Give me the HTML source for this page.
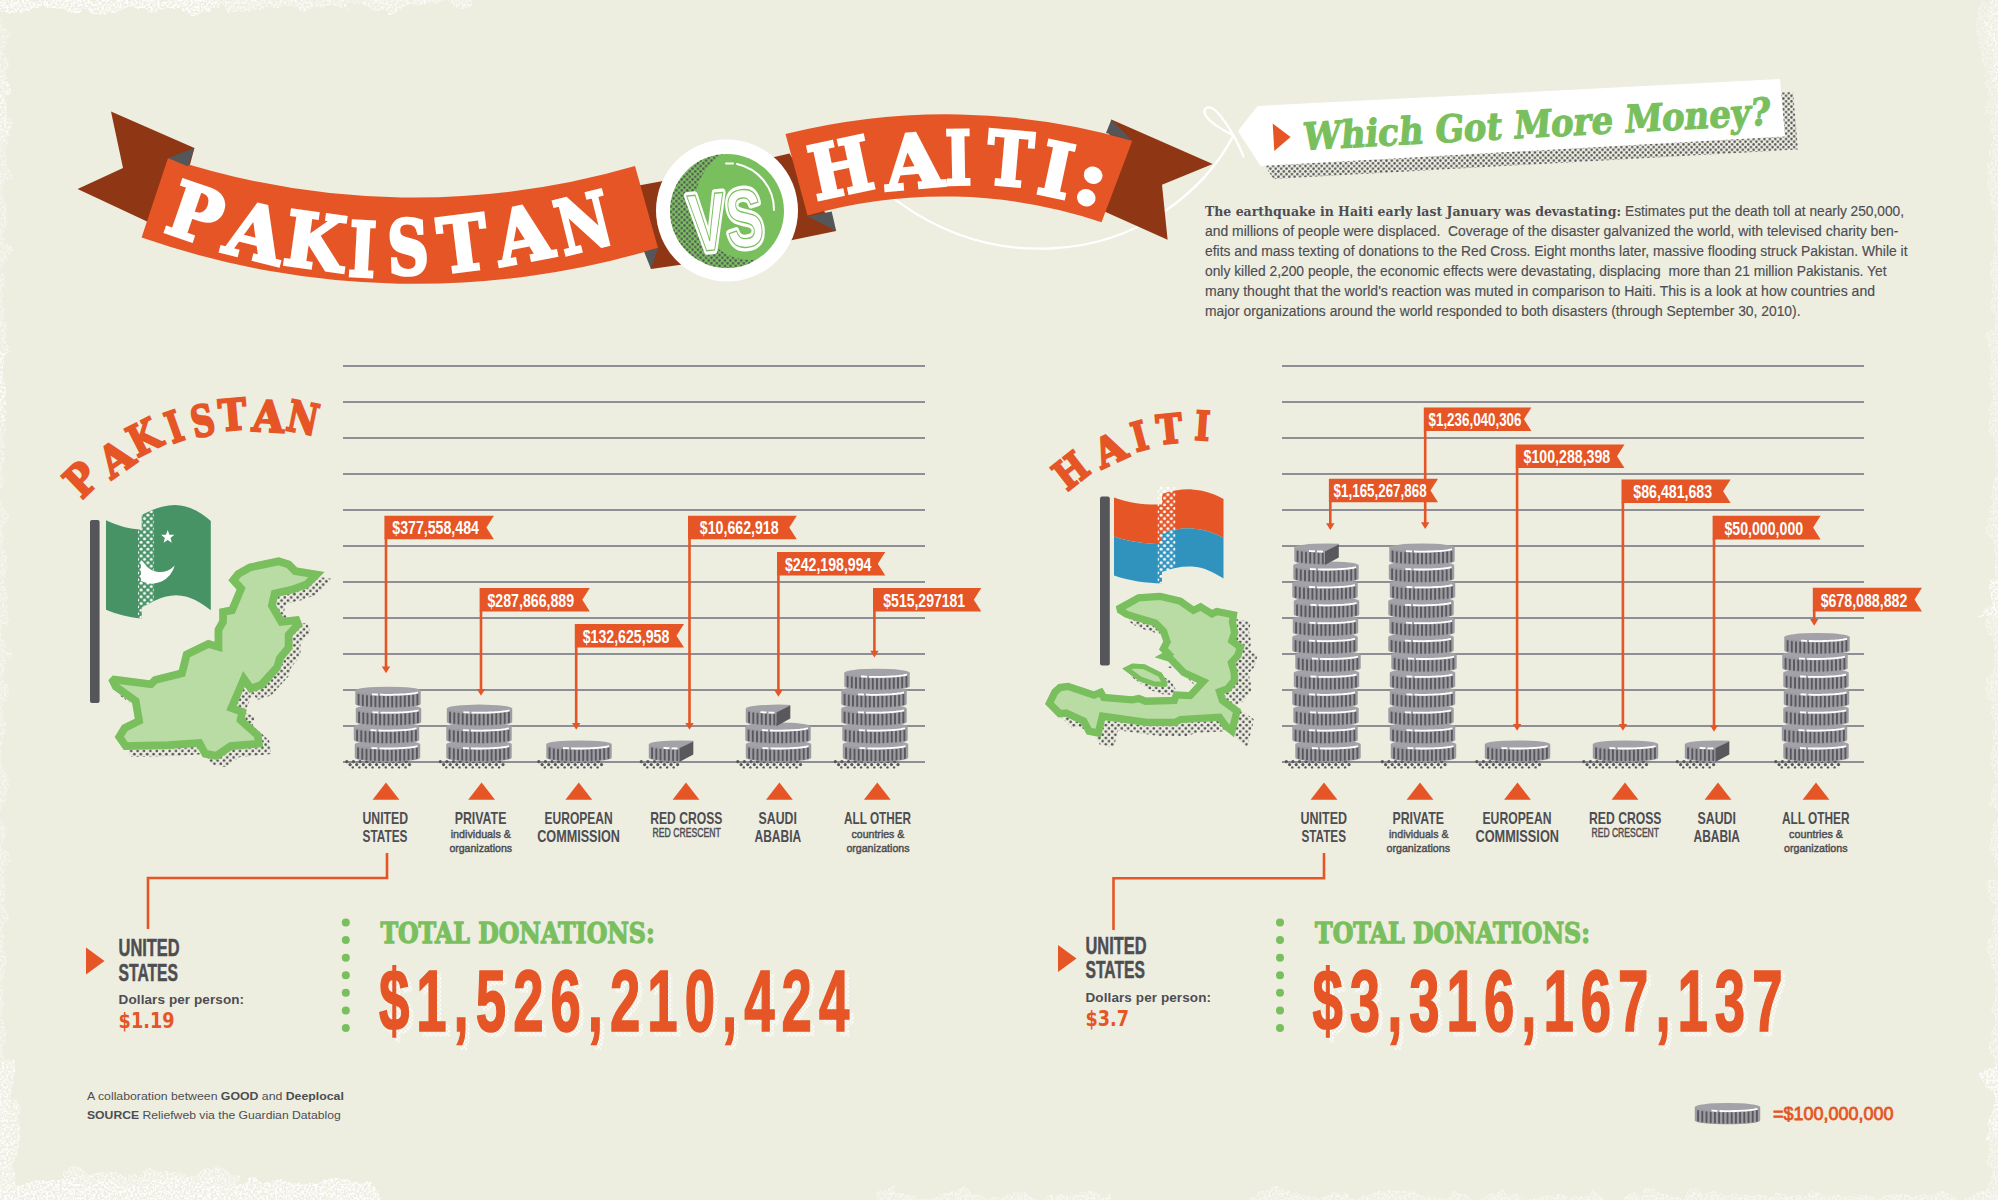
<!DOCTYPE html><html><head><meta charset="utf-8"><title>Pakistan vs Haiti: Which Got More Money?</title>
<style>html,body{margin:0;padding:0;background:#EDEDE0}svg{display:block}</style></head><body>
<svg width="1998" height="1200" viewBox="0 0 1998 1200" font-family='"Liberation Sans", sans-serif'>
<defs>
<pattern id="ht" width="6.4" height="6.4" patternUnits="userSpaceOnUse"><circle cx="1.6" cy="1.6" r="1.35" fill="#55565A"/><circle cx="4.8" cy="4.8" r="1.35" fill="#55565A"/></pattern>
<pattern id="hts" width="5.4" height="5.4" patternUnits="userSpaceOnUse"><circle cx="1.35" cy="1.35" r="1.25" fill="#55565A"/><circle cx="4.05" cy="4.05" r="1.25" fill="#55565A"/></pattern>
<pattern id="htw" width="6.8" height="6.8" patternUnits="userSpaceOnUse"><circle cx="1.7" cy="1.7" r="1.55" fill="#fff"/><circle cx="5.1" cy="5.1" r="1.55" fill="#fff"/></pattern>
<pattern id="htw2" width="7" height="4.4" patternUnits="userSpaceOnUse"><circle cx="1.75" cy="1.1" r="1.3" fill="#fff"/><circle cx="5.25" cy="3.3" r="1.3" fill="#fff"/></pattern>
</defs>
<rect width="1998" height="1200" fill="#EDEDE0"/>
<rect x="343" y="365.0" width="582" height="2" fill="#8E8E96"/>
<rect x="343" y="401.0" width="582" height="2" fill="#8E8E96"/>
<rect x="343" y="437.0" width="582" height="2" fill="#8E8E96"/>
<rect x="343" y="473.0" width="582" height="2" fill="#8E8E96"/>
<rect x="343" y="509.0" width="582" height="2" fill="#8E8E96"/>
<rect x="343" y="545.0" width="582" height="2" fill="#8E8E96"/>
<rect x="343" y="581.0" width="582" height="2" fill="#8E8E96"/>
<rect x="343" y="617.0" width="582" height="2" fill="#8E8E96"/>
<rect x="343" y="653.0" width="582" height="2" fill="#8E8E96"/>
<rect x="343" y="689.0" width="582" height="2" fill="#8E8E96"/>
<rect x="343" y="725.0" width="582" height="2" fill="#8E8E96"/>
<rect x="343" y="761.0" width="582" height="2" fill="#8E8E96"/>
<rect x="1282" y="365.0" width="582" height="2" fill="#8E8E96"/>
<rect x="1282" y="401.0" width="582" height="2" fill="#8E8E96"/>
<rect x="1282" y="437.0" width="582" height="2" fill="#8E8E96"/>
<rect x="1282" y="473.0" width="582" height="2" fill="#8E8E96"/>
<rect x="1282" y="509.0" width="582" height="2" fill="#8E8E96"/>
<rect x="1282" y="545.0" width="582" height="2" fill="#8E8E96"/>
<rect x="1282" y="581.0" width="582" height="2" fill="#8E8E96"/>
<rect x="1282" y="617.0" width="582" height="2" fill="#8E8E96"/>
<rect x="1282" y="653.0" width="582" height="2" fill="#8E8E96"/>
<rect x="1282" y="689.0" width="582" height="2" fill="#8E8E96"/>
<rect x="1282" y="725.0" width="582" height="2" fill="#8E8E96"/>
<rect x="1282" y="761.0" width="582" height="2" fill="#8E8E96"/>
<path d="M1233.5,135.4 C1205,190 1140,245 1050,248.5 C990,251 940,232 899,202.4 L880,188 M1233.5,135.4 C1229,128 1222,115 1213.7,109.1 C1208,105.5 1202.5,108 1205.2,114.5 C1208,121 1222,130 1233.5,135.4 C1237,142 1241,150 1243.5,156.6" fill="none" stroke="#fff" stroke-width="2.3" stroke-linecap="round"/>
<polygon points="111.0,111.6 194.4,148.0 170.0,240.0 146.0,221.0 77.6,189.0 123.0,168.0" fill="#8F3614"/>
<polygon points="636.0,186.0 690.0,176.0 700.0,262.0 651.0,269.0" fill="#8F3614"/>
<polygon points="770.0,158.0 789.5,153.5 836.2,231.0 790.0,240.5 770.0,243.0" fill="#8F3614"/>
<polygon points="1111.4,119.4 1212.7,163.9 1162.0,184.8 1167.6,239.8 1100.0,209.5" fill="#8F3614"/>
<path d="M168.0,158.0 A788.0,788.0 0 0 0 635.0,166.0 L658.0,248.0 A836.6,836.6 0 0 1 141.6,237.6 Z" fill="#E55525"/>
<polygon points="168.0,158.0 194.4,148.0 188.0,166.5" fill="#55565A"/>
<polygon points="644.0,251.5 658.0,248.0 651.0,269.0" fill="#55565A"/>
<path d="M785.5,134.1 A665.8,665.8 0 0 1 1132.3,140.7 L1101.5,222.2 A496.3,496.3 0 0 0 807.5,215.6 Z" fill="#E55525"/>
<polygon points="1111.4,119.4 1106.0,133.0 1132.3,140.7" fill="#55565A"/>
<polygon points="807.5,216.3 831.7,211.5 836.2,231.0" fill="#55565A"/>
<circle cx="727" cy="210.5" r="71" fill="#fff"/>
<circle cx="727" cy="211" r="57" fill="#7ABF5E"/>
<clipPath id="vsc"><circle cx="727" cy="211" r="57"/></clipPath>
<mask id="vsm"><rect x="640" y="130" width="180" height="170" fill="#fff"/><circle cx="752" cy="203" r="57" fill="#000"/></mask>
<g clip-path="url(#vsc)"><rect x="660" y="140" width="140" height="150" fill="url(#hts)" mask="url(#vsm)"/></g>
<path d="M726,163.5 L733,163.5" stroke="#fff" stroke-width="2" fill="none" stroke-linecap="round"/>
<path d="M737,164 A47,47 0 0 1 774,210" stroke="#fff" stroke-width="2" fill="none" stroke-linecap="round"/>
<g transform="translate(729,248.5) rotate(-6)"><text x="0" y="0" text-anchor="middle" font-weight="bold" font-size="82" textLength="74" lengthAdjust="spacingAndGlyphs" fill="#fff" stroke="#fff" stroke-width="8" stroke-linejoin="round">VS</text><text x="0" y="0" text-anchor="middle" font-weight="bold" font-size="82" textLength="74" lengthAdjust="spacingAndGlyphs" fill="none" stroke="#7ABF5E" stroke-width="1.3">VS</text></g>
<text transform="translate(196.0,213.3) rotate(19.0)" x="0" y="27.3" text-anchor="middle" font-family='"DejaVu Serif", "Liberation Serif", serif' font-weight="bold" font-size="75" fill="#fff" stroke="#fff" stroke-width="3.4" lengthAdjust="spacingAndGlyphs" textLength="52">P</text>
<text transform="translate(256.0,232.0) rotate(14.0)" x="0" y="27.3" text-anchor="middle" font-family='"DejaVu Serif", "Liberation Serif", serif' font-weight="bold" font-size="75" fill="#fff" stroke="#fff" stroke-width="3.4" lengthAdjust="spacingAndGlyphs" textLength="58">A</text>
<text transform="translate(315.0,241.0) rotate(8.0)" x="0" y="27.3" text-anchor="middle" font-family='"DejaVu Serif", "Liberation Serif", serif' font-weight="bold" font-size="75" fill="#fff" stroke="#fff" stroke-width="3.4" lengthAdjust="spacingAndGlyphs" textLength="60">K</text>
<text transform="translate(362.5,249.0) rotate(3.0)" x="0" y="27.3" text-anchor="middle" font-family='"DejaVu Serif", "Liberation Serif", serif' font-weight="bold" font-size="75" fill="#fff" stroke="#fff" stroke-width="3.4" lengthAdjust="spacingAndGlyphs" textLength="27">I</text>
<text transform="translate(408.0,246.8) rotate(-2.0)" x="0" y="27.3" text-anchor="middle" font-family='"DejaVu Serif", "Liberation Serif", serif' font-weight="bold" font-size="75" fill="#fff" stroke="#fff" stroke-width="3.4" lengthAdjust="spacingAndGlyphs" textLength="41">S</text>
<text transform="translate(462.7,243.2) rotate(-7.0)" x="0" y="27.3" text-anchor="middle" font-family='"DejaVu Serif", "Liberation Serif", serif' font-weight="bold" font-size="75" fill="#fff" stroke="#fff" stroke-width="3.4" lengthAdjust="spacingAndGlyphs" textLength="49">T</text>
<text transform="translate(523.0,234.1) rotate(-11.0)" x="0" y="27.3" text-anchor="middle" font-family='"DejaVu Serif", "Liberation Serif", serif' font-weight="bold" font-size="75" fill="#fff" stroke="#fff" stroke-width="3.4" lengthAdjust="spacingAndGlyphs" textLength="56">A</text>
<text transform="translate(583.5,222.4) rotate(-14.0)" x="0" y="27.3" text-anchor="middle" font-family='"DejaVu Serif", "Liberation Serif", serif' font-weight="bold" font-size="75" fill="#fff" stroke="#fff" stroke-width="3.4" lengthAdjust="spacingAndGlyphs" textLength="54">N</text>
<text transform="translate(840.6,167.5) rotate(-12.0)" x="0" y="27.0" text-anchor="middle" font-family='"DejaVu Serif", "Liberation Serif", serif' font-weight="bold" font-size="74" fill="#fff" stroke="#fff" stroke-width="3.4" lengthAdjust="spacingAndGlyphs" textLength="62">H</text>
<text transform="translate(913.2,160.8) rotate(-5.0)" x="0" y="27.0" text-anchor="middle" font-family='"DejaVu Serif", "Liberation Serif", serif' font-weight="bold" font-size="74" fill="#fff" stroke="#fff" stroke-width="3.4" lengthAdjust="spacingAndGlyphs" textLength="58">A</text>
<text transform="translate(958.4,157.2) rotate(-1.0)" x="0" y="27.0" text-anchor="middle" font-family='"DejaVu Serif", "Liberation Serif", serif' font-weight="bold" font-size="74" fill="#fff" stroke="#fff" stroke-width="3.4" lengthAdjust="spacingAndGlyphs" textLength="26">I</text>
<text transform="translate(1010.0,158.4) rotate(5.0)" x="0" y="27.0" text-anchor="middle" font-family='"DejaVu Serif", "Liberation Serif", serif' font-weight="bold" font-size="74" fill="#fff" stroke="#fff" stroke-width="3.4" lengthAdjust="spacingAndGlyphs" textLength="46">T</text>
<text transform="translate(1056.4,169.4) rotate(12.0)" x="0" y="27.0" text-anchor="middle" font-family='"DejaVu Serif", "Liberation Serif", serif' font-weight="bold" font-size="74" fill="#fff" stroke="#fff" stroke-width="3.4" lengthAdjust="spacingAndGlyphs" textLength="32">I</text>
<text transform="translate(1092.5,177.5) rotate(17.0)" x="0" y="27.0" text-anchor="middle" font-family='"DejaVu Serif", "Liberation Serif", serif' font-weight="bold" font-size="74" fill="#fff" stroke="#fff" stroke-width="3.4" lengthAdjust="spacingAndGlyphs" textLength="30">:</text>
<polygon points="1270.6,119.0 1793.0,92.0 1798.0,149.5 1273.5,179.0 1250.8,144.0" fill="url(#hts)"/>
<polygon points="1257.6,106.0 1780.0,79.0 1785.0,136.5 1260.5,166.0 1237.8,131.0" fill="#fff"/>
<polygon points="1272.7,123.4 1290.6,137.0 1274.3,151.0" fill="#E55525"/>
<text transform="translate(1302,150) rotate(-3.1) skewX(-8)" x="0" y="0" font-family='"DejaVu Serif", "Liberation Serif", serif' font-weight="bold" font-size="37.5" textLength="468" lengthAdjust="spacingAndGlyphs" fill="#7ABF5E" stroke="#7ABF5E" stroke-width="1.2">Which Got More Money?</text>
<text x="1205" y="216" font-family='"DejaVu Serif", "Liberation Serif", serif' font-weight="bold" font-size="12.5" textLength="416.0" lengthAdjust="spacingAndGlyphs" fill="#4D4D52">The earthquake in Haiti early last January was devastating:</text>
<text x="1625.0" y="216" font-size="13.8" stroke="#4D4D52" stroke-width="0.15" textLength="279.0" lengthAdjust="spacingAndGlyphs" fill="#4D4D52">Estimates put the death toll at nearly 250,000,</text>
<text x="1205" y="236" font-size="13.8" stroke="#4D4D52" stroke-width="0.15" textLength="693.5" lengthAdjust="spacingAndGlyphs" fill="#4D4D52" xml:space="preserve">and millions of people were displaced.  Coverage of the disaster galvanized the world, with televised charity ben-</text>
<text x="1205" y="256" font-size="13.8" stroke="#4D4D52" stroke-width="0.15" textLength="702.5" lengthAdjust="spacingAndGlyphs" fill="#4D4D52" xml:space="preserve">efits and mass texting of donations to the Red Cross. Eight months later, massive flooding struck Pakistan. While it</text>
<text x="1205" y="276" font-size="13.8" stroke="#4D4D52" stroke-width="0.15" textLength="681.5" lengthAdjust="spacingAndGlyphs" fill="#4D4D52" xml:space="preserve">only killed 2,200 people, the economic effects were devastating, displacing  more than 21 million Pakistanis. Yet</text>
<text x="1205" y="296" font-size="13.8" stroke="#4D4D52" stroke-width="0.15" textLength="670.0" lengthAdjust="spacingAndGlyphs" fill="#4D4D52" xml:space="preserve">many thought that the world's reaction was muted in comparison to Haiti. This is a look at how countries and</text>
<text x="1205" y="316" font-size="13.8" stroke="#4D4D52" stroke-width="0.15" textLength="595.5" lengthAdjust="spacingAndGlyphs" fill="#4D4D52" xml:space="preserve">major organizations around the world responded to both disasters (through September 30, 2010).</text>
<circle cx="346.8" cy="761.6" r="1.6" fill="#55565A"/><circle cx="353.4" cy="761.6" r="1.6" fill="#55565A"/><circle cx="360.0" cy="761.6" r="1.6" fill="#55565A"/><circle cx="366.6" cy="761.6" r="1.6" fill="#55565A"/><circle cx="373.2" cy="761.6" r="1.6" fill="#55565A"/><circle cx="379.8" cy="761.6" r="1.6" fill="#55565A"/><circle cx="386.4" cy="761.6" r="1.6" fill="#55565A"/><circle cx="393.0" cy="761.6" r="1.6" fill="#55565A"/><circle cx="399.6" cy="761.6" r="1.6" fill="#55565A"/><circle cx="406.2" cy="761.6" r="1.6" fill="#55565A"/><circle cx="350.1" cy="764.6" r="1.6" fill="#55565A"/><circle cx="356.7" cy="764.6" r="1.6" fill="#55565A"/><circle cx="363.3" cy="764.6" r="1.6" fill="#55565A"/><circle cx="369.9" cy="764.6" r="1.6" fill="#55565A"/><circle cx="376.5" cy="764.6" r="1.6" fill="#55565A"/><circle cx="383.1" cy="764.6" r="1.6" fill="#55565A"/><circle cx="389.7" cy="764.6" r="1.6" fill="#55565A"/><circle cx="396.3" cy="764.6" r="1.6" fill="#55565A"/><circle cx="402.9" cy="764.6" r="1.6" fill="#55565A"/><circle cx="409.5" cy="764.6" r="1.6" fill="#55565A"/><circle cx="352.8" cy="767.4" r="1.2" fill="#55565A"/><circle cx="359.4" cy="767.4" r="1.2" fill="#55565A"/><circle cx="366.0" cy="767.4" r="1.2" fill="#55565A"/><circle cx="372.6" cy="767.4" r="1.2" fill="#55565A"/><circle cx="379.2" cy="767.4" r="1.2" fill="#55565A"/><circle cx="385.8" cy="767.4" r="1.2" fill="#55565A"/><circle cx="392.4" cy="767.4" r="1.2" fill="#55565A"/><circle cx="399.0" cy="767.4" r="1.2" fill="#55565A"/><circle cx="405.6" cy="767.4" r="1.2" fill="#55565A"/>
<path d="M354.8,744.3 v13.5 a32.7,3.9 0 0 0 65.4,0 v-13.5 z" fill="#9C9CA2"/><ellipse cx="387.5" cy="744.3" rx="32.7" ry="3.9" fill="#A2A2A8"/><line x1="358.1" y1="748.3" x2="358.1" y2="758.1" stroke="#58585D" stroke-width="1.9" stroke-linecap="round"/><line x1="362.3" y1="749.1" x2="362.3" y2="758.9" stroke="#58585D" stroke-width="1.9" stroke-linecap="round"/><line x1="366.5" y1="749.6" x2="366.5" y2="759.4" stroke="#58585D" stroke-width="1.9" stroke-linecap="round"/><line x1="370.7" y1="749.9" x2="370.7" y2="759.7" stroke="#58585D" stroke-width="1.9" stroke-linecap="round"/><line x1="374.9" y1="750.2" x2="374.9" y2="760.0" stroke="#58585D" stroke-width="1.9" stroke-linecap="round"/><line x1="379.1" y1="750.4" x2="379.1" y2="760.2" stroke="#58585D" stroke-width="1.9" stroke-linecap="round"/><line x1="383.3" y1="750.5" x2="383.3" y2="760.3" stroke="#58585D" stroke-width="1.9" stroke-linecap="round"/><line x1="387.5" y1="750.5" x2="387.5" y2="760.3" stroke="#58585D" stroke-width="1.9" stroke-linecap="round"/><line x1="391.7" y1="750.5" x2="391.7" y2="760.3" stroke="#58585D" stroke-width="1.9" stroke-linecap="round"/><line x1="395.9" y1="750.4" x2="395.9" y2="760.2" stroke="#58585D" stroke-width="1.9" stroke-linecap="round"/><line x1="400.1" y1="750.2" x2="400.1" y2="760.0" stroke="#58585D" stroke-width="1.9" stroke-linecap="round"/><line x1="404.3" y1="749.9" x2="404.3" y2="759.7" stroke="#58585D" stroke-width="1.9" stroke-linecap="round"/><line x1="408.5" y1="749.6" x2="408.5" y2="759.4" stroke="#58585D" stroke-width="1.9" stroke-linecap="round"/><line x1="412.7" y1="749.1" x2="412.7" y2="758.9" stroke="#58585D" stroke-width="1.9" stroke-linecap="round"/><line x1="416.9" y1="748.3" x2="416.9" y2="758.1" stroke="#58585D" stroke-width="1.9" stroke-linecap="round"/><polyline points="371.5,748.0 373.5,748.1 375.5,748.2 377.5,748.3" fill="none" stroke="#fff" stroke-width="1.8"/><polyline points="379.5,748.4 381.5,748.4 383.5,748.5 385.5,748.5 387.5,748.5 389.5,748.5 391.5,748.5 393.5,748.4 395.5,748.4 397.5,748.3 399.5,748.2 401.5,748.1 403.5,748.0 405.5,747.9 407.5,747.7 409.5,747.5 411.5,747.2 413.5,747.0 415.5,746.6 417.5,746.2" fill="none" stroke="#fff" stroke-width="1.8"/>
<path d="M353.8,726.4 v13.5 a32.7,3.9 0 0 0 65.4,0 v-13.5 z" fill="#9C9CA2"/><ellipse cx="386.5" cy="726.4" rx="32.7" ry="3.9" fill="#A2A2A8"/><line x1="357.1" y1="730.4" x2="357.1" y2="740.2" stroke="#58585D" stroke-width="1.9" stroke-linecap="round"/><line x1="361.3" y1="731.2" x2="361.3" y2="741.0" stroke="#58585D" stroke-width="1.9" stroke-linecap="round"/><line x1="365.5" y1="731.7" x2="365.5" y2="741.5" stroke="#58585D" stroke-width="1.9" stroke-linecap="round"/><line x1="369.7" y1="732.0" x2="369.7" y2="741.8" stroke="#58585D" stroke-width="1.9" stroke-linecap="round"/><line x1="373.9" y1="732.3" x2="373.9" y2="742.1" stroke="#58585D" stroke-width="1.9" stroke-linecap="round"/><line x1="378.1" y1="732.5" x2="378.1" y2="742.3" stroke="#58585D" stroke-width="1.9" stroke-linecap="round"/><line x1="382.3" y1="732.6" x2="382.3" y2="742.4" stroke="#58585D" stroke-width="1.9" stroke-linecap="round"/><line x1="386.5" y1="732.6" x2="386.5" y2="742.4" stroke="#58585D" stroke-width="1.9" stroke-linecap="round"/><line x1="390.7" y1="732.6" x2="390.7" y2="742.4" stroke="#58585D" stroke-width="1.9" stroke-linecap="round"/><line x1="394.9" y1="732.5" x2="394.9" y2="742.3" stroke="#58585D" stroke-width="1.9" stroke-linecap="round"/><line x1="399.1" y1="732.3" x2="399.1" y2="742.1" stroke="#58585D" stroke-width="1.9" stroke-linecap="round"/><line x1="403.3" y1="732.0" x2="403.3" y2="741.8" stroke="#58585D" stroke-width="1.9" stroke-linecap="round"/><line x1="407.5" y1="731.7" x2="407.5" y2="741.5" stroke="#58585D" stroke-width="1.9" stroke-linecap="round"/><line x1="411.7" y1="731.2" x2="411.7" y2="741.0" stroke="#58585D" stroke-width="1.9" stroke-linecap="round"/><line x1="415.9" y1="730.4" x2="415.9" y2="740.2" stroke="#58585D" stroke-width="1.9" stroke-linecap="round"/><polyline points="370.5,730.1 372.5,730.2 374.5,730.3 376.5,730.4" fill="none" stroke="#fff" stroke-width="1.8"/><polyline points="378.5,730.5 380.5,730.5 382.5,730.6 384.5,730.6 386.5,730.6 388.5,730.6 390.5,730.6 392.5,730.5 394.5,730.5 396.5,730.4 398.5,730.3 400.5,730.2 402.5,730.1 404.5,730.0 406.5,729.8 408.5,729.6 410.5,729.3 412.5,729.1 414.5,728.7 416.5,728.3" fill="none" stroke="#fff" stroke-width="1.8"/>
<path d="M355.8,708.5 v13.5 a32.7,3.9 0 0 0 65.4,0 v-13.5 z" fill="#9C9CA2"/><ellipse cx="388.5" cy="708.5" rx="32.7" ry="3.9" fill="#A2A2A8"/><line x1="359.1" y1="712.5" x2="359.1" y2="722.3" stroke="#58585D" stroke-width="1.9" stroke-linecap="round"/><line x1="363.3" y1="713.3" x2="363.3" y2="723.1" stroke="#58585D" stroke-width="1.9" stroke-linecap="round"/><line x1="367.5" y1="713.8" x2="367.5" y2="723.6" stroke="#58585D" stroke-width="1.9" stroke-linecap="round"/><line x1="371.7" y1="714.1" x2="371.7" y2="723.9" stroke="#58585D" stroke-width="1.9" stroke-linecap="round"/><line x1="375.9" y1="714.4" x2="375.9" y2="724.2" stroke="#58585D" stroke-width="1.9" stroke-linecap="round"/><line x1="380.1" y1="714.6" x2="380.1" y2="724.4" stroke="#58585D" stroke-width="1.9" stroke-linecap="round"/><line x1="384.3" y1="714.7" x2="384.3" y2="724.5" stroke="#58585D" stroke-width="1.9" stroke-linecap="round"/><line x1="388.5" y1="714.7" x2="388.5" y2="724.5" stroke="#58585D" stroke-width="1.9" stroke-linecap="round"/><line x1="392.7" y1="714.7" x2="392.7" y2="724.5" stroke="#58585D" stroke-width="1.9" stroke-linecap="round"/><line x1="396.9" y1="714.6" x2="396.9" y2="724.4" stroke="#58585D" stroke-width="1.9" stroke-linecap="round"/><line x1="401.1" y1="714.4" x2="401.1" y2="724.2" stroke="#58585D" stroke-width="1.9" stroke-linecap="round"/><line x1="405.3" y1="714.1" x2="405.3" y2="723.9" stroke="#58585D" stroke-width="1.9" stroke-linecap="round"/><line x1="409.5" y1="713.8" x2="409.5" y2="723.6" stroke="#58585D" stroke-width="1.9" stroke-linecap="round"/><line x1="413.7" y1="713.3" x2="413.7" y2="723.1" stroke="#58585D" stroke-width="1.9" stroke-linecap="round"/><line x1="417.9" y1="712.5" x2="417.9" y2="722.3" stroke="#58585D" stroke-width="1.9" stroke-linecap="round"/><polyline points="372.5,712.2 374.5,712.3 376.5,712.4 378.5,712.5" fill="none" stroke="#fff" stroke-width="1.8"/><polyline points="380.5,712.6 382.5,712.6 384.5,712.7 386.5,712.7 388.5,712.7 390.5,712.7 392.5,712.7 394.5,712.6 396.5,712.6 398.5,712.5 400.5,712.4 402.5,712.3 404.5,712.2 406.5,712.1 408.5,711.9 410.5,711.7 412.5,711.4 414.5,711.2 416.5,710.8 418.5,710.4" fill="none" stroke="#fff" stroke-width="1.8"/>
<path d="M355.3,690.6 v13.5 a32.7,3.9 0 0 0 65.4,0 v-13.5 z" fill="#9C9CA2"/><ellipse cx="388.0" cy="690.6" rx="32.7" ry="3.9" fill="#A2A2A8"/><line x1="358.6" y1="694.6" x2="358.6" y2="704.4" stroke="#58585D" stroke-width="1.9" stroke-linecap="round"/><line x1="362.8" y1="695.4" x2="362.8" y2="705.2" stroke="#58585D" stroke-width="1.9" stroke-linecap="round"/><line x1="367.0" y1="695.9" x2="367.0" y2="705.7" stroke="#58585D" stroke-width="1.9" stroke-linecap="round"/><line x1="371.2" y1="696.2" x2="371.2" y2="706.0" stroke="#58585D" stroke-width="1.9" stroke-linecap="round"/><line x1="375.4" y1="696.5" x2="375.4" y2="706.3" stroke="#58585D" stroke-width="1.9" stroke-linecap="round"/><line x1="379.6" y1="696.7" x2="379.6" y2="706.5" stroke="#58585D" stroke-width="1.9" stroke-linecap="round"/><line x1="383.8" y1="696.8" x2="383.8" y2="706.6" stroke="#58585D" stroke-width="1.9" stroke-linecap="round"/><line x1="388.0" y1="696.8" x2="388.0" y2="706.6" stroke="#58585D" stroke-width="1.9" stroke-linecap="round"/><line x1="392.2" y1="696.8" x2="392.2" y2="706.6" stroke="#58585D" stroke-width="1.9" stroke-linecap="round"/><line x1="396.4" y1="696.7" x2="396.4" y2="706.5" stroke="#58585D" stroke-width="1.9" stroke-linecap="round"/><line x1="400.6" y1="696.5" x2="400.6" y2="706.3" stroke="#58585D" stroke-width="1.9" stroke-linecap="round"/><line x1="404.8" y1="696.2" x2="404.8" y2="706.0" stroke="#58585D" stroke-width="1.9" stroke-linecap="round"/><line x1="409.0" y1="695.9" x2="409.0" y2="705.7" stroke="#58585D" stroke-width="1.9" stroke-linecap="round"/><line x1="413.2" y1="695.4" x2="413.2" y2="705.2" stroke="#58585D" stroke-width="1.9" stroke-linecap="round"/><line x1="417.4" y1="694.6" x2="417.4" y2="704.4" stroke="#58585D" stroke-width="1.9" stroke-linecap="round"/><polyline points="372.0,694.3 374.0,694.4 376.0,694.5 378.0,694.6" fill="none" stroke="#fff" stroke-width="1.8"/><polyline points="380.0,694.7 382.0,694.7 384.0,694.8 386.0,694.8 388.0,694.8 390.0,694.8 392.0,694.8 394.0,694.7 396.0,694.7 398.0,694.6 400.0,694.5 402.0,694.4 404.0,694.3 406.0,694.2 408.0,694.0 410.0,693.8 412.0,693.5 414.0,693.3 416.0,692.9 418.0,692.5" fill="none" stroke="#fff" stroke-width="1.8"/>
<circle cx="440.3" cy="761.6" r="1.6" fill="#55565A"/><circle cx="446.9" cy="761.6" r="1.6" fill="#55565A"/><circle cx="453.5" cy="761.6" r="1.6" fill="#55565A"/><circle cx="460.1" cy="761.6" r="1.6" fill="#55565A"/><circle cx="466.7" cy="761.6" r="1.6" fill="#55565A"/><circle cx="473.3" cy="761.6" r="1.6" fill="#55565A"/><circle cx="479.9" cy="761.6" r="1.6" fill="#55565A"/><circle cx="486.5" cy="761.6" r="1.6" fill="#55565A"/><circle cx="493.1" cy="761.6" r="1.6" fill="#55565A"/><circle cx="499.7" cy="761.6" r="1.6" fill="#55565A"/><circle cx="443.6" cy="764.6" r="1.6" fill="#55565A"/><circle cx="450.2" cy="764.6" r="1.6" fill="#55565A"/><circle cx="456.8" cy="764.6" r="1.6" fill="#55565A"/><circle cx="463.4" cy="764.6" r="1.6" fill="#55565A"/><circle cx="470.0" cy="764.6" r="1.6" fill="#55565A"/><circle cx="476.6" cy="764.6" r="1.6" fill="#55565A"/><circle cx="483.2" cy="764.6" r="1.6" fill="#55565A"/><circle cx="489.8" cy="764.6" r="1.6" fill="#55565A"/><circle cx="496.4" cy="764.6" r="1.6" fill="#55565A"/><circle cx="503.0" cy="764.6" r="1.6" fill="#55565A"/><circle cx="446.3" cy="767.4" r="1.2" fill="#55565A"/><circle cx="452.9" cy="767.4" r="1.2" fill="#55565A"/><circle cx="459.5" cy="767.4" r="1.2" fill="#55565A"/><circle cx="466.1" cy="767.4" r="1.2" fill="#55565A"/><circle cx="472.7" cy="767.4" r="1.2" fill="#55565A"/><circle cx="479.3" cy="767.4" r="1.2" fill="#55565A"/><circle cx="485.9" cy="767.4" r="1.2" fill="#55565A"/><circle cx="492.5" cy="767.4" r="1.2" fill="#55565A"/><circle cx="499.1" cy="767.4" r="1.2" fill="#55565A"/>
<path d="M446.3,744.3 v13.5 a32.7,3.9 0 0 0 65.4,0 v-13.5 z" fill="#9C9CA2"/><ellipse cx="479.0" cy="744.3" rx="32.7" ry="3.9" fill="#A2A2A8"/><line x1="449.6" y1="748.3" x2="449.6" y2="758.1" stroke="#58585D" stroke-width="1.9" stroke-linecap="round"/><line x1="453.8" y1="749.1" x2="453.8" y2="758.9" stroke="#58585D" stroke-width="1.9" stroke-linecap="round"/><line x1="458.0" y1="749.6" x2="458.0" y2="759.4" stroke="#58585D" stroke-width="1.9" stroke-linecap="round"/><line x1="462.2" y1="749.9" x2="462.2" y2="759.7" stroke="#58585D" stroke-width="1.9" stroke-linecap="round"/><line x1="466.4" y1="750.2" x2="466.4" y2="760.0" stroke="#58585D" stroke-width="1.9" stroke-linecap="round"/><line x1="470.6" y1="750.4" x2="470.6" y2="760.2" stroke="#58585D" stroke-width="1.9" stroke-linecap="round"/><line x1="474.8" y1="750.5" x2="474.8" y2="760.3" stroke="#58585D" stroke-width="1.9" stroke-linecap="round"/><line x1="479.0" y1="750.5" x2="479.0" y2="760.3" stroke="#58585D" stroke-width="1.9" stroke-linecap="round"/><line x1="483.2" y1="750.5" x2="483.2" y2="760.3" stroke="#58585D" stroke-width="1.9" stroke-linecap="round"/><line x1="487.4" y1="750.4" x2="487.4" y2="760.2" stroke="#58585D" stroke-width="1.9" stroke-linecap="round"/><line x1="491.6" y1="750.2" x2="491.6" y2="760.0" stroke="#58585D" stroke-width="1.9" stroke-linecap="round"/><line x1="495.8" y1="749.9" x2="495.8" y2="759.7" stroke="#58585D" stroke-width="1.9" stroke-linecap="round"/><line x1="500.0" y1="749.6" x2="500.0" y2="759.4" stroke="#58585D" stroke-width="1.9" stroke-linecap="round"/><line x1="504.2" y1="749.1" x2="504.2" y2="758.9" stroke="#58585D" stroke-width="1.9" stroke-linecap="round"/><line x1="508.4" y1="748.3" x2="508.4" y2="758.1" stroke="#58585D" stroke-width="1.9" stroke-linecap="round"/><polyline points="463.0,748.0 465.0,748.1 467.0,748.2 469.0,748.3" fill="none" stroke="#fff" stroke-width="1.8"/><polyline points="471.0,748.4 473.0,748.4 475.0,748.5 477.0,748.5 479.0,748.5 481.0,748.5 483.0,748.5 485.0,748.4 487.0,748.4 489.0,748.3 491.0,748.2 493.0,748.1 495.0,748.0 497.0,747.9 499.0,747.7 501.0,747.5 503.0,747.2 505.0,747.0 507.0,746.6 509.0,746.2" fill="none" stroke="#fff" stroke-width="1.8"/>
<path d="M446.3,726.4 v13.5 a32.7,3.9 0 0 0 65.4,0 v-13.5 z" fill="#9C9CA2"/><ellipse cx="479.0" cy="726.4" rx="32.7" ry="3.9" fill="#A2A2A8"/><line x1="449.6" y1="730.4" x2="449.6" y2="740.2" stroke="#58585D" stroke-width="1.9" stroke-linecap="round"/><line x1="453.8" y1="731.2" x2="453.8" y2="741.0" stroke="#58585D" stroke-width="1.9" stroke-linecap="round"/><line x1="458.0" y1="731.7" x2="458.0" y2="741.5" stroke="#58585D" stroke-width="1.9" stroke-linecap="round"/><line x1="462.2" y1="732.0" x2="462.2" y2="741.8" stroke="#58585D" stroke-width="1.9" stroke-linecap="round"/><line x1="466.4" y1="732.3" x2="466.4" y2="742.1" stroke="#58585D" stroke-width="1.9" stroke-linecap="round"/><line x1="470.6" y1="732.5" x2="470.6" y2="742.3" stroke="#58585D" stroke-width="1.9" stroke-linecap="round"/><line x1="474.8" y1="732.6" x2="474.8" y2="742.4" stroke="#58585D" stroke-width="1.9" stroke-linecap="round"/><line x1="479.0" y1="732.6" x2="479.0" y2="742.4" stroke="#58585D" stroke-width="1.9" stroke-linecap="round"/><line x1="483.2" y1="732.6" x2="483.2" y2="742.4" stroke="#58585D" stroke-width="1.9" stroke-linecap="round"/><line x1="487.4" y1="732.5" x2="487.4" y2="742.3" stroke="#58585D" stroke-width="1.9" stroke-linecap="round"/><line x1="491.6" y1="732.3" x2="491.6" y2="742.1" stroke="#58585D" stroke-width="1.9" stroke-linecap="round"/><line x1="495.8" y1="732.0" x2="495.8" y2="741.8" stroke="#58585D" stroke-width="1.9" stroke-linecap="round"/><line x1="500.0" y1="731.7" x2="500.0" y2="741.5" stroke="#58585D" stroke-width="1.9" stroke-linecap="round"/><line x1="504.2" y1="731.2" x2="504.2" y2="741.0" stroke="#58585D" stroke-width="1.9" stroke-linecap="round"/><line x1="508.4" y1="730.4" x2="508.4" y2="740.2" stroke="#58585D" stroke-width="1.9" stroke-linecap="round"/><polyline points="463.0,730.1 465.0,730.2 467.0,730.3 469.0,730.4" fill="none" stroke="#fff" stroke-width="1.8"/><polyline points="471.0,730.5 473.0,730.5 475.0,730.6 477.0,730.6 479.0,730.6 481.0,730.6 483.0,730.6 485.0,730.5 487.0,730.5 489.0,730.4 491.0,730.3 493.0,730.2 495.0,730.1 497.0,730.0 499.0,729.8 501.0,729.6 503.0,729.3 505.0,729.1 507.0,728.7 509.0,728.3" fill="none" stroke="#fff" stroke-width="1.8"/>
<path d="M446.8,708.5 v13.5 a32.7,3.9 0 0 0 65.4,0 v-13.5 z" fill="#9C9CA2"/><ellipse cx="479.5" cy="708.5" rx="32.7" ry="3.9" fill="#A2A2A8"/><line x1="450.1" y1="712.5" x2="450.1" y2="722.3" stroke="#58585D" stroke-width="1.9" stroke-linecap="round"/><line x1="454.3" y1="713.3" x2="454.3" y2="723.1" stroke="#58585D" stroke-width="1.9" stroke-linecap="round"/><line x1="458.5" y1="713.8" x2="458.5" y2="723.6" stroke="#58585D" stroke-width="1.9" stroke-linecap="round"/><line x1="462.7" y1="714.1" x2="462.7" y2="723.9" stroke="#58585D" stroke-width="1.9" stroke-linecap="round"/><line x1="466.9" y1="714.4" x2="466.9" y2="724.2" stroke="#58585D" stroke-width="1.9" stroke-linecap="round"/><line x1="471.1" y1="714.6" x2="471.1" y2="724.4" stroke="#58585D" stroke-width="1.9" stroke-linecap="round"/><line x1="475.3" y1="714.7" x2="475.3" y2="724.5" stroke="#58585D" stroke-width="1.9" stroke-linecap="round"/><line x1="479.5" y1="714.7" x2="479.5" y2="724.5" stroke="#58585D" stroke-width="1.9" stroke-linecap="round"/><line x1="483.7" y1="714.7" x2="483.7" y2="724.5" stroke="#58585D" stroke-width="1.9" stroke-linecap="round"/><line x1="487.9" y1="714.6" x2="487.9" y2="724.4" stroke="#58585D" stroke-width="1.9" stroke-linecap="round"/><line x1="492.1" y1="714.4" x2="492.1" y2="724.2" stroke="#58585D" stroke-width="1.9" stroke-linecap="round"/><line x1="496.3" y1="714.1" x2="496.3" y2="723.9" stroke="#58585D" stroke-width="1.9" stroke-linecap="round"/><line x1="500.5" y1="713.8" x2="500.5" y2="723.6" stroke="#58585D" stroke-width="1.9" stroke-linecap="round"/><line x1="504.7" y1="713.3" x2="504.7" y2="723.1" stroke="#58585D" stroke-width="1.9" stroke-linecap="round"/><line x1="508.9" y1="712.5" x2="508.9" y2="722.3" stroke="#58585D" stroke-width="1.9" stroke-linecap="round"/><polyline points="463.5,712.2 465.5,712.3 467.5,712.4 469.5,712.5" fill="none" stroke="#fff" stroke-width="1.8"/><polyline points="471.5,712.6 473.5,712.6 475.5,712.7 477.5,712.7 479.5,712.7 481.5,712.7 483.5,712.7 485.5,712.6 487.5,712.6 489.5,712.5 491.5,712.4 493.5,712.3 495.5,712.2 497.5,712.1 499.5,711.9 501.5,711.7 503.5,711.4 505.5,711.2 507.5,710.8 509.5,710.4" fill="none" stroke="#fff" stroke-width="1.8"/>
<circle cx="538.8" cy="761.6" r="1.6" fill="#55565A"/><circle cx="545.4" cy="761.6" r="1.6" fill="#55565A"/><circle cx="552.0" cy="761.6" r="1.6" fill="#55565A"/><circle cx="558.6" cy="761.6" r="1.6" fill="#55565A"/><circle cx="565.2" cy="761.6" r="1.6" fill="#55565A"/><circle cx="571.8" cy="761.6" r="1.6" fill="#55565A"/><circle cx="578.4" cy="761.6" r="1.6" fill="#55565A"/><circle cx="585.0" cy="761.6" r="1.6" fill="#55565A"/><circle cx="591.6" cy="761.6" r="1.6" fill="#55565A"/><circle cx="598.2" cy="761.6" r="1.6" fill="#55565A"/><circle cx="542.1" cy="764.6" r="1.6" fill="#55565A"/><circle cx="548.7" cy="764.6" r="1.6" fill="#55565A"/><circle cx="555.3" cy="764.6" r="1.6" fill="#55565A"/><circle cx="561.9" cy="764.6" r="1.6" fill="#55565A"/><circle cx="568.5" cy="764.6" r="1.6" fill="#55565A"/><circle cx="575.1" cy="764.6" r="1.6" fill="#55565A"/><circle cx="581.7" cy="764.6" r="1.6" fill="#55565A"/><circle cx="588.3" cy="764.6" r="1.6" fill="#55565A"/><circle cx="594.9" cy="764.6" r="1.6" fill="#55565A"/><circle cx="601.5" cy="764.6" r="1.6" fill="#55565A"/><circle cx="544.8" cy="767.4" r="1.2" fill="#55565A"/><circle cx="551.4" cy="767.4" r="1.2" fill="#55565A"/><circle cx="558.0" cy="767.4" r="1.2" fill="#55565A"/><circle cx="564.6" cy="767.4" r="1.2" fill="#55565A"/><circle cx="571.2" cy="767.4" r="1.2" fill="#55565A"/><circle cx="577.8" cy="767.4" r="1.2" fill="#55565A"/><circle cx="584.4" cy="767.4" r="1.2" fill="#55565A"/><circle cx="591.0" cy="767.4" r="1.2" fill="#55565A"/><circle cx="597.6" cy="767.4" r="1.2" fill="#55565A"/>
<path d="M546.3,744.3 v13.5 a32.7,3.9 0 0 0 65.4,0 v-13.5 z" fill="#9C9CA2"/><ellipse cx="579.0" cy="744.3" rx="32.7" ry="3.9" fill="#A2A2A8"/><line x1="549.6" y1="748.3" x2="549.6" y2="758.1" stroke="#58585D" stroke-width="1.9" stroke-linecap="round"/><line x1="553.8" y1="749.1" x2="553.8" y2="758.9" stroke="#58585D" stroke-width="1.9" stroke-linecap="round"/><line x1="558.0" y1="749.6" x2="558.0" y2="759.4" stroke="#58585D" stroke-width="1.9" stroke-linecap="round"/><line x1="562.2" y1="749.9" x2="562.2" y2="759.7" stroke="#58585D" stroke-width="1.9" stroke-linecap="round"/><line x1="566.4" y1="750.2" x2="566.4" y2="760.0" stroke="#58585D" stroke-width="1.9" stroke-linecap="round"/><line x1="570.6" y1="750.4" x2="570.6" y2="760.2" stroke="#58585D" stroke-width="1.9" stroke-linecap="round"/><line x1="574.8" y1="750.5" x2="574.8" y2="760.3" stroke="#58585D" stroke-width="1.9" stroke-linecap="round"/><line x1="579.0" y1="750.5" x2="579.0" y2="760.3" stroke="#58585D" stroke-width="1.9" stroke-linecap="round"/><line x1="583.2" y1="750.5" x2="583.2" y2="760.3" stroke="#58585D" stroke-width="1.9" stroke-linecap="round"/><line x1="587.4" y1="750.4" x2="587.4" y2="760.2" stroke="#58585D" stroke-width="1.9" stroke-linecap="round"/><line x1="591.6" y1="750.2" x2="591.6" y2="760.0" stroke="#58585D" stroke-width="1.9" stroke-linecap="round"/><line x1="595.8" y1="749.9" x2="595.8" y2="759.7" stroke="#58585D" stroke-width="1.9" stroke-linecap="round"/><line x1="600.0" y1="749.6" x2="600.0" y2="759.4" stroke="#58585D" stroke-width="1.9" stroke-linecap="round"/><line x1="604.2" y1="749.1" x2="604.2" y2="758.9" stroke="#58585D" stroke-width="1.9" stroke-linecap="round"/><line x1="608.4" y1="748.3" x2="608.4" y2="758.1" stroke="#58585D" stroke-width="1.9" stroke-linecap="round"/><polyline points="563.0,748.0 565.0,748.1 567.0,748.2 569.0,748.3" fill="none" stroke="#fff" stroke-width="1.8"/><polyline points="571.0,748.4 573.0,748.4 575.0,748.5 577.0,748.5 579.0,748.5 581.0,748.5 583.0,748.5 585.0,748.4 587.0,748.4 589.0,748.3 591.0,748.2 593.0,748.1 595.0,748.0 597.0,747.9 599.0,747.7 601.0,747.5 603.0,747.2 605.0,747.0 607.0,746.6 609.0,746.2" fill="none" stroke="#fff" stroke-width="1.8"/>
<circle cx="641.3" cy="761.6" r="1.6" fill="#55565A"/><circle cx="647.9" cy="761.6" r="1.6" fill="#55565A"/><circle cx="654.5" cy="761.6" r="1.6" fill="#55565A"/><circle cx="661.1" cy="761.6" r="1.6" fill="#55565A"/><circle cx="667.7" cy="761.6" r="1.6" fill="#55565A"/><circle cx="674.3" cy="761.6" r="1.6" fill="#55565A"/><circle cx="644.6" cy="764.6" r="1.6" fill="#55565A"/><circle cx="651.2" cy="764.6" r="1.6" fill="#55565A"/><circle cx="657.8" cy="764.6" r="1.6" fill="#55565A"/><circle cx="664.4" cy="764.6" r="1.6" fill="#55565A"/><circle cx="671.0" cy="764.6" r="1.6" fill="#55565A"/><circle cx="677.6" cy="764.6" r="1.6" fill="#55565A"/><circle cx="647.3" cy="767.4" r="1.2" fill="#55565A"/><circle cx="653.9" cy="767.4" r="1.2" fill="#55565A"/><circle cx="660.5" cy="767.4" r="1.2" fill="#55565A"/><circle cx="667.1" cy="767.4" r="1.2" fill="#55565A"/><circle cx="673.7" cy="767.4" r="1.2" fill="#55565A"/>
<clipPath id="c101071364b"><rect x="647.8" y="738.4" width="31.5" height="40"/></clipPath><clipPath id="c101071364"><polygon points="647.8,738.4 693.3,738.4 693.3,741.9 679.3,748.9 647.8,748.9"/></clipPath><path d="M648.8,744.3 v13.5 a32.7,3.9 0 0 0 65.4,0 v-13.5 z" fill="#9C9CA2" clip-path="url(#c101071364b)"/><ellipse cx="681.5" cy="744.3" rx="32.7" ry="3.9" fill="#A2A2A8" clip-path="url(#c101071364)"/><polygon points="679.3,748.3 693.3,741.4 693.3,754.4 679.3,762.0" fill="#58585D"/><line x1="652.1" y1="748.3" x2="652.1" y2="758.1" stroke="#58585D" stroke-width="1.9" stroke-linecap="round"/><line x1="656.3" y1="749.1" x2="656.3" y2="758.9" stroke="#58585D" stroke-width="1.9" stroke-linecap="round"/><line x1="660.5" y1="749.6" x2="660.5" y2="759.4" stroke="#58585D" stroke-width="1.9" stroke-linecap="round"/><line x1="664.7" y1="749.9" x2="664.7" y2="759.7" stroke="#58585D" stroke-width="1.9" stroke-linecap="round"/><line x1="668.9" y1="750.2" x2="668.9" y2="760.0" stroke="#58585D" stroke-width="1.9" stroke-linecap="round"/><line x1="673.1" y1="750.4" x2="673.1" y2="760.2" stroke="#58585D" stroke-width="1.9" stroke-linecap="round"/><line x1="677.3" y1="750.5" x2="677.3" y2="760.3" stroke="#58585D" stroke-width="1.9" stroke-linecap="round"/><polyline points="663.5,747.9 665.5,748.0 667.5,748.1 669.5,748.2" fill="none" stroke="#fff" stroke-width="1.8"/><polyline points="671.5,748.3 673.5,748.4 675.5,748.4 677.5,748.5" fill="none" stroke="#fff" stroke-width="1.8"/>
<circle cx="737.8" cy="761.6" r="1.6" fill="#55565A"/><circle cx="744.4" cy="761.6" r="1.6" fill="#55565A"/><circle cx="751.0" cy="761.6" r="1.6" fill="#55565A"/><circle cx="757.6" cy="761.6" r="1.6" fill="#55565A"/><circle cx="764.2" cy="761.6" r="1.6" fill="#55565A"/><circle cx="770.8" cy="761.6" r="1.6" fill="#55565A"/><circle cx="777.4" cy="761.6" r="1.6" fill="#55565A"/><circle cx="784.0" cy="761.6" r="1.6" fill="#55565A"/><circle cx="790.6" cy="761.6" r="1.6" fill="#55565A"/><circle cx="797.2" cy="761.6" r="1.6" fill="#55565A"/><circle cx="741.1" cy="764.6" r="1.6" fill="#55565A"/><circle cx="747.7" cy="764.6" r="1.6" fill="#55565A"/><circle cx="754.3" cy="764.6" r="1.6" fill="#55565A"/><circle cx="760.9" cy="764.6" r="1.6" fill="#55565A"/><circle cx="767.5" cy="764.6" r="1.6" fill="#55565A"/><circle cx="774.1" cy="764.6" r="1.6" fill="#55565A"/><circle cx="780.7" cy="764.6" r="1.6" fill="#55565A"/><circle cx="787.3" cy="764.6" r="1.6" fill="#55565A"/><circle cx="793.9" cy="764.6" r="1.6" fill="#55565A"/><circle cx="800.5" cy="764.6" r="1.6" fill="#55565A"/><circle cx="743.8" cy="767.4" r="1.2" fill="#55565A"/><circle cx="750.4" cy="767.4" r="1.2" fill="#55565A"/><circle cx="757.0" cy="767.4" r="1.2" fill="#55565A"/><circle cx="763.6" cy="767.4" r="1.2" fill="#55565A"/><circle cx="770.2" cy="767.4" r="1.2" fill="#55565A"/><circle cx="776.8" cy="767.4" r="1.2" fill="#55565A"/><circle cx="783.4" cy="767.4" r="1.2" fill="#55565A"/><circle cx="790.0" cy="767.4" r="1.2" fill="#55565A"/><circle cx="796.6" cy="767.4" r="1.2" fill="#55565A"/>
<path d="M745.8,744.3 v13.5 a32.7,3.9 0 0 0 65.4,0 v-13.5 z" fill="#9C9CA2"/><ellipse cx="778.5" cy="744.3" rx="32.7" ry="3.9" fill="#A2A2A8"/><line x1="749.1" y1="748.3" x2="749.1" y2="758.1" stroke="#58585D" stroke-width="1.9" stroke-linecap="round"/><line x1="753.3" y1="749.1" x2="753.3" y2="758.9" stroke="#58585D" stroke-width="1.9" stroke-linecap="round"/><line x1="757.5" y1="749.6" x2="757.5" y2="759.4" stroke="#58585D" stroke-width="1.9" stroke-linecap="round"/><line x1="761.7" y1="749.9" x2="761.7" y2="759.7" stroke="#58585D" stroke-width="1.9" stroke-linecap="round"/><line x1="765.9" y1="750.2" x2="765.9" y2="760.0" stroke="#58585D" stroke-width="1.9" stroke-linecap="round"/><line x1="770.1" y1="750.4" x2="770.1" y2="760.2" stroke="#58585D" stroke-width="1.9" stroke-linecap="round"/><line x1="774.3" y1="750.5" x2="774.3" y2="760.3" stroke="#58585D" stroke-width="1.9" stroke-linecap="round"/><line x1="778.5" y1="750.5" x2="778.5" y2="760.3" stroke="#58585D" stroke-width="1.9" stroke-linecap="round"/><line x1="782.7" y1="750.5" x2="782.7" y2="760.3" stroke="#58585D" stroke-width="1.9" stroke-linecap="round"/><line x1="786.9" y1="750.4" x2="786.9" y2="760.2" stroke="#58585D" stroke-width="1.9" stroke-linecap="round"/><line x1="791.1" y1="750.2" x2="791.1" y2="760.0" stroke="#58585D" stroke-width="1.9" stroke-linecap="round"/><line x1="795.3" y1="749.9" x2="795.3" y2="759.7" stroke="#58585D" stroke-width="1.9" stroke-linecap="round"/><line x1="799.5" y1="749.6" x2="799.5" y2="759.4" stroke="#58585D" stroke-width="1.9" stroke-linecap="round"/><line x1="803.7" y1="749.1" x2="803.7" y2="758.9" stroke="#58585D" stroke-width="1.9" stroke-linecap="round"/><line x1="807.9" y1="748.3" x2="807.9" y2="758.1" stroke="#58585D" stroke-width="1.9" stroke-linecap="round"/><polyline points="762.5,748.0 764.5,748.1 766.5,748.2 768.5,748.3" fill="none" stroke="#fff" stroke-width="1.8"/><polyline points="770.5,748.4 772.5,748.4 774.5,748.5 776.5,748.5 778.5,748.5 780.5,748.5 782.5,748.5 784.5,748.4 786.5,748.4 788.5,748.3 790.5,748.2 792.5,748.1 794.5,748.0 796.5,747.9 798.5,747.7 800.5,747.5 802.5,747.2 804.5,747.0 806.5,746.6 808.5,746.2" fill="none" stroke="#fff" stroke-width="1.8"/>
<path d="M745.3,726.4 v13.5 a32.7,3.9 0 0 0 65.4,0 v-13.5 z" fill="#9C9CA2"/><ellipse cx="778.0" cy="726.4" rx="32.7" ry="3.9" fill="#A2A2A8"/><line x1="748.6" y1="730.4" x2="748.6" y2="740.2" stroke="#58585D" stroke-width="1.9" stroke-linecap="round"/><line x1="752.8" y1="731.2" x2="752.8" y2="741.0" stroke="#58585D" stroke-width="1.9" stroke-linecap="round"/><line x1="757.0" y1="731.7" x2="757.0" y2="741.5" stroke="#58585D" stroke-width="1.9" stroke-linecap="round"/><line x1="761.2" y1="732.0" x2="761.2" y2="741.8" stroke="#58585D" stroke-width="1.9" stroke-linecap="round"/><line x1="765.4" y1="732.3" x2="765.4" y2="742.1" stroke="#58585D" stroke-width="1.9" stroke-linecap="round"/><line x1="769.6" y1="732.5" x2="769.6" y2="742.3" stroke="#58585D" stroke-width="1.9" stroke-linecap="round"/><line x1="773.8" y1="732.6" x2="773.8" y2="742.4" stroke="#58585D" stroke-width="1.9" stroke-linecap="round"/><line x1="778.0" y1="732.6" x2="778.0" y2="742.4" stroke="#58585D" stroke-width="1.9" stroke-linecap="round"/><line x1="782.2" y1="732.6" x2="782.2" y2="742.4" stroke="#58585D" stroke-width="1.9" stroke-linecap="round"/><line x1="786.4" y1="732.5" x2="786.4" y2="742.3" stroke="#58585D" stroke-width="1.9" stroke-linecap="round"/><line x1="790.6" y1="732.3" x2="790.6" y2="742.1" stroke="#58585D" stroke-width="1.9" stroke-linecap="round"/><line x1="794.8" y1="732.0" x2="794.8" y2="741.8" stroke="#58585D" stroke-width="1.9" stroke-linecap="round"/><line x1="799.0" y1="731.7" x2="799.0" y2="741.5" stroke="#58585D" stroke-width="1.9" stroke-linecap="round"/><line x1="803.2" y1="731.2" x2="803.2" y2="741.0" stroke="#58585D" stroke-width="1.9" stroke-linecap="round"/><line x1="807.4" y1="730.4" x2="807.4" y2="740.2" stroke="#58585D" stroke-width="1.9" stroke-linecap="round"/><polyline points="762.0,730.1 764.0,730.2 766.0,730.3 768.0,730.4" fill="none" stroke="#fff" stroke-width="1.8"/><polyline points="770.0,730.5 772.0,730.5 774.0,730.6 776.0,730.6 778.0,730.6 780.0,730.6 782.0,730.6 784.0,730.5 786.0,730.5 788.0,730.4 790.0,730.3 792.0,730.2 794.0,730.1 796.0,730.0 798.0,729.8 800.0,729.6 802.0,729.3 804.0,729.1 806.0,728.7 808.0,728.3" fill="none" stroke="#fff" stroke-width="1.8"/>
<clipPath id="c62275869b"><rect x="744.8" y="702.6" width="31.5" height="40"/></clipPath><clipPath id="c62275869"><polygon points="744.8,702.6 790.3,702.6 790.3,706.1 776.3,713.1 744.8,713.1"/></clipPath><path d="M745.8,708.5 v13.5 a32.7,3.9 0 0 0 65.4,0 v-13.5 z" fill="#9C9CA2" clip-path="url(#c62275869b)"/><ellipse cx="778.5" cy="708.5" rx="32.7" ry="3.9" fill="#A2A2A8" clip-path="url(#c62275869)"/><polygon points="776.3,712.5 790.3,705.6 790.3,718.6 776.3,726.2" fill="#58585D"/><line x1="749.1" y1="712.5" x2="749.1" y2="722.3" stroke="#58585D" stroke-width="1.9" stroke-linecap="round"/><line x1="753.3" y1="713.3" x2="753.3" y2="723.1" stroke="#58585D" stroke-width="1.9" stroke-linecap="round"/><line x1="757.5" y1="713.8" x2="757.5" y2="723.6" stroke="#58585D" stroke-width="1.9" stroke-linecap="round"/><line x1="761.7" y1="714.1" x2="761.7" y2="723.9" stroke="#58585D" stroke-width="1.9" stroke-linecap="round"/><line x1="765.9" y1="714.4" x2="765.9" y2="724.2" stroke="#58585D" stroke-width="1.9" stroke-linecap="round"/><line x1="770.1" y1="714.6" x2="770.1" y2="724.4" stroke="#58585D" stroke-width="1.9" stroke-linecap="round"/><line x1="774.3" y1="714.7" x2="774.3" y2="724.5" stroke="#58585D" stroke-width="1.9" stroke-linecap="round"/><polyline points="760.5,712.1 762.5,712.2 764.5,712.3 766.5,712.4" fill="none" stroke="#fff" stroke-width="1.8"/><polyline points="768.5,712.5 770.5,712.6 772.5,712.6 774.5,712.7" fill="none" stroke="#fff" stroke-width="1.8"/>
<circle cx="835.3" cy="761.6" r="1.6" fill="#55565A"/><circle cx="841.9" cy="761.6" r="1.6" fill="#55565A"/><circle cx="848.5" cy="761.6" r="1.6" fill="#55565A"/><circle cx="855.1" cy="761.6" r="1.6" fill="#55565A"/><circle cx="861.7" cy="761.6" r="1.6" fill="#55565A"/><circle cx="868.3" cy="761.6" r="1.6" fill="#55565A"/><circle cx="874.9" cy="761.6" r="1.6" fill="#55565A"/><circle cx="881.5" cy="761.6" r="1.6" fill="#55565A"/><circle cx="888.1" cy="761.6" r="1.6" fill="#55565A"/><circle cx="894.7" cy="761.6" r="1.6" fill="#55565A"/><circle cx="838.6" cy="764.6" r="1.6" fill="#55565A"/><circle cx="845.2" cy="764.6" r="1.6" fill="#55565A"/><circle cx="851.8" cy="764.6" r="1.6" fill="#55565A"/><circle cx="858.4" cy="764.6" r="1.6" fill="#55565A"/><circle cx="865.0" cy="764.6" r="1.6" fill="#55565A"/><circle cx="871.6" cy="764.6" r="1.6" fill="#55565A"/><circle cx="878.2" cy="764.6" r="1.6" fill="#55565A"/><circle cx="884.8" cy="764.6" r="1.6" fill="#55565A"/><circle cx="891.4" cy="764.6" r="1.6" fill="#55565A"/><circle cx="898.0" cy="764.6" r="1.6" fill="#55565A"/><circle cx="841.3" cy="767.4" r="1.2" fill="#55565A"/><circle cx="847.9" cy="767.4" r="1.2" fill="#55565A"/><circle cx="854.5" cy="767.4" r="1.2" fill="#55565A"/><circle cx="861.1" cy="767.4" r="1.2" fill="#55565A"/><circle cx="867.7" cy="767.4" r="1.2" fill="#55565A"/><circle cx="874.3" cy="767.4" r="1.2" fill="#55565A"/><circle cx="880.9" cy="767.4" r="1.2" fill="#55565A"/><circle cx="887.5" cy="767.4" r="1.2" fill="#55565A"/><circle cx="894.1" cy="767.4" r="1.2" fill="#55565A"/>
<path d="M842.8,744.3 v13.5 a32.7,3.9 0 0 0 65.4,0 v-13.5 z" fill="#9C9CA2"/><ellipse cx="875.5" cy="744.3" rx="32.7" ry="3.9" fill="#A2A2A8"/><line x1="846.1" y1="748.3" x2="846.1" y2="758.1" stroke="#58585D" stroke-width="1.9" stroke-linecap="round"/><line x1="850.3" y1="749.1" x2="850.3" y2="758.9" stroke="#58585D" stroke-width="1.9" stroke-linecap="round"/><line x1="854.5" y1="749.6" x2="854.5" y2="759.4" stroke="#58585D" stroke-width="1.9" stroke-linecap="round"/><line x1="858.7" y1="749.9" x2="858.7" y2="759.7" stroke="#58585D" stroke-width="1.9" stroke-linecap="round"/><line x1="862.9" y1="750.2" x2="862.9" y2="760.0" stroke="#58585D" stroke-width="1.9" stroke-linecap="round"/><line x1="867.1" y1="750.4" x2="867.1" y2="760.2" stroke="#58585D" stroke-width="1.9" stroke-linecap="round"/><line x1="871.3" y1="750.5" x2="871.3" y2="760.3" stroke="#58585D" stroke-width="1.9" stroke-linecap="round"/><line x1="875.5" y1="750.5" x2="875.5" y2="760.3" stroke="#58585D" stroke-width="1.9" stroke-linecap="round"/><line x1="879.7" y1="750.5" x2="879.7" y2="760.3" stroke="#58585D" stroke-width="1.9" stroke-linecap="round"/><line x1="883.9" y1="750.4" x2="883.9" y2="760.2" stroke="#58585D" stroke-width="1.9" stroke-linecap="round"/><line x1="888.1" y1="750.2" x2="888.1" y2="760.0" stroke="#58585D" stroke-width="1.9" stroke-linecap="round"/><line x1="892.3" y1="749.9" x2="892.3" y2="759.7" stroke="#58585D" stroke-width="1.9" stroke-linecap="round"/><line x1="896.5" y1="749.6" x2="896.5" y2="759.4" stroke="#58585D" stroke-width="1.9" stroke-linecap="round"/><line x1="900.7" y1="749.1" x2="900.7" y2="758.9" stroke="#58585D" stroke-width="1.9" stroke-linecap="round"/><line x1="904.9" y1="748.3" x2="904.9" y2="758.1" stroke="#58585D" stroke-width="1.9" stroke-linecap="round"/><polyline points="859.5,748.0 861.5,748.1 863.5,748.2 865.5,748.3" fill="none" stroke="#fff" stroke-width="1.8"/><polyline points="867.5,748.4 869.5,748.4 871.5,748.5 873.5,748.5 875.5,748.5 877.5,748.5 879.5,748.5 881.5,748.4 883.5,748.4 885.5,748.3 887.5,748.2 889.5,748.1 891.5,748.0 893.5,747.9 895.5,747.7 897.5,747.5 899.5,747.2 901.5,747.0 903.5,746.6 905.5,746.2" fill="none" stroke="#fff" stroke-width="1.8"/>
<path d="M842.3,726.4 v13.5 a32.7,3.9 0 0 0 65.4,0 v-13.5 z" fill="#9C9CA2"/><ellipse cx="875.0" cy="726.4" rx="32.7" ry="3.9" fill="#A2A2A8"/><line x1="845.6" y1="730.4" x2="845.6" y2="740.2" stroke="#58585D" stroke-width="1.9" stroke-linecap="round"/><line x1="849.8" y1="731.2" x2="849.8" y2="741.0" stroke="#58585D" stroke-width="1.9" stroke-linecap="round"/><line x1="854.0" y1="731.7" x2="854.0" y2="741.5" stroke="#58585D" stroke-width="1.9" stroke-linecap="round"/><line x1="858.2" y1="732.0" x2="858.2" y2="741.8" stroke="#58585D" stroke-width="1.9" stroke-linecap="round"/><line x1="862.4" y1="732.3" x2="862.4" y2="742.1" stroke="#58585D" stroke-width="1.9" stroke-linecap="round"/><line x1="866.6" y1="732.5" x2="866.6" y2="742.3" stroke="#58585D" stroke-width="1.9" stroke-linecap="round"/><line x1="870.8" y1="732.6" x2="870.8" y2="742.4" stroke="#58585D" stroke-width="1.9" stroke-linecap="round"/><line x1="875.0" y1="732.6" x2="875.0" y2="742.4" stroke="#58585D" stroke-width="1.9" stroke-linecap="round"/><line x1="879.2" y1="732.6" x2="879.2" y2="742.4" stroke="#58585D" stroke-width="1.9" stroke-linecap="round"/><line x1="883.4" y1="732.5" x2="883.4" y2="742.3" stroke="#58585D" stroke-width="1.9" stroke-linecap="round"/><line x1="887.6" y1="732.3" x2="887.6" y2="742.1" stroke="#58585D" stroke-width="1.9" stroke-linecap="round"/><line x1="891.8" y1="732.0" x2="891.8" y2="741.8" stroke="#58585D" stroke-width="1.9" stroke-linecap="round"/><line x1="896.0" y1="731.7" x2="896.0" y2="741.5" stroke="#58585D" stroke-width="1.9" stroke-linecap="round"/><line x1="900.2" y1="731.2" x2="900.2" y2="741.0" stroke="#58585D" stroke-width="1.9" stroke-linecap="round"/><line x1="904.4" y1="730.4" x2="904.4" y2="740.2" stroke="#58585D" stroke-width="1.9" stroke-linecap="round"/><polyline points="859.0,730.1 861.0,730.2 863.0,730.3 865.0,730.4" fill="none" stroke="#fff" stroke-width="1.8"/><polyline points="867.0,730.5 869.0,730.5 871.0,730.6 873.0,730.6 875.0,730.6 877.0,730.6 879.0,730.6 881.0,730.5 883.0,730.5 885.0,730.4 887.0,730.3 889.0,730.2 891.0,730.1 893.0,730.0 895.0,729.8 897.0,729.6 899.0,729.3 901.0,729.1 903.0,728.7 905.0,728.3" fill="none" stroke="#fff" stroke-width="1.8"/>
<path d="M841.3,708.5 v13.5 a32.7,3.9 0 0 0 65.4,0 v-13.5 z" fill="#9C9CA2"/><ellipse cx="874.0" cy="708.5" rx="32.7" ry="3.9" fill="#A2A2A8"/><line x1="844.6" y1="712.5" x2="844.6" y2="722.3" stroke="#58585D" stroke-width="1.9" stroke-linecap="round"/><line x1="848.8" y1="713.3" x2="848.8" y2="723.1" stroke="#58585D" stroke-width="1.9" stroke-linecap="round"/><line x1="853.0" y1="713.8" x2="853.0" y2="723.6" stroke="#58585D" stroke-width="1.9" stroke-linecap="round"/><line x1="857.2" y1="714.1" x2="857.2" y2="723.9" stroke="#58585D" stroke-width="1.9" stroke-linecap="round"/><line x1="861.4" y1="714.4" x2="861.4" y2="724.2" stroke="#58585D" stroke-width="1.9" stroke-linecap="round"/><line x1="865.6" y1="714.6" x2="865.6" y2="724.4" stroke="#58585D" stroke-width="1.9" stroke-linecap="round"/><line x1="869.8" y1="714.7" x2="869.8" y2="724.5" stroke="#58585D" stroke-width="1.9" stroke-linecap="round"/><line x1="874.0" y1="714.7" x2="874.0" y2="724.5" stroke="#58585D" stroke-width="1.9" stroke-linecap="round"/><line x1="878.2" y1="714.7" x2="878.2" y2="724.5" stroke="#58585D" stroke-width="1.9" stroke-linecap="round"/><line x1="882.4" y1="714.6" x2="882.4" y2="724.4" stroke="#58585D" stroke-width="1.9" stroke-linecap="round"/><line x1="886.6" y1="714.4" x2="886.6" y2="724.2" stroke="#58585D" stroke-width="1.9" stroke-linecap="round"/><line x1="890.8" y1="714.1" x2="890.8" y2="723.9" stroke="#58585D" stroke-width="1.9" stroke-linecap="round"/><line x1="895.0" y1="713.8" x2="895.0" y2="723.6" stroke="#58585D" stroke-width="1.9" stroke-linecap="round"/><line x1="899.2" y1="713.3" x2="899.2" y2="723.1" stroke="#58585D" stroke-width="1.9" stroke-linecap="round"/><line x1="903.4" y1="712.5" x2="903.4" y2="722.3" stroke="#58585D" stroke-width="1.9" stroke-linecap="round"/><polyline points="858.0,712.2 860.0,712.3 862.0,712.4 864.0,712.5" fill="none" stroke="#fff" stroke-width="1.8"/><polyline points="866.0,712.6 868.0,712.6 870.0,712.7 872.0,712.7 874.0,712.7 876.0,712.7 878.0,712.7 880.0,712.6 882.0,712.6 884.0,712.5 886.0,712.4 888.0,712.3 890.0,712.2 892.0,712.1 894.0,711.9 896.0,711.7 898.0,711.4 900.0,711.2 902.0,710.8 904.0,710.4" fill="none" stroke="#fff" stroke-width="1.8"/>
<path d="M841.3,690.6 v13.5 a32.7,3.9 0 0 0 65.4,0 v-13.5 z" fill="#9C9CA2"/><ellipse cx="874.0" cy="690.6" rx="32.7" ry="3.9" fill="#A2A2A8"/><line x1="844.6" y1="694.6" x2="844.6" y2="704.4" stroke="#58585D" stroke-width="1.9" stroke-linecap="round"/><line x1="848.8" y1="695.4" x2="848.8" y2="705.2" stroke="#58585D" stroke-width="1.9" stroke-linecap="round"/><line x1="853.0" y1="695.9" x2="853.0" y2="705.7" stroke="#58585D" stroke-width="1.9" stroke-linecap="round"/><line x1="857.2" y1="696.2" x2="857.2" y2="706.0" stroke="#58585D" stroke-width="1.9" stroke-linecap="round"/><line x1="861.4" y1="696.5" x2="861.4" y2="706.3" stroke="#58585D" stroke-width="1.9" stroke-linecap="round"/><line x1="865.6" y1="696.7" x2="865.6" y2="706.5" stroke="#58585D" stroke-width="1.9" stroke-linecap="round"/><line x1="869.8" y1="696.8" x2="869.8" y2="706.6" stroke="#58585D" stroke-width="1.9" stroke-linecap="round"/><line x1="874.0" y1="696.8" x2="874.0" y2="706.6" stroke="#58585D" stroke-width="1.9" stroke-linecap="round"/><line x1="878.2" y1="696.8" x2="878.2" y2="706.6" stroke="#58585D" stroke-width="1.9" stroke-linecap="round"/><line x1="882.4" y1="696.7" x2="882.4" y2="706.5" stroke="#58585D" stroke-width="1.9" stroke-linecap="round"/><line x1="886.6" y1="696.5" x2="886.6" y2="706.3" stroke="#58585D" stroke-width="1.9" stroke-linecap="round"/><line x1="890.8" y1="696.2" x2="890.8" y2="706.0" stroke="#58585D" stroke-width="1.9" stroke-linecap="round"/><line x1="895.0" y1="695.9" x2="895.0" y2="705.7" stroke="#58585D" stroke-width="1.9" stroke-linecap="round"/><line x1="899.2" y1="695.4" x2="899.2" y2="705.2" stroke="#58585D" stroke-width="1.9" stroke-linecap="round"/><line x1="903.4" y1="694.6" x2="903.4" y2="704.4" stroke="#58585D" stroke-width="1.9" stroke-linecap="round"/><polyline points="858.0,694.3 860.0,694.4 862.0,694.5 864.0,694.6" fill="none" stroke="#fff" stroke-width="1.8"/><polyline points="866.0,694.7 868.0,694.7 870.0,694.8 872.0,694.8 874.0,694.8 876.0,694.8 878.0,694.8 880.0,694.7 882.0,694.7 884.0,694.6 886.0,694.5 888.0,694.4 890.0,694.3 892.0,694.2 894.0,694.0 896.0,693.8 898.0,693.5 900.0,693.3 902.0,692.9 904.0,692.5" fill="none" stroke="#fff" stroke-width="1.8"/>
<path d="M844.3,672.7 v13.5 a32.7,3.9 0 0 0 65.4,0 v-13.5 z" fill="#9C9CA2"/><ellipse cx="877.0" cy="672.7" rx="32.7" ry="3.9" fill="#A2A2A8"/><line x1="847.6" y1="676.7" x2="847.6" y2="686.5" stroke="#58585D" stroke-width="1.9" stroke-linecap="round"/><line x1="851.8" y1="677.5" x2="851.8" y2="687.3" stroke="#58585D" stroke-width="1.9" stroke-linecap="round"/><line x1="856.0" y1="678.0" x2="856.0" y2="687.8" stroke="#58585D" stroke-width="1.9" stroke-linecap="round"/><line x1="860.2" y1="678.3" x2="860.2" y2="688.1" stroke="#58585D" stroke-width="1.9" stroke-linecap="round"/><line x1="864.4" y1="678.6" x2="864.4" y2="688.4" stroke="#58585D" stroke-width="1.9" stroke-linecap="round"/><line x1="868.6" y1="678.8" x2="868.6" y2="688.6" stroke="#58585D" stroke-width="1.9" stroke-linecap="round"/><line x1="872.8" y1="678.9" x2="872.8" y2="688.7" stroke="#58585D" stroke-width="1.9" stroke-linecap="round"/><line x1="877.0" y1="678.9" x2="877.0" y2="688.7" stroke="#58585D" stroke-width="1.9" stroke-linecap="round"/><line x1="881.2" y1="678.9" x2="881.2" y2="688.7" stroke="#58585D" stroke-width="1.9" stroke-linecap="round"/><line x1="885.4" y1="678.8" x2="885.4" y2="688.6" stroke="#58585D" stroke-width="1.9" stroke-linecap="round"/><line x1="889.6" y1="678.6" x2="889.6" y2="688.4" stroke="#58585D" stroke-width="1.9" stroke-linecap="round"/><line x1="893.8" y1="678.3" x2="893.8" y2="688.1" stroke="#58585D" stroke-width="1.9" stroke-linecap="round"/><line x1="898.0" y1="678.0" x2="898.0" y2="687.8" stroke="#58585D" stroke-width="1.9" stroke-linecap="round"/><line x1="902.2" y1="677.5" x2="902.2" y2="687.3" stroke="#58585D" stroke-width="1.9" stroke-linecap="round"/><line x1="906.4" y1="676.7" x2="906.4" y2="686.5" stroke="#58585D" stroke-width="1.9" stroke-linecap="round"/><polyline points="861.0,676.4 863.0,676.5 865.0,676.6 867.0,676.7" fill="none" stroke="#fff" stroke-width="1.8"/><polyline points="869.0,676.8 871.0,676.8 873.0,676.9 875.0,676.9 877.0,676.9 879.0,676.9 881.0,676.9 883.0,676.8 885.0,676.8 887.0,676.7 889.0,676.6 891.0,676.5 893.0,676.4 895.0,676.3 897.0,676.1 899.0,675.9 901.0,675.6 903.0,675.4 905.0,675.0 907.0,674.6" fill="none" stroke="#fff" stroke-width="1.8"/>
<circle cx="1286.3" cy="761.6" r="1.6" fill="#55565A"/><circle cx="1292.9" cy="761.6" r="1.6" fill="#55565A"/><circle cx="1299.5" cy="761.6" r="1.6" fill="#55565A"/><circle cx="1306.1" cy="761.6" r="1.6" fill="#55565A"/><circle cx="1312.7" cy="761.6" r="1.6" fill="#55565A"/><circle cx="1319.3" cy="761.6" r="1.6" fill="#55565A"/><circle cx="1325.9" cy="761.6" r="1.6" fill="#55565A"/><circle cx="1332.5" cy="761.6" r="1.6" fill="#55565A"/><circle cx="1339.1" cy="761.6" r="1.6" fill="#55565A"/><circle cx="1345.7" cy="761.6" r="1.6" fill="#55565A"/><circle cx="1289.6" cy="764.6" r="1.6" fill="#55565A"/><circle cx="1296.2" cy="764.6" r="1.6" fill="#55565A"/><circle cx="1302.8" cy="764.6" r="1.6" fill="#55565A"/><circle cx="1309.4" cy="764.6" r="1.6" fill="#55565A"/><circle cx="1316.0" cy="764.6" r="1.6" fill="#55565A"/><circle cx="1322.6" cy="764.6" r="1.6" fill="#55565A"/><circle cx="1329.2" cy="764.6" r="1.6" fill="#55565A"/><circle cx="1335.8" cy="764.6" r="1.6" fill="#55565A"/><circle cx="1342.4" cy="764.6" r="1.6" fill="#55565A"/><circle cx="1349.0" cy="764.6" r="1.6" fill="#55565A"/><circle cx="1292.3" cy="767.4" r="1.2" fill="#55565A"/><circle cx="1298.9" cy="767.4" r="1.2" fill="#55565A"/><circle cx="1305.5" cy="767.4" r="1.2" fill="#55565A"/><circle cx="1312.1" cy="767.4" r="1.2" fill="#55565A"/><circle cx="1318.7" cy="767.4" r="1.2" fill="#55565A"/><circle cx="1325.3" cy="767.4" r="1.2" fill="#55565A"/><circle cx="1331.9" cy="767.4" r="1.2" fill="#55565A"/><circle cx="1338.5" cy="767.4" r="1.2" fill="#55565A"/><circle cx="1345.1" cy="767.4" r="1.2" fill="#55565A"/>
<path d="M1295.3,744.3 v13.5 a32.7,3.9 0 0 0 65.4,0 v-13.5 z" fill="#9C9CA2"/><ellipse cx="1328.0" cy="744.3" rx="32.7" ry="3.9" fill="#A2A2A8"/><line x1="1298.6" y1="748.3" x2="1298.6" y2="758.1" stroke="#58585D" stroke-width="1.9" stroke-linecap="round"/><line x1="1302.8" y1="749.1" x2="1302.8" y2="758.9" stroke="#58585D" stroke-width="1.9" stroke-linecap="round"/><line x1="1307.0" y1="749.6" x2="1307.0" y2="759.4" stroke="#58585D" stroke-width="1.9" stroke-linecap="round"/><line x1="1311.2" y1="749.9" x2="1311.2" y2="759.7" stroke="#58585D" stroke-width="1.9" stroke-linecap="round"/><line x1="1315.4" y1="750.2" x2="1315.4" y2="760.0" stroke="#58585D" stroke-width="1.9" stroke-linecap="round"/><line x1="1319.6" y1="750.4" x2="1319.6" y2="760.2" stroke="#58585D" stroke-width="1.9" stroke-linecap="round"/><line x1="1323.8" y1="750.5" x2="1323.8" y2="760.3" stroke="#58585D" stroke-width="1.9" stroke-linecap="round"/><line x1="1328.0" y1="750.5" x2="1328.0" y2="760.3" stroke="#58585D" stroke-width="1.9" stroke-linecap="round"/><line x1="1332.2" y1="750.5" x2="1332.2" y2="760.3" stroke="#58585D" stroke-width="1.9" stroke-linecap="round"/><line x1="1336.4" y1="750.4" x2="1336.4" y2="760.2" stroke="#58585D" stroke-width="1.9" stroke-linecap="round"/><line x1="1340.6" y1="750.2" x2="1340.6" y2="760.0" stroke="#58585D" stroke-width="1.9" stroke-linecap="round"/><line x1="1344.8" y1="749.9" x2="1344.8" y2="759.7" stroke="#58585D" stroke-width="1.9" stroke-linecap="round"/><line x1="1349.0" y1="749.6" x2="1349.0" y2="759.4" stroke="#58585D" stroke-width="1.9" stroke-linecap="round"/><line x1="1353.2" y1="749.1" x2="1353.2" y2="758.9" stroke="#58585D" stroke-width="1.9" stroke-linecap="round"/><line x1="1357.4" y1="748.3" x2="1357.4" y2="758.1" stroke="#58585D" stroke-width="1.9" stroke-linecap="round"/><polyline points="1312.0,748.0 1314.0,748.1 1316.0,748.2 1318.0,748.3" fill="none" stroke="#fff" stroke-width="1.8"/><polyline points="1320.0,748.4 1322.0,748.4 1324.0,748.5 1326.0,748.5 1328.0,748.5 1330.0,748.5 1332.0,748.5 1334.0,748.4 1336.0,748.4 1338.0,748.3 1340.0,748.2 1342.0,748.1 1344.0,748.0 1346.0,747.9 1348.0,747.7 1350.0,747.5 1352.0,747.2 1354.0,747.0 1356.0,746.6 1358.0,746.2" fill="none" stroke="#fff" stroke-width="1.8"/>
<path d="M1292.3,726.4 v13.5 a32.7,3.9 0 0 0 65.4,0 v-13.5 z" fill="#9C9CA2"/><ellipse cx="1325.0" cy="726.4" rx="32.7" ry="3.9" fill="#A2A2A8"/><line x1="1295.6" y1="730.4" x2="1295.6" y2="740.2" stroke="#58585D" stroke-width="1.9" stroke-linecap="round"/><line x1="1299.8" y1="731.2" x2="1299.8" y2="741.0" stroke="#58585D" stroke-width="1.9" stroke-linecap="round"/><line x1="1304.0" y1="731.7" x2="1304.0" y2="741.5" stroke="#58585D" stroke-width="1.9" stroke-linecap="round"/><line x1="1308.2" y1="732.0" x2="1308.2" y2="741.8" stroke="#58585D" stroke-width="1.9" stroke-linecap="round"/><line x1="1312.4" y1="732.3" x2="1312.4" y2="742.1" stroke="#58585D" stroke-width="1.9" stroke-linecap="round"/><line x1="1316.6" y1="732.5" x2="1316.6" y2="742.3" stroke="#58585D" stroke-width="1.9" stroke-linecap="round"/><line x1="1320.8" y1="732.6" x2="1320.8" y2="742.4" stroke="#58585D" stroke-width="1.9" stroke-linecap="round"/><line x1="1325.0" y1="732.6" x2="1325.0" y2="742.4" stroke="#58585D" stroke-width="1.9" stroke-linecap="round"/><line x1="1329.2" y1="732.6" x2="1329.2" y2="742.4" stroke="#58585D" stroke-width="1.9" stroke-linecap="round"/><line x1="1333.4" y1="732.5" x2="1333.4" y2="742.3" stroke="#58585D" stroke-width="1.9" stroke-linecap="round"/><line x1="1337.6" y1="732.3" x2="1337.6" y2="742.1" stroke="#58585D" stroke-width="1.9" stroke-linecap="round"/><line x1="1341.8" y1="732.0" x2="1341.8" y2="741.8" stroke="#58585D" stroke-width="1.9" stroke-linecap="round"/><line x1="1346.0" y1="731.7" x2="1346.0" y2="741.5" stroke="#58585D" stroke-width="1.9" stroke-linecap="round"/><line x1="1350.2" y1="731.2" x2="1350.2" y2="741.0" stroke="#58585D" stroke-width="1.9" stroke-linecap="round"/><line x1="1354.4" y1="730.4" x2="1354.4" y2="740.2" stroke="#58585D" stroke-width="1.9" stroke-linecap="round"/><polyline points="1309.0,730.1 1311.0,730.2 1313.0,730.3 1315.0,730.4" fill="none" stroke="#fff" stroke-width="1.8"/><polyline points="1317.0,730.5 1319.0,730.5 1321.0,730.6 1323.0,730.6 1325.0,730.6 1327.0,730.6 1329.0,730.6 1331.0,730.5 1333.0,730.5 1335.0,730.4 1337.0,730.3 1339.0,730.2 1341.0,730.1 1343.0,730.0 1345.0,729.8 1347.0,729.6 1349.0,729.3 1351.0,729.1 1353.0,728.7 1355.0,728.3" fill="none" stroke="#fff" stroke-width="1.8"/>
<path d="M1293.3,708.5 v13.5 a32.7,3.9 0 0 0 65.4,0 v-13.5 z" fill="#9C9CA2"/><ellipse cx="1326.0" cy="708.5" rx="32.7" ry="3.9" fill="#A2A2A8"/><line x1="1296.6" y1="712.5" x2="1296.6" y2="722.3" stroke="#58585D" stroke-width="1.9" stroke-linecap="round"/><line x1="1300.8" y1="713.3" x2="1300.8" y2="723.1" stroke="#58585D" stroke-width="1.9" stroke-linecap="round"/><line x1="1305.0" y1="713.8" x2="1305.0" y2="723.6" stroke="#58585D" stroke-width="1.9" stroke-linecap="round"/><line x1="1309.2" y1="714.1" x2="1309.2" y2="723.9" stroke="#58585D" stroke-width="1.9" stroke-linecap="round"/><line x1="1313.4" y1="714.4" x2="1313.4" y2="724.2" stroke="#58585D" stroke-width="1.9" stroke-linecap="round"/><line x1="1317.6" y1="714.6" x2="1317.6" y2="724.4" stroke="#58585D" stroke-width="1.9" stroke-linecap="round"/><line x1="1321.8" y1="714.7" x2="1321.8" y2="724.5" stroke="#58585D" stroke-width="1.9" stroke-linecap="round"/><line x1="1326.0" y1="714.7" x2="1326.0" y2="724.5" stroke="#58585D" stroke-width="1.9" stroke-linecap="round"/><line x1="1330.2" y1="714.7" x2="1330.2" y2="724.5" stroke="#58585D" stroke-width="1.9" stroke-linecap="round"/><line x1="1334.4" y1="714.6" x2="1334.4" y2="724.4" stroke="#58585D" stroke-width="1.9" stroke-linecap="round"/><line x1="1338.6" y1="714.4" x2="1338.6" y2="724.2" stroke="#58585D" stroke-width="1.9" stroke-linecap="round"/><line x1="1342.8" y1="714.1" x2="1342.8" y2="723.9" stroke="#58585D" stroke-width="1.9" stroke-linecap="round"/><line x1="1347.0" y1="713.8" x2="1347.0" y2="723.6" stroke="#58585D" stroke-width="1.9" stroke-linecap="round"/><line x1="1351.2" y1="713.3" x2="1351.2" y2="723.1" stroke="#58585D" stroke-width="1.9" stroke-linecap="round"/><line x1="1355.4" y1="712.5" x2="1355.4" y2="722.3" stroke="#58585D" stroke-width="1.9" stroke-linecap="round"/><polyline points="1310.0,712.2 1312.0,712.3 1314.0,712.4 1316.0,712.5" fill="none" stroke="#fff" stroke-width="1.8"/><polyline points="1318.0,712.6 1320.0,712.6 1322.0,712.7 1324.0,712.7 1326.0,712.7 1328.0,712.7 1330.0,712.7 1332.0,712.6 1334.0,712.6 1336.0,712.5 1338.0,712.4 1340.0,712.3 1342.0,712.2 1344.0,712.1 1346.0,711.9 1348.0,711.7 1350.0,711.4 1352.0,711.2 1354.0,710.8 1356.0,710.4" fill="none" stroke="#fff" stroke-width="1.8"/>
<path d="M1292.3,690.6 v13.5 a32.7,3.9 0 0 0 65.4,0 v-13.5 z" fill="#9C9CA2"/><ellipse cx="1325.0" cy="690.6" rx="32.7" ry="3.9" fill="#A2A2A8"/><line x1="1295.6" y1="694.6" x2="1295.6" y2="704.4" stroke="#58585D" stroke-width="1.9" stroke-linecap="round"/><line x1="1299.8" y1="695.4" x2="1299.8" y2="705.2" stroke="#58585D" stroke-width="1.9" stroke-linecap="round"/><line x1="1304.0" y1="695.9" x2="1304.0" y2="705.7" stroke="#58585D" stroke-width="1.9" stroke-linecap="round"/><line x1="1308.2" y1="696.2" x2="1308.2" y2="706.0" stroke="#58585D" stroke-width="1.9" stroke-linecap="round"/><line x1="1312.4" y1="696.5" x2="1312.4" y2="706.3" stroke="#58585D" stroke-width="1.9" stroke-linecap="round"/><line x1="1316.6" y1="696.7" x2="1316.6" y2="706.5" stroke="#58585D" stroke-width="1.9" stroke-linecap="round"/><line x1="1320.8" y1="696.8" x2="1320.8" y2="706.6" stroke="#58585D" stroke-width="1.9" stroke-linecap="round"/><line x1="1325.0" y1="696.8" x2="1325.0" y2="706.6" stroke="#58585D" stroke-width="1.9" stroke-linecap="round"/><line x1="1329.2" y1="696.8" x2="1329.2" y2="706.6" stroke="#58585D" stroke-width="1.9" stroke-linecap="round"/><line x1="1333.4" y1="696.7" x2="1333.4" y2="706.5" stroke="#58585D" stroke-width="1.9" stroke-linecap="round"/><line x1="1337.6" y1="696.5" x2="1337.6" y2="706.3" stroke="#58585D" stroke-width="1.9" stroke-linecap="round"/><line x1="1341.8" y1="696.2" x2="1341.8" y2="706.0" stroke="#58585D" stroke-width="1.9" stroke-linecap="round"/><line x1="1346.0" y1="695.9" x2="1346.0" y2="705.7" stroke="#58585D" stroke-width="1.9" stroke-linecap="round"/><line x1="1350.2" y1="695.4" x2="1350.2" y2="705.2" stroke="#58585D" stroke-width="1.9" stroke-linecap="round"/><line x1="1354.4" y1="694.6" x2="1354.4" y2="704.4" stroke="#58585D" stroke-width="1.9" stroke-linecap="round"/><polyline points="1309.0,694.3 1311.0,694.4 1313.0,694.5 1315.0,694.6" fill="none" stroke="#fff" stroke-width="1.8"/><polyline points="1317.0,694.7 1319.0,694.7 1321.0,694.8 1323.0,694.8 1325.0,694.8 1327.0,694.8 1329.0,694.8 1331.0,694.7 1333.0,694.7 1335.0,694.6 1337.0,694.5 1339.0,694.4 1341.0,694.3 1343.0,694.2 1345.0,694.0 1347.0,693.8 1349.0,693.5 1351.0,693.3 1353.0,692.9 1355.0,692.5" fill="none" stroke="#fff" stroke-width="1.8"/>
<path d="M1293.8,672.7 v13.5 a32.7,3.9 0 0 0 65.4,0 v-13.5 z" fill="#9C9CA2"/><ellipse cx="1326.5" cy="672.7" rx="32.7" ry="3.9" fill="#A2A2A8"/><line x1="1297.1" y1="676.7" x2="1297.1" y2="686.5" stroke="#58585D" stroke-width="1.9" stroke-linecap="round"/><line x1="1301.3" y1="677.5" x2="1301.3" y2="687.3" stroke="#58585D" stroke-width="1.9" stroke-linecap="round"/><line x1="1305.5" y1="678.0" x2="1305.5" y2="687.8" stroke="#58585D" stroke-width="1.9" stroke-linecap="round"/><line x1="1309.7" y1="678.3" x2="1309.7" y2="688.1" stroke="#58585D" stroke-width="1.9" stroke-linecap="round"/><line x1="1313.9" y1="678.6" x2="1313.9" y2="688.4" stroke="#58585D" stroke-width="1.9" stroke-linecap="round"/><line x1="1318.1" y1="678.8" x2="1318.1" y2="688.6" stroke="#58585D" stroke-width="1.9" stroke-linecap="round"/><line x1="1322.3" y1="678.9" x2="1322.3" y2="688.7" stroke="#58585D" stroke-width="1.9" stroke-linecap="round"/><line x1="1326.5" y1="678.9" x2="1326.5" y2="688.7" stroke="#58585D" stroke-width="1.9" stroke-linecap="round"/><line x1="1330.7" y1="678.9" x2="1330.7" y2="688.7" stroke="#58585D" stroke-width="1.9" stroke-linecap="round"/><line x1="1334.9" y1="678.8" x2="1334.9" y2="688.6" stroke="#58585D" stroke-width="1.9" stroke-linecap="round"/><line x1="1339.1" y1="678.6" x2="1339.1" y2="688.4" stroke="#58585D" stroke-width="1.9" stroke-linecap="round"/><line x1="1343.3" y1="678.3" x2="1343.3" y2="688.1" stroke="#58585D" stroke-width="1.9" stroke-linecap="round"/><line x1="1347.5" y1="678.0" x2="1347.5" y2="687.8" stroke="#58585D" stroke-width="1.9" stroke-linecap="round"/><line x1="1351.7" y1="677.5" x2="1351.7" y2="687.3" stroke="#58585D" stroke-width="1.9" stroke-linecap="round"/><line x1="1355.9" y1="676.7" x2="1355.9" y2="686.5" stroke="#58585D" stroke-width="1.9" stroke-linecap="round"/><polyline points="1310.5,676.4 1312.5,676.5 1314.5,676.6 1316.5,676.7" fill="none" stroke="#fff" stroke-width="1.8"/><polyline points="1318.5,676.8 1320.5,676.8 1322.5,676.9 1324.5,676.9 1326.5,676.9 1328.5,676.9 1330.5,676.9 1332.5,676.8 1334.5,676.8 1336.5,676.7 1338.5,676.6 1340.5,676.5 1342.5,676.4 1344.5,676.3 1346.5,676.1 1348.5,675.9 1350.5,675.6 1352.5,675.4 1354.5,675.0 1356.5,674.6" fill="none" stroke="#fff" stroke-width="1.8"/>
<path d="M1295.3,654.8 v13.5 a32.7,3.9 0 0 0 65.4,0 v-13.5 z" fill="#9C9CA2"/><ellipse cx="1328.0" cy="654.8" rx="32.7" ry="3.9" fill="#A2A2A8"/><line x1="1298.6" y1="658.8" x2="1298.6" y2="668.6" stroke="#58585D" stroke-width="1.9" stroke-linecap="round"/><line x1="1302.8" y1="659.6" x2="1302.8" y2="669.4" stroke="#58585D" stroke-width="1.9" stroke-linecap="round"/><line x1="1307.0" y1="660.1" x2="1307.0" y2="669.9" stroke="#58585D" stroke-width="1.9" stroke-linecap="round"/><line x1="1311.2" y1="660.4" x2="1311.2" y2="670.2" stroke="#58585D" stroke-width="1.9" stroke-linecap="round"/><line x1="1315.4" y1="660.7" x2="1315.4" y2="670.5" stroke="#58585D" stroke-width="1.9" stroke-linecap="round"/><line x1="1319.6" y1="660.9" x2="1319.6" y2="670.7" stroke="#58585D" stroke-width="1.9" stroke-linecap="round"/><line x1="1323.8" y1="661.0" x2="1323.8" y2="670.8" stroke="#58585D" stroke-width="1.9" stroke-linecap="round"/><line x1="1328.0" y1="661.0" x2="1328.0" y2="670.8" stroke="#58585D" stroke-width="1.9" stroke-linecap="round"/><line x1="1332.2" y1="661.0" x2="1332.2" y2="670.8" stroke="#58585D" stroke-width="1.9" stroke-linecap="round"/><line x1="1336.4" y1="660.9" x2="1336.4" y2="670.7" stroke="#58585D" stroke-width="1.9" stroke-linecap="round"/><line x1="1340.6" y1="660.7" x2="1340.6" y2="670.5" stroke="#58585D" stroke-width="1.9" stroke-linecap="round"/><line x1="1344.8" y1="660.4" x2="1344.8" y2="670.2" stroke="#58585D" stroke-width="1.9" stroke-linecap="round"/><line x1="1349.0" y1="660.1" x2="1349.0" y2="669.9" stroke="#58585D" stroke-width="1.9" stroke-linecap="round"/><line x1="1353.2" y1="659.6" x2="1353.2" y2="669.4" stroke="#58585D" stroke-width="1.9" stroke-linecap="round"/><line x1="1357.4" y1="658.8" x2="1357.4" y2="668.6" stroke="#58585D" stroke-width="1.9" stroke-linecap="round"/><polyline points="1312.0,658.5 1314.0,658.6 1316.0,658.7 1318.0,658.8" fill="none" stroke="#fff" stroke-width="1.8"/><polyline points="1320.0,658.9 1322.0,658.9 1324.0,659.0 1326.0,659.0 1328.0,659.0 1330.0,659.0 1332.0,659.0 1334.0,658.9 1336.0,658.9 1338.0,658.8 1340.0,658.7 1342.0,658.6 1344.0,658.5 1346.0,658.4 1348.0,658.2 1350.0,658.0 1352.0,657.7 1354.0,657.5 1356.0,657.1 1358.0,656.7" fill="none" stroke="#fff" stroke-width="1.8"/>
<path d="M1292.3,636.9 v13.5 a32.7,3.9 0 0 0 65.4,0 v-13.5 z" fill="#9C9CA2"/><ellipse cx="1325.0" cy="636.9" rx="32.7" ry="3.9" fill="#A2A2A8"/><line x1="1295.6" y1="640.9" x2="1295.6" y2="650.7" stroke="#58585D" stroke-width="1.9" stroke-linecap="round"/><line x1="1299.8" y1="641.7" x2="1299.8" y2="651.5" stroke="#58585D" stroke-width="1.9" stroke-linecap="round"/><line x1="1304.0" y1="642.2" x2="1304.0" y2="652.0" stroke="#58585D" stroke-width="1.9" stroke-linecap="round"/><line x1="1308.2" y1="642.5" x2="1308.2" y2="652.3" stroke="#58585D" stroke-width="1.9" stroke-linecap="round"/><line x1="1312.4" y1="642.8" x2="1312.4" y2="652.6" stroke="#58585D" stroke-width="1.9" stroke-linecap="round"/><line x1="1316.6" y1="643.0" x2="1316.6" y2="652.8" stroke="#58585D" stroke-width="1.9" stroke-linecap="round"/><line x1="1320.8" y1="643.1" x2="1320.8" y2="652.9" stroke="#58585D" stroke-width="1.9" stroke-linecap="round"/><line x1="1325.0" y1="643.1" x2="1325.0" y2="652.9" stroke="#58585D" stroke-width="1.9" stroke-linecap="round"/><line x1="1329.2" y1="643.1" x2="1329.2" y2="652.9" stroke="#58585D" stroke-width="1.9" stroke-linecap="round"/><line x1="1333.4" y1="643.0" x2="1333.4" y2="652.8" stroke="#58585D" stroke-width="1.9" stroke-linecap="round"/><line x1="1337.6" y1="642.8" x2="1337.6" y2="652.6" stroke="#58585D" stroke-width="1.9" stroke-linecap="round"/><line x1="1341.8" y1="642.5" x2="1341.8" y2="652.3" stroke="#58585D" stroke-width="1.9" stroke-linecap="round"/><line x1="1346.0" y1="642.2" x2="1346.0" y2="652.0" stroke="#58585D" stroke-width="1.9" stroke-linecap="round"/><line x1="1350.2" y1="641.7" x2="1350.2" y2="651.5" stroke="#58585D" stroke-width="1.9" stroke-linecap="round"/><line x1="1354.4" y1="640.9" x2="1354.4" y2="650.7" stroke="#58585D" stroke-width="1.9" stroke-linecap="round"/><polyline points="1309.0,640.6 1311.0,640.7 1313.0,640.8 1315.0,640.9" fill="none" stroke="#fff" stroke-width="1.8"/><polyline points="1317.0,641.0 1319.0,641.0 1321.0,641.1 1323.0,641.1 1325.0,641.1 1327.0,641.1 1329.0,641.1 1331.0,641.0 1333.0,641.0 1335.0,640.9 1337.0,640.8 1339.0,640.7 1341.0,640.6 1343.0,640.5 1345.0,640.3 1347.0,640.1 1349.0,639.8 1351.0,639.6 1353.0,639.2 1355.0,638.8" fill="none" stroke="#fff" stroke-width="1.8"/>
<path d="M1292.8,619.0 v13.5 a32.7,3.9 0 0 0 65.4,0 v-13.5 z" fill="#9C9CA2"/><ellipse cx="1325.5" cy="619.0" rx="32.7" ry="3.9" fill="#A2A2A8"/><line x1="1296.1" y1="623.0" x2="1296.1" y2="632.8" stroke="#58585D" stroke-width="1.9" stroke-linecap="round"/><line x1="1300.3" y1="623.8" x2="1300.3" y2="633.6" stroke="#58585D" stroke-width="1.9" stroke-linecap="round"/><line x1="1304.5" y1="624.3" x2="1304.5" y2="634.1" stroke="#58585D" stroke-width="1.9" stroke-linecap="round"/><line x1="1308.7" y1="624.6" x2="1308.7" y2="634.4" stroke="#58585D" stroke-width="1.9" stroke-linecap="round"/><line x1="1312.9" y1="624.9" x2="1312.9" y2="634.7" stroke="#58585D" stroke-width="1.9" stroke-linecap="round"/><line x1="1317.1" y1="625.1" x2="1317.1" y2="634.9" stroke="#58585D" stroke-width="1.9" stroke-linecap="round"/><line x1="1321.3" y1="625.2" x2="1321.3" y2="635.0" stroke="#58585D" stroke-width="1.9" stroke-linecap="round"/><line x1="1325.5" y1="625.2" x2="1325.5" y2="635.0" stroke="#58585D" stroke-width="1.9" stroke-linecap="round"/><line x1="1329.7" y1="625.2" x2="1329.7" y2="635.0" stroke="#58585D" stroke-width="1.9" stroke-linecap="round"/><line x1="1333.9" y1="625.1" x2="1333.9" y2="634.9" stroke="#58585D" stroke-width="1.9" stroke-linecap="round"/><line x1="1338.1" y1="624.9" x2="1338.1" y2="634.7" stroke="#58585D" stroke-width="1.9" stroke-linecap="round"/><line x1="1342.3" y1="624.6" x2="1342.3" y2="634.4" stroke="#58585D" stroke-width="1.9" stroke-linecap="round"/><line x1="1346.5" y1="624.3" x2="1346.5" y2="634.1" stroke="#58585D" stroke-width="1.9" stroke-linecap="round"/><line x1="1350.7" y1="623.8" x2="1350.7" y2="633.6" stroke="#58585D" stroke-width="1.9" stroke-linecap="round"/><line x1="1354.9" y1="623.0" x2="1354.9" y2="632.8" stroke="#58585D" stroke-width="1.9" stroke-linecap="round"/><polyline points="1309.5,622.7 1311.5,622.8 1313.5,622.9 1315.5,623.0" fill="none" stroke="#fff" stroke-width="1.8"/><polyline points="1317.5,623.1 1319.5,623.1 1321.5,623.2 1323.5,623.2 1325.5,623.2 1327.5,623.2 1329.5,623.2 1331.5,623.1 1333.5,623.1 1335.5,623.0 1337.5,622.9 1339.5,622.8 1341.5,622.7 1343.5,622.6 1345.5,622.4 1347.5,622.2 1349.5,621.9 1351.5,621.7 1353.5,621.3 1355.5,620.9" fill="none" stroke="#fff" stroke-width="1.8"/>
<path d="M1293.8,601.1 v13.5 a32.7,3.9 0 0 0 65.4,0 v-13.5 z" fill="#9C9CA2"/><ellipse cx="1326.5" cy="601.1" rx="32.7" ry="3.9" fill="#A2A2A8"/><line x1="1297.1" y1="605.1" x2="1297.1" y2="614.9" stroke="#58585D" stroke-width="1.9" stroke-linecap="round"/><line x1="1301.3" y1="605.9" x2="1301.3" y2="615.7" stroke="#58585D" stroke-width="1.9" stroke-linecap="round"/><line x1="1305.5" y1="606.4" x2="1305.5" y2="616.2" stroke="#58585D" stroke-width="1.9" stroke-linecap="round"/><line x1="1309.7" y1="606.7" x2="1309.7" y2="616.5" stroke="#58585D" stroke-width="1.9" stroke-linecap="round"/><line x1="1313.9" y1="607.0" x2="1313.9" y2="616.8" stroke="#58585D" stroke-width="1.9" stroke-linecap="round"/><line x1="1318.1" y1="607.2" x2="1318.1" y2="617.0" stroke="#58585D" stroke-width="1.9" stroke-linecap="round"/><line x1="1322.3" y1="607.3" x2="1322.3" y2="617.1" stroke="#58585D" stroke-width="1.9" stroke-linecap="round"/><line x1="1326.5" y1="607.3" x2="1326.5" y2="617.1" stroke="#58585D" stroke-width="1.9" stroke-linecap="round"/><line x1="1330.7" y1="607.3" x2="1330.7" y2="617.1" stroke="#58585D" stroke-width="1.9" stroke-linecap="round"/><line x1="1334.9" y1="607.2" x2="1334.9" y2="617.0" stroke="#58585D" stroke-width="1.9" stroke-linecap="round"/><line x1="1339.1" y1="607.0" x2="1339.1" y2="616.8" stroke="#58585D" stroke-width="1.9" stroke-linecap="round"/><line x1="1343.3" y1="606.7" x2="1343.3" y2="616.5" stroke="#58585D" stroke-width="1.9" stroke-linecap="round"/><line x1="1347.5" y1="606.4" x2="1347.5" y2="616.2" stroke="#58585D" stroke-width="1.9" stroke-linecap="round"/><line x1="1351.7" y1="605.9" x2="1351.7" y2="615.7" stroke="#58585D" stroke-width="1.9" stroke-linecap="round"/><line x1="1355.9" y1="605.1" x2="1355.9" y2="614.9" stroke="#58585D" stroke-width="1.9" stroke-linecap="round"/><polyline points="1310.5,604.8 1312.5,604.9 1314.5,605.0 1316.5,605.1" fill="none" stroke="#fff" stroke-width="1.8"/><polyline points="1318.5,605.2 1320.5,605.2 1322.5,605.3 1324.5,605.3 1326.5,605.3 1328.5,605.3 1330.5,605.3 1332.5,605.2 1334.5,605.2 1336.5,605.1 1338.5,605.0 1340.5,604.9 1342.5,604.8 1344.5,604.7 1346.5,604.5 1348.5,604.3 1350.5,604.0 1352.5,603.8 1354.5,603.4 1356.5,603.0" fill="none" stroke="#fff" stroke-width="1.8"/>
<path d="M1292.3,583.2 v13.5 a32.7,3.9 0 0 0 65.4,0 v-13.5 z" fill="#9C9CA2"/><ellipse cx="1325.0" cy="583.2" rx="32.7" ry="3.9" fill="#A2A2A8"/><line x1="1295.6" y1="587.2" x2="1295.6" y2="597.0" stroke="#58585D" stroke-width="1.9" stroke-linecap="round"/><line x1="1299.8" y1="588.0" x2="1299.8" y2="597.8" stroke="#58585D" stroke-width="1.9" stroke-linecap="round"/><line x1="1304.0" y1="588.5" x2="1304.0" y2="598.3" stroke="#58585D" stroke-width="1.9" stroke-linecap="round"/><line x1="1308.2" y1="588.8" x2="1308.2" y2="598.6" stroke="#58585D" stroke-width="1.9" stroke-linecap="round"/><line x1="1312.4" y1="589.1" x2="1312.4" y2="598.9" stroke="#58585D" stroke-width="1.9" stroke-linecap="round"/><line x1="1316.6" y1="589.3" x2="1316.6" y2="599.1" stroke="#58585D" stroke-width="1.9" stroke-linecap="round"/><line x1="1320.8" y1="589.4" x2="1320.8" y2="599.2" stroke="#58585D" stroke-width="1.9" stroke-linecap="round"/><line x1="1325.0" y1="589.4" x2="1325.0" y2="599.2" stroke="#58585D" stroke-width="1.9" stroke-linecap="round"/><line x1="1329.2" y1="589.4" x2="1329.2" y2="599.2" stroke="#58585D" stroke-width="1.9" stroke-linecap="round"/><line x1="1333.4" y1="589.3" x2="1333.4" y2="599.1" stroke="#58585D" stroke-width="1.9" stroke-linecap="round"/><line x1="1337.6" y1="589.1" x2="1337.6" y2="598.9" stroke="#58585D" stroke-width="1.9" stroke-linecap="round"/><line x1="1341.8" y1="588.8" x2="1341.8" y2="598.6" stroke="#58585D" stroke-width="1.9" stroke-linecap="round"/><line x1="1346.0" y1="588.5" x2="1346.0" y2="598.3" stroke="#58585D" stroke-width="1.9" stroke-linecap="round"/><line x1="1350.2" y1="588.0" x2="1350.2" y2="597.8" stroke="#58585D" stroke-width="1.9" stroke-linecap="round"/><line x1="1354.4" y1="587.2" x2="1354.4" y2="597.0" stroke="#58585D" stroke-width="1.9" stroke-linecap="round"/><polyline points="1309.0,586.9 1311.0,587.0 1313.0,587.1 1315.0,587.2" fill="none" stroke="#fff" stroke-width="1.8"/><polyline points="1317.0,587.3 1319.0,587.3 1321.0,587.4 1323.0,587.4 1325.0,587.4 1327.0,587.4 1329.0,587.4 1331.0,587.3 1333.0,587.3 1335.0,587.2 1337.0,587.1 1339.0,587.0 1341.0,586.9 1343.0,586.8 1345.0,586.6 1347.0,586.4 1349.0,586.1 1351.0,585.9 1353.0,585.5 1355.0,585.1" fill="none" stroke="#fff" stroke-width="1.8"/>
<path d="M1293.3,565.3 v13.5 a32.7,3.9 0 0 0 65.4,0 v-13.5 z" fill="#9C9CA2"/><ellipse cx="1326.0" cy="565.3" rx="32.7" ry="3.9" fill="#A2A2A8"/><line x1="1296.6" y1="569.3" x2="1296.6" y2="579.1" stroke="#58585D" stroke-width="1.9" stroke-linecap="round"/><line x1="1300.8" y1="570.1" x2="1300.8" y2="579.9" stroke="#58585D" stroke-width="1.9" stroke-linecap="round"/><line x1="1305.0" y1="570.6" x2="1305.0" y2="580.4" stroke="#58585D" stroke-width="1.9" stroke-linecap="round"/><line x1="1309.2" y1="570.9" x2="1309.2" y2="580.7" stroke="#58585D" stroke-width="1.9" stroke-linecap="round"/><line x1="1313.4" y1="571.2" x2="1313.4" y2="581.0" stroke="#58585D" stroke-width="1.9" stroke-linecap="round"/><line x1="1317.6" y1="571.4" x2="1317.6" y2="581.2" stroke="#58585D" stroke-width="1.9" stroke-linecap="round"/><line x1="1321.8" y1="571.5" x2="1321.8" y2="581.3" stroke="#58585D" stroke-width="1.9" stroke-linecap="round"/><line x1="1326.0" y1="571.5" x2="1326.0" y2="581.3" stroke="#58585D" stroke-width="1.9" stroke-linecap="round"/><line x1="1330.2" y1="571.5" x2="1330.2" y2="581.3" stroke="#58585D" stroke-width="1.9" stroke-linecap="round"/><line x1="1334.4" y1="571.4" x2="1334.4" y2="581.2" stroke="#58585D" stroke-width="1.9" stroke-linecap="round"/><line x1="1338.6" y1="571.2" x2="1338.6" y2="581.0" stroke="#58585D" stroke-width="1.9" stroke-linecap="round"/><line x1="1342.8" y1="570.9" x2="1342.8" y2="580.7" stroke="#58585D" stroke-width="1.9" stroke-linecap="round"/><line x1="1347.0" y1="570.6" x2="1347.0" y2="580.4" stroke="#58585D" stroke-width="1.9" stroke-linecap="round"/><line x1="1351.2" y1="570.1" x2="1351.2" y2="579.9" stroke="#58585D" stroke-width="1.9" stroke-linecap="round"/><line x1="1355.4" y1="569.3" x2="1355.4" y2="579.1" stroke="#58585D" stroke-width="1.9" stroke-linecap="round"/><polyline points="1310.0,569.0 1312.0,569.1 1314.0,569.2 1316.0,569.3" fill="none" stroke="#fff" stroke-width="1.8"/><polyline points="1318.0,569.4 1320.0,569.4 1322.0,569.5 1324.0,569.5 1326.0,569.5 1328.0,569.5 1330.0,569.5 1332.0,569.4 1334.0,569.4 1336.0,569.3 1338.0,569.2 1340.0,569.1 1342.0,569.0 1344.0,568.9 1346.0,568.7 1348.0,568.5 1350.0,568.2 1352.0,568.0 1354.0,567.6 1356.0,567.2" fill="none" stroke="#fff" stroke-width="1.8"/>
<clipPath id="c677129422b"><rect x="1293.3" y="541.5" width="31.5" height="40"/></clipPath><clipPath id="c677129422"><polygon points="1293.3,541.5 1338.8,541.5 1338.8,545.0 1324.8,552.0 1293.3,552.0"/></clipPath><path d="M1294.3,547.4 v13.5 a32.7,3.9 0 0 0 65.4,0 v-13.5 z" fill="#9C9CA2" clip-path="url(#c677129422b)"/><ellipse cx="1327.0" cy="547.4" rx="32.7" ry="3.9" fill="#A2A2A8" clip-path="url(#c677129422)"/><polygon points="1324.8,551.4 1338.8,544.5 1338.8,557.5 1324.8,565.1" fill="#58585D"/><line x1="1297.6" y1="551.4" x2="1297.6" y2="561.2" stroke="#58585D" stroke-width="1.9" stroke-linecap="round"/><line x1="1301.8" y1="552.2" x2="1301.8" y2="562.0" stroke="#58585D" stroke-width="1.9" stroke-linecap="round"/><line x1="1306.0" y1="552.7" x2="1306.0" y2="562.5" stroke="#58585D" stroke-width="1.9" stroke-linecap="round"/><line x1="1310.2" y1="553.0" x2="1310.2" y2="562.8" stroke="#58585D" stroke-width="1.9" stroke-linecap="round"/><line x1="1314.4" y1="553.3" x2="1314.4" y2="563.1" stroke="#58585D" stroke-width="1.9" stroke-linecap="round"/><line x1="1318.6" y1="553.5" x2="1318.6" y2="563.3" stroke="#58585D" stroke-width="1.9" stroke-linecap="round"/><line x1="1322.8" y1="553.6" x2="1322.8" y2="563.4" stroke="#58585D" stroke-width="1.9" stroke-linecap="round"/><polyline points="1309.0,551.0 1311.0,551.1 1313.0,551.2 1315.0,551.3" fill="none" stroke="#fff" stroke-width="1.8"/><polyline points="1317.0,551.4 1319.0,551.5 1321.0,551.5 1323.0,551.6" fill="none" stroke="#fff" stroke-width="1.8"/>
<circle cx="1382.3" cy="761.6" r="1.6" fill="#55565A"/><circle cx="1388.9" cy="761.6" r="1.6" fill="#55565A"/><circle cx="1395.5" cy="761.6" r="1.6" fill="#55565A"/><circle cx="1402.1" cy="761.6" r="1.6" fill="#55565A"/><circle cx="1408.7" cy="761.6" r="1.6" fill="#55565A"/><circle cx="1415.3" cy="761.6" r="1.6" fill="#55565A"/><circle cx="1421.9" cy="761.6" r="1.6" fill="#55565A"/><circle cx="1428.5" cy="761.6" r="1.6" fill="#55565A"/><circle cx="1435.1" cy="761.6" r="1.6" fill="#55565A"/><circle cx="1441.7" cy="761.6" r="1.6" fill="#55565A"/><circle cx="1385.6" cy="764.6" r="1.6" fill="#55565A"/><circle cx="1392.2" cy="764.6" r="1.6" fill="#55565A"/><circle cx="1398.8" cy="764.6" r="1.6" fill="#55565A"/><circle cx="1405.4" cy="764.6" r="1.6" fill="#55565A"/><circle cx="1412.0" cy="764.6" r="1.6" fill="#55565A"/><circle cx="1418.6" cy="764.6" r="1.6" fill="#55565A"/><circle cx="1425.2" cy="764.6" r="1.6" fill="#55565A"/><circle cx="1431.8" cy="764.6" r="1.6" fill="#55565A"/><circle cx="1438.4" cy="764.6" r="1.6" fill="#55565A"/><circle cx="1445.0" cy="764.6" r="1.6" fill="#55565A"/><circle cx="1388.3" cy="767.4" r="1.2" fill="#55565A"/><circle cx="1394.9" cy="767.4" r="1.2" fill="#55565A"/><circle cx="1401.5" cy="767.4" r="1.2" fill="#55565A"/><circle cx="1408.1" cy="767.4" r="1.2" fill="#55565A"/><circle cx="1414.7" cy="767.4" r="1.2" fill="#55565A"/><circle cx="1421.3" cy="767.4" r="1.2" fill="#55565A"/><circle cx="1427.9" cy="767.4" r="1.2" fill="#55565A"/><circle cx="1434.5" cy="767.4" r="1.2" fill="#55565A"/><circle cx="1441.1" cy="767.4" r="1.2" fill="#55565A"/>
<path d="M1390.8,744.3 v13.5 a32.7,3.9 0 0 0 65.4,0 v-13.5 z" fill="#9C9CA2"/><ellipse cx="1423.5" cy="744.3" rx="32.7" ry="3.9" fill="#A2A2A8"/><line x1="1394.1" y1="748.3" x2="1394.1" y2="758.1" stroke="#58585D" stroke-width="1.9" stroke-linecap="round"/><line x1="1398.3" y1="749.1" x2="1398.3" y2="758.9" stroke="#58585D" stroke-width="1.9" stroke-linecap="round"/><line x1="1402.5" y1="749.6" x2="1402.5" y2="759.4" stroke="#58585D" stroke-width="1.9" stroke-linecap="round"/><line x1="1406.7" y1="749.9" x2="1406.7" y2="759.7" stroke="#58585D" stroke-width="1.9" stroke-linecap="round"/><line x1="1410.9" y1="750.2" x2="1410.9" y2="760.0" stroke="#58585D" stroke-width="1.9" stroke-linecap="round"/><line x1="1415.1" y1="750.4" x2="1415.1" y2="760.2" stroke="#58585D" stroke-width="1.9" stroke-linecap="round"/><line x1="1419.3" y1="750.5" x2="1419.3" y2="760.3" stroke="#58585D" stroke-width="1.9" stroke-linecap="round"/><line x1="1423.5" y1="750.5" x2="1423.5" y2="760.3" stroke="#58585D" stroke-width="1.9" stroke-linecap="round"/><line x1="1427.7" y1="750.5" x2="1427.7" y2="760.3" stroke="#58585D" stroke-width="1.9" stroke-linecap="round"/><line x1="1431.9" y1="750.4" x2="1431.9" y2="760.2" stroke="#58585D" stroke-width="1.9" stroke-linecap="round"/><line x1="1436.1" y1="750.2" x2="1436.1" y2="760.0" stroke="#58585D" stroke-width="1.9" stroke-linecap="round"/><line x1="1440.3" y1="749.9" x2="1440.3" y2="759.7" stroke="#58585D" stroke-width="1.9" stroke-linecap="round"/><line x1="1444.5" y1="749.6" x2="1444.5" y2="759.4" stroke="#58585D" stroke-width="1.9" stroke-linecap="round"/><line x1="1448.7" y1="749.1" x2="1448.7" y2="758.9" stroke="#58585D" stroke-width="1.9" stroke-linecap="round"/><line x1="1452.9" y1="748.3" x2="1452.9" y2="758.1" stroke="#58585D" stroke-width="1.9" stroke-linecap="round"/><polyline points="1407.5,748.0 1409.5,748.1 1411.5,748.2 1413.5,748.3" fill="none" stroke="#fff" stroke-width="1.8"/><polyline points="1415.5,748.4 1417.5,748.4 1419.5,748.5 1421.5,748.5 1423.5,748.5 1425.5,748.5 1427.5,748.5 1429.5,748.4 1431.5,748.4 1433.5,748.3 1435.5,748.2 1437.5,748.1 1439.5,748.0 1441.5,747.9 1443.5,747.7 1445.5,747.5 1447.5,747.2 1449.5,747.0 1451.5,746.6 1453.5,746.2" fill="none" stroke="#fff" stroke-width="1.8"/>
<path d="M1389.8,726.4 v13.5 a32.7,3.9 0 0 0 65.4,0 v-13.5 z" fill="#9C9CA2"/><ellipse cx="1422.5" cy="726.4" rx="32.7" ry="3.9" fill="#A2A2A8"/><line x1="1393.1" y1="730.4" x2="1393.1" y2="740.2" stroke="#58585D" stroke-width="1.9" stroke-linecap="round"/><line x1="1397.3" y1="731.2" x2="1397.3" y2="741.0" stroke="#58585D" stroke-width="1.9" stroke-linecap="round"/><line x1="1401.5" y1="731.7" x2="1401.5" y2="741.5" stroke="#58585D" stroke-width="1.9" stroke-linecap="round"/><line x1="1405.7" y1="732.0" x2="1405.7" y2="741.8" stroke="#58585D" stroke-width="1.9" stroke-linecap="round"/><line x1="1409.9" y1="732.3" x2="1409.9" y2="742.1" stroke="#58585D" stroke-width="1.9" stroke-linecap="round"/><line x1="1414.1" y1="732.5" x2="1414.1" y2="742.3" stroke="#58585D" stroke-width="1.9" stroke-linecap="round"/><line x1="1418.3" y1="732.6" x2="1418.3" y2="742.4" stroke="#58585D" stroke-width="1.9" stroke-linecap="round"/><line x1="1422.5" y1="732.6" x2="1422.5" y2="742.4" stroke="#58585D" stroke-width="1.9" stroke-linecap="round"/><line x1="1426.7" y1="732.6" x2="1426.7" y2="742.4" stroke="#58585D" stroke-width="1.9" stroke-linecap="round"/><line x1="1430.9" y1="732.5" x2="1430.9" y2="742.3" stroke="#58585D" stroke-width="1.9" stroke-linecap="round"/><line x1="1435.1" y1="732.3" x2="1435.1" y2="742.1" stroke="#58585D" stroke-width="1.9" stroke-linecap="round"/><line x1="1439.3" y1="732.0" x2="1439.3" y2="741.8" stroke="#58585D" stroke-width="1.9" stroke-linecap="round"/><line x1="1443.5" y1="731.7" x2="1443.5" y2="741.5" stroke="#58585D" stroke-width="1.9" stroke-linecap="round"/><line x1="1447.7" y1="731.2" x2="1447.7" y2="741.0" stroke="#58585D" stroke-width="1.9" stroke-linecap="round"/><line x1="1451.9" y1="730.4" x2="1451.9" y2="740.2" stroke="#58585D" stroke-width="1.9" stroke-linecap="round"/><polyline points="1406.5,730.1 1408.5,730.2 1410.5,730.3 1412.5,730.4" fill="none" stroke="#fff" stroke-width="1.8"/><polyline points="1414.5,730.5 1416.5,730.5 1418.5,730.6 1420.5,730.6 1422.5,730.6 1424.5,730.6 1426.5,730.6 1428.5,730.5 1430.5,730.5 1432.5,730.4 1434.5,730.3 1436.5,730.2 1438.5,730.1 1440.5,730.0 1442.5,729.8 1444.5,729.6 1446.5,729.3 1448.5,729.1 1450.5,728.7 1452.5,728.3" fill="none" stroke="#fff" stroke-width="1.8"/>
<path d="M1388.3,708.5 v13.5 a32.7,3.9 0 0 0 65.4,0 v-13.5 z" fill="#9C9CA2"/><ellipse cx="1421.0" cy="708.5" rx="32.7" ry="3.9" fill="#A2A2A8"/><line x1="1391.6" y1="712.5" x2="1391.6" y2="722.3" stroke="#58585D" stroke-width="1.9" stroke-linecap="round"/><line x1="1395.8" y1="713.3" x2="1395.8" y2="723.1" stroke="#58585D" stroke-width="1.9" stroke-linecap="round"/><line x1="1400.0" y1="713.8" x2="1400.0" y2="723.6" stroke="#58585D" stroke-width="1.9" stroke-linecap="round"/><line x1="1404.2" y1="714.1" x2="1404.2" y2="723.9" stroke="#58585D" stroke-width="1.9" stroke-linecap="round"/><line x1="1408.4" y1="714.4" x2="1408.4" y2="724.2" stroke="#58585D" stroke-width="1.9" stroke-linecap="round"/><line x1="1412.6" y1="714.6" x2="1412.6" y2="724.4" stroke="#58585D" stroke-width="1.9" stroke-linecap="round"/><line x1="1416.8" y1="714.7" x2="1416.8" y2="724.5" stroke="#58585D" stroke-width="1.9" stroke-linecap="round"/><line x1="1421.0" y1="714.7" x2="1421.0" y2="724.5" stroke="#58585D" stroke-width="1.9" stroke-linecap="round"/><line x1="1425.2" y1="714.7" x2="1425.2" y2="724.5" stroke="#58585D" stroke-width="1.9" stroke-linecap="round"/><line x1="1429.4" y1="714.6" x2="1429.4" y2="724.4" stroke="#58585D" stroke-width="1.9" stroke-linecap="round"/><line x1="1433.6" y1="714.4" x2="1433.6" y2="724.2" stroke="#58585D" stroke-width="1.9" stroke-linecap="round"/><line x1="1437.8" y1="714.1" x2="1437.8" y2="723.9" stroke="#58585D" stroke-width="1.9" stroke-linecap="round"/><line x1="1442.0" y1="713.8" x2="1442.0" y2="723.6" stroke="#58585D" stroke-width="1.9" stroke-linecap="round"/><line x1="1446.2" y1="713.3" x2="1446.2" y2="723.1" stroke="#58585D" stroke-width="1.9" stroke-linecap="round"/><line x1="1450.4" y1="712.5" x2="1450.4" y2="722.3" stroke="#58585D" stroke-width="1.9" stroke-linecap="round"/><polyline points="1405.0,712.2 1407.0,712.3 1409.0,712.4 1411.0,712.5" fill="none" stroke="#fff" stroke-width="1.8"/><polyline points="1413.0,712.6 1415.0,712.6 1417.0,712.7 1419.0,712.7 1421.0,712.7 1423.0,712.7 1425.0,712.7 1427.0,712.6 1429.0,712.6 1431.0,712.5 1433.0,712.4 1435.0,712.3 1437.0,712.2 1439.0,712.1 1441.0,711.9 1443.0,711.7 1445.0,711.4 1447.0,711.2 1449.0,710.8 1451.0,710.4" fill="none" stroke="#fff" stroke-width="1.8"/>
<path d="M1389.8,690.6 v13.5 a32.7,3.9 0 0 0 65.4,0 v-13.5 z" fill="#9C9CA2"/><ellipse cx="1422.5" cy="690.6" rx="32.7" ry="3.9" fill="#A2A2A8"/><line x1="1393.1" y1="694.6" x2="1393.1" y2="704.4" stroke="#58585D" stroke-width="1.9" stroke-linecap="round"/><line x1="1397.3" y1="695.4" x2="1397.3" y2="705.2" stroke="#58585D" stroke-width="1.9" stroke-linecap="round"/><line x1="1401.5" y1="695.9" x2="1401.5" y2="705.7" stroke="#58585D" stroke-width="1.9" stroke-linecap="round"/><line x1="1405.7" y1="696.2" x2="1405.7" y2="706.0" stroke="#58585D" stroke-width="1.9" stroke-linecap="round"/><line x1="1409.9" y1="696.5" x2="1409.9" y2="706.3" stroke="#58585D" stroke-width="1.9" stroke-linecap="round"/><line x1="1414.1" y1="696.7" x2="1414.1" y2="706.5" stroke="#58585D" stroke-width="1.9" stroke-linecap="round"/><line x1="1418.3" y1="696.8" x2="1418.3" y2="706.6" stroke="#58585D" stroke-width="1.9" stroke-linecap="round"/><line x1="1422.5" y1="696.8" x2="1422.5" y2="706.6" stroke="#58585D" stroke-width="1.9" stroke-linecap="round"/><line x1="1426.7" y1="696.8" x2="1426.7" y2="706.6" stroke="#58585D" stroke-width="1.9" stroke-linecap="round"/><line x1="1430.9" y1="696.7" x2="1430.9" y2="706.5" stroke="#58585D" stroke-width="1.9" stroke-linecap="round"/><line x1="1435.1" y1="696.5" x2="1435.1" y2="706.3" stroke="#58585D" stroke-width="1.9" stroke-linecap="round"/><line x1="1439.3" y1="696.2" x2="1439.3" y2="706.0" stroke="#58585D" stroke-width="1.9" stroke-linecap="round"/><line x1="1443.5" y1="695.9" x2="1443.5" y2="705.7" stroke="#58585D" stroke-width="1.9" stroke-linecap="round"/><line x1="1447.7" y1="695.4" x2="1447.7" y2="705.2" stroke="#58585D" stroke-width="1.9" stroke-linecap="round"/><line x1="1451.9" y1="694.6" x2="1451.9" y2="704.4" stroke="#58585D" stroke-width="1.9" stroke-linecap="round"/><polyline points="1406.5,694.3 1408.5,694.4 1410.5,694.5 1412.5,694.6" fill="none" stroke="#fff" stroke-width="1.8"/><polyline points="1414.5,694.7 1416.5,694.7 1418.5,694.8 1420.5,694.8 1422.5,694.8 1424.5,694.8 1426.5,694.8 1428.5,694.7 1430.5,694.7 1432.5,694.6 1434.5,694.5 1436.5,694.4 1438.5,694.3 1440.5,694.2 1442.5,694.0 1444.5,693.8 1446.5,693.5 1448.5,693.3 1450.5,692.9 1452.5,692.5" fill="none" stroke="#fff" stroke-width="1.8"/>
<path d="M1389.8,672.7 v13.5 a32.7,3.9 0 0 0 65.4,0 v-13.5 z" fill="#9C9CA2"/><ellipse cx="1422.5" cy="672.7" rx="32.7" ry="3.9" fill="#A2A2A8"/><line x1="1393.1" y1="676.7" x2="1393.1" y2="686.5" stroke="#58585D" stroke-width="1.9" stroke-linecap="round"/><line x1="1397.3" y1="677.5" x2="1397.3" y2="687.3" stroke="#58585D" stroke-width="1.9" stroke-linecap="round"/><line x1="1401.5" y1="678.0" x2="1401.5" y2="687.8" stroke="#58585D" stroke-width="1.9" stroke-linecap="round"/><line x1="1405.7" y1="678.3" x2="1405.7" y2="688.1" stroke="#58585D" stroke-width="1.9" stroke-linecap="round"/><line x1="1409.9" y1="678.6" x2="1409.9" y2="688.4" stroke="#58585D" stroke-width="1.9" stroke-linecap="round"/><line x1="1414.1" y1="678.8" x2="1414.1" y2="688.6" stroke="#58585D" stroke-width="1.9" stroke-linecap="round"/><line x1="1418.3" y1="678.9" x2="1418.3" y2="688.7" stroke="#58585D" stroke-width="1.9" stroke-linecap="round"/><line x1="1422.5" y1="678.9" x2="1422.5" y2="688.7" stroke="#58585D" stroke-width="1.9" stroke-linecap="round"/><line x1="1426.7" y1="678.9" x2="1426.7" y2="688.7" stroke="#58585D" stroke-width="1.9" stroke-linecap="round"/><line x1="1430.9" y1="678.8" x2="1430.9" y2="688.6" stroke="#58585D" stroke-width="1.9" stroke-linecap="round"/><line x1="1435.1" y1="678.6" x2="1435.1" y2="688.4" stroke="#58585D" stroke-width="1.9" stroke-linecap="round"/><line x1="1439.3" y1="678.3" x2="1439.3" y2="688.1" stroke="#58585D" stroke-width="1.9" stroke-linecap="round"/><line x1="1443.5" y1="678.0" x2="1443.5" y2="687.8" stroke="#58585D" stroke-width="1.9" stroke-linecap="round"/><line x1="1447.7" y1="677.5" x2="1447.7" y2="687.3" stroke="#58585D" stroke-width="1.9" stroke-linecap="round"/><line x1="1451.9" y1="676.7" x2="1451.9" y2="686.5" stroke="#58585D" stroke-width="1.9" stroke-linecap="round"/><polyline points="1406.5,676.4 1408.5,676.5 1410.5,676.6 1412.5,676.7" fill="none" stroke="#fff" stroke-width="1.8"/><polyline points="1414.5,676.8 1416.5,676.8 1418.5,676.9 1420.5,676.9 1422.5,676.9 1424.5,676.9 1426.5,676.9 1428.5,676.8 1430.5,676.8 1432.5,676.7 1434.5,676.6 1436.5,676.5 1438.5,676.4 1440.5,676.3 1442.5,676.1 1444.5,675.9 1446.5,675.6 1448.5,675.4 1450.5,675.0 1452.5,674.6" fill="none" stroke="#fff" stroke-width="1.8"/>
<path d="M1391.3,654.8 v13.5 a32.7,3.9 0 0 0 65.4,0 v-13.5 z" fill="#9C9CA2"/><ellipse cx="1424.0" cy="654.8" rx="32.7" ry="3.9" fill="#A2A2A8"/><line x1="1394.6" y1="658.8" x2="1394.6" y2="668.6" stroke="#58585D" stroke-width="1.9" stroke-linecap="round"/><line x1="1398.8" y1="659.6" x2="1398.8" y2="669.4" stroke="#58585D" stroke-width="1.9" stroke-linecap="round"/><line x1="1403.0" y1="660.1" x2="1403.0" y2="669.9" stroke="#58585D" stroke-width="1.9" stroke-linecap="round"/><line x1="1407.2" y1="660.4" x2="1407.2" y2="670.2" stroke="#58585D" stroke-width="1.9" stroke-linecap="round"/><line x1="1411.4" y1="660.7" x2="1411.4" y2="670.5" stroke="#58585D" stroke-width="1.9" stroke-linecap="round"/><line x1="1415.6" y1="660.9" x2="1415.6" y2="670.7" stroke="#58585D" stroke-width="1.9" stroke-linecap="round"/><line x1="1419.8" y1="661.0" x2="1419.8" y2="670.8" stroke="#58585D" stroke-width="1.9" stroke-linecap="round"/><line x1="1424.0" y1="661.0" x2="1424.0" y2="670.8" stroke="#58585D" stroke-width="1.9" stroke-linecap="round"/><line x1="1428.2" y1="661.0" x2="1428.2" y2="670.8" stroke="#58585D" stroke-width="1.9" stroke-linecap="round"/><line x1="1432.4" y1="660.9" x2="1432.4" y2="670.7" stroke="#58585D" stroke-width="1.9" stroke-linecap="round"/><line x1="1436.6" y1="660.7" x2="1436.6" y2="670.5" stroke="#58585D" stroke-width="1.9" stroke-linecap="round"/><line x1="1440.8" y1="660.4" x2="1440.8" y2="670.2" stroke="#58585D" stroke-width="1.9" stroke-linecap="round"/><line x1="1445.0" y1="660.1" x2="1445.0" y2="669.9" stroke="#58585D" stroke-width="1.9" stroke-linecap="round"/><line x1="1449.2" y1="659.6" x2="1449.2" y2="669.4" stroke="#58585D" stroke-width="1.9" stroke-linecap="round"/><line x1="1453.4" y1="658.8" x2="1453.4" y2="668.6" stroke="#58585D" stroke-width="1.9" stroke-linecap="round"/><polyline points="1408.0,658.5 1410.0,658.6 1412.0,658.7 1414.0,658.8" fill="none" stroke="#fff" stroke-width="1.8"/><polyline points="1416.0,658.9 1418.0,658.9 1420.0,659.0 1422.0,659.0 1424.0,659.0 1426.0,659.0 1428.0,659.0 1430.0,658.9 1432.0,658.9 1434.0,658.8 1436.0,658.7 1438.0,658.6 1440.0,658.5 1442.0,658.4 1444.0,658.2 1446.0,658.0 1448.0,657.7 1450.0,657.5 1452.0,657.1 1454.0,656.7" fill="none" stroke="#fff" stroke-width="1.8"/>
<path d="M1388.3,636.9 v13.5 a32.7,3.9 0 0 0 65.4,0 v-13.5 z" fill="#9C9CA2"/><ellipse cx="1421.0" cy="636.9" rx="32.7" ry="3.9" fill="#A2A2A8"/><line x1="1391.6" y1="640.9" x2="1391.6" y2="650.7" stroke="#58585D" stroke-width="1.9" stroke-linecap="round"/><line x1="1395.8" y1="641.7" x2="1395.8" y2="651.5" stroke="#58585D" stroke-width="1.9" stroke-linecap="round"/><line x1="1400.0" y1="642.2" x2="1400.0" y2="652.0" stroke="#58585D" stroke-width="1.9" stroke-linecap="round"/><line x1="1404.2" y1="642.5" x2="1404.2" y2="652.3" stroke="#58585D" stroke-width="1.9" stroke-linecap="round"/><line x1="1408.4" y1="642.8" x2="1408.4" y2="652.6" stroke="#58585D" stroke-width="1.9" stroke-linecap="round"/><line x1="1412.6" y1="643.0" x2="1412.6" y2="652.8" stroke="#58585D" stroke-width="1.9" stroke-linecap="round"/><line x1="1416.8" y1="643.1" x2="1416.8" y2="652.9" stroke="#58585D" stroke-width="1.9" stroke-linecap="round"/><line x1="1421.0" y1="643.1" x2="1421.0" y2="652.9" stroke="#58585D" stroke-width="1.9" stroke-linecap="round"/><line x1="1425.2" y1="643.1" x2="1425.2" y2="652.9" stroke="#58585D" stroke-width="1.9" stroke-linecap="round"/><line x1="1429.4" y1="643.0" x2="1429.4" y2="652.8" stroke="#58585D" stroke-width="1.9" stroke-linecap="round"/><line x1="1433.6" y1="642.8" x2="1433.6" y2="652.6" stroke="#58585D" stroke-width="1.9" stroke-linecap="round"/><line x1="1437.8" y1="642.5" x2="1437.8" y2="652.3" stroke="#58585D" stroke-width="1.9" stroke-linecap="round"/><line x1="1442.0" y1="642.2" x2="1442.0" y2="652.0" stroke="#58585D" stroke-width="1.9" stroke-linecap="round"/><line x1="1446.2" y1="641.7" x2="1446.2" y2="651.5" stroke="#58585D" stroke-width="1.9" stroke-linecap="round"/><line x1="1450.4" y1="640.9" x2="1450.4" y2="650.7" stroke="#58585D" stroke-width="1.9" stroke-linecap="round"/><polyline points="1405.0,640.6 1407.0,640.7 1409.0,640.8 1411.0,640.9" fill="none" stroke="#fff" stroke-width="1.8"/><polyline points="1413.0,641.0 1415.0,641.0 1417.0,641.1 1419.0,641.1 1421.0,641.1 1423.0,641.1 1425.0,641.1 1427.0,641.0 1429.0,641.0 1431.0,640.9 1433.0,640.8 1435.0,640.7 1437.0,640.6 1439.0,640.5 1441.0,640.3 1443.0,640.1 1445.0,639.8 1447.0,639.6 1449.0,639.2 1451.0,638.8" fill="none" stroke="#fff" stroke-width="1.8"/>
<path d="M1389.3,619.0 v13.5 a32.7,3.9 0 0 0 65.4,0 v-13.5 z" fill="#9C9CA2"/><ellipse cx="1422.0" cy="619.0" rx="32.7" ry="3.9" fill="#A2A2A8"/><line x1="1392.6" y1="623.0" x2="1392.6" y2="632.8" stroke="#58585D" stroke-width="1.9" stroke-linecap="round"/><line x1="1396.8" y1="623.8" x2="1396.8" y2="633.6" stroke="#58585D" stroke-width="1.9" stroke-linecap="round"/><line x1="1401.0" y1="624.3" x2="1401.0" y2="634.1" stroke="#58585D" stroke-width="1.9" stroke-linecap="round"/><line x1="1405.2" y1="624.6" x2="1405.2" y2="634.4" stroke="#58585D" stroke-width="1.9" stroke-linecap="round"/><line x1="1409.4" y1="624.9" x2="1409.4" y2="634.7" stroke="#58585D" stroke-width="1.9" stroke-linecap="round"/><line x1="1413.6" y1="625.1" x2="1413.6" y2="634.9" stroke="#58585D" stroke-width="1.9" stroke-linecap="round"/><line x1="1417.8" y1="625.2" x2="1417.8" y2="635.0" stroke="#58585D" stroke-width="1.9" stroke-linecap="round"/><line x1="1422.0" y1="625.2" x2="1422.0" y2="635.0" stroke="#58585D" stroke-width="1.9" stroke-linecap="round"/><line x1="1426.2" y1="625.2" x2="1426.2" y2="635.0" stroke="#58585D" stroke-width="1.9" stroke-linecap="round"/><line x1="1430.4" y1="625.1" x2="1430.4" y2="634.9" stroke="#58585D" stroke-width="1.9" stroke-linecap="round"/><line x1="1434.6" y1="624.9" x2="1434.6" y2="634.7" stroke="#58585D" stroke-width="1.9" stroke-linecap="round"/><line x1="1438.8" y1="624.6" x2="1438.8" y2="634.4" stroke="#58585D" stroke-width="1.9" stroke-linecap="round"/><line x1="1443.0" y1="624.3" x2="1443.0" y2="634.1" stroke="#58585D" stroke-width="1.9" stroke-linecap="round"/><line x1="1447.2" y1="623.8" x2="1447.2" y2="633.6" stroke="#58585D" stroke-width="1.9" stroke-linecap="round"/><line x1="1451.4" y1="623.0" x2="1451.4" y2="632.8" stroke="#58585D" stroke-width="1.9" stroke-linecap="round"/><polyline points="1406.0,622.7 1408.0,622.8 1410.0,622.9 1412.0,623.0" fill="none" stroke="#fff" stroke-width="1.8"/><polyline points="1414.0,623.1 1416.0,623.1 1418.0,623.2 1420.0,623.2 1422.0,623.2 1424.0,623.2 1426.0,623.2 1428.0,623.1 1430.0,623.1 1432.0,623.0 1434.0,622.9 1436.0,622.8 1438.0,622.7 1440.0,622.6 1442.0,622.4 1444.0,622.2 1446.0,621.9 1448.0,621.7 1450.0,621.3 1452.0,620.9" fill="none" stroke="#fff" stroke-width="1.8"/>
<path d="M1388.3,601.1 v13.5 a32.7,3.9 0 0 0 65.4,0 v-13.5 z" fill="#9C9CA2"/><ellipse cx="1421.0" cy="601.1" rx="32.7" ry="3.9" fill="#A2A2A8"/><line x1="1391.6" y1="605.1" x2="1391.6" y2="614.9" stroke="#58585D" stroke-width="1.9" stroke-linecap="round"/><line x1="1395.8" y1="605.9" x2="1395.8" y2="615.7" stroke="#58585D" stroke-width="1.9" stroke-linecap="round"/><line x1="1400.0" y1="606.4" x2="1400.0" y2="616.2" stroke="#58585D" stroke-width="1.9" stroke-linecap="round"/><line x1="1404.2" y1="606.7" x2="1404.2" y2="616.5" stroke="#58585D" stroke-width="1.9" stroke-linecap="round"/><line x1="1408.4" y1="607.0" x2="1408.4" y2="616.8" stroke="#58585D" stroke-width="1.9" stroke-linecap="round"/><line x1="1412.6" y1="607.2" x2="1412.6" y2="617.0" stroke="#58585D" stroke-width="1.9" stroke-linecap="round"/><line x1="1416.8" y1="607.3" x2="1416.8" y2="617.1" stroke="#58585D" stroke-width="1.9" stroke-linecap="round"/><line x1="1421.0" y1="607.3" x2="1421.0" y2="617.1" stroke="#58585D" stroke-width="1.9" stroke-linecap="round"/><line x1="1425.2" y1="607.3" x2="1425.2" y2="617.1" stroke="#58585D" stroke-width="1.9" stroke-linecap="round"/><line x1="1429.4" y1="607.2" x2="1429.4" y2="617.0" stroke="#58585D" stroke-width="1.9" stroke-linecap="round"/><line x1="1433.6" y1="607.0" x2="1433.6" y2="616.8" stroke="#58585D" stroke-width="1.9" stroke-linecap="round"/><line x1="1437.8" y1="606.7" x2="1437.8" y2="616.5" stroke="#58585D" stroke-width="1.9" stroke-linecap="round"/><line x1="1442.0" y1="606.4" x2="1442.0" y2="616.2" stroke="#58585D" stroke-width="1.9" stroke-linecap="round"/><line x1="1446.2" y1="605.9" x2="1446.2" y2="615.7" stroke="#58585D" stroke-width="1.9" stroke-linecap="round"/><line x1="1450.4" y1="605.1" x2="1450.4" y2="614.9" stroke="#58585D" stroke-width="1.9" stroke-linecap="round"/><polyline points="1405.0,604.8 1407.0,604.9 1409.0,605.0 1411.0,605.1" fill="none" stroke="#fff" stroke-width="1.8"/><polyline points="1413.0,605.2 1415.0,605.2 1417.0,605.3 1419.0,605.3 1421.0,605.3 1423.0,605.3 1425.0,605.3 1427.0,605.2 1429.0,605.2 1431.0,605.1 1433.0,605.0 1435.0,604.9 1437.0,604.8 1439.0,604.7 1441.0,604.5 1443.0,604.3 1445.0,604.0 1447.0,603.8 1449.0,603.4 1451.0,603.0" fill="none" stroke="#fff" stroke-width="1.8"/>
<path d="M1389.8,583.2 v13.5 a32.7,3.9 0 0 0 65.4,0 v-13.5 z" fill="#9C9CA2"/><ellipse cx="1422.5" cy="583.2" rx="32.7" ry="3.9" fill="#A2A2A8"/><line x1="1393.1" y1="587.2" x2="1393.1" y2="597.0" stroke="#58585D" stroke-width="1.9" stroke-linecap="round"/><line x1="1397.3" y1="588.0" x2="1397.3" y2="597.8" stroke="#58585D" stroke-width="1.9" stroke-linecap="round"/><line x1="1401.5" y1="588.5" x2="1401.5" y2="598.3" stroke="#58585D" stroke-width="1.9" stroke-linecap="round"/><line x1="1405.7" y1="588.8" x2="1405.7" y2="598.6" stroke="#58585D" stroke-width="1.9" stroke-linecap="round"/><line x1="1409.9" y1="589.1" x2="1409.9" y2="598.9" stroke="#58585D" stroke-width="1.9" stroke-linecap="round"/><line x1="1414.1" y1="589.3" x2="1414.1" y2="599.1" stroke="#58585D" stroke-width="1.9" stroke-linecap="round"/><line x1="1418.3" y1="589.4" x2="1418.3" y2="599.2" stroke="#58585D" stroke-width="1.9" stroke-linecap="round"/><line x1="1422.5" y1="589.4" x2="1422.5" y2="599.2" stroke="#58585D" stroke-width="1.9" stroke-linecap="round"/><line x1="1426.7" y1="589.4" x2="1426.7" y2="599.2" stroke="#58585D" stroke-width="1.9" stroke-linecap="round"/><line x1="1430.9" y1="589.3" x2="1430.9" y2="599.1" stroke="#58585D" stroke-width="1.9" stroke-linecap="round"/><line x1="1435.1" y1="589.1" x2="1435.1" y2="598.9" stroke="#58585D" stroke-width="1.9" stroke-linecap="round"/><line x1="1439.3" y1="588.8" x2="1439.3" y2="598.6" stroke="#58585D" stroke-width="1.9" stroke-linecap="round"/><line x1="1443.5" y1="588.5" x2="1443.5" y2="598.3" stroke="#58585D" stroke-width="1.9" stroke-linecap="round"/><line x1="1447.7" y1="588.0" x2="1447.7" y2="597.8" stroke="#58585D" stroke-width="1.9" stroke-linecap="round"/><line x1="1451.9" y1="587.2" x2="1451.9" y2="597.0" stroke="#58585D" stroke-width="1.9" stroke-linecap="round"/><polyline points="1406.5,586.9 1408.5,587.0 1410.5,587.1 1412.5,587.2" fill="none" stroke="#fff" stroke-width="1.8"/><polyline points="1414.5,587.3 1416.5,587.3 1418.5,587.4 1420.5,587.4 1422.5,587.4 1424.5,587.4 1426.5,587.4 1428.5,587.3 1430.5,587.3 1432.5,587.2 1434.5,587.1 1436.5,587.0 1438.5,586.9 1440.5,586.8 1442.5,586.6 1444.5,586.4 1446.5,586.1 1448.5,585.9 1450.5,585.5 1452.5,585.1" fill="none" stroke="#fff" stroke-width="1.8"/>
<path d="M1388.8,565.3 v13.5 a32.7,3.9 0 0 0 65.4,0 v-13.5 z" fill="#9C9CA2"/><ellipse cx="1421.5" cy="565.3" rx="32.7" ry="3.9" fill="#A2A2A8"/><line x1="1392.1" y1="569.3" x2="1392.1" y2="579.1" stroke="#58585D" stroke-width="1.9" stroke-linecap="round"/><line x1="1396.3" y1="570.1" x2="1396.3" y2="579.9" stroke="#58585D" stroke-width="1.9" stroke-linecap="round"/><line x1="1400.5" y1="570.6" x2="1400.5" y2="580.4" stroke="#58585D" stroke-width="1.9" stroke-linecap="round"/><line x1="1404.7" y1="570.9" x2="1404.7" y2="580.7" stroke="#58585D" stroke-width="1.9" stroke-linecap="round"/><line x1="1408.9" y1="571.2" x2="1408.9" y2="581.0" stroke="#58585D" stroke-width="1.9" stroke-linecap="round"/><line x1="1413.1" y1="571.4" x2="1413.1" y2="581.2" stroke="#58585D" stroke-width="1.9" stroke-linecap="round"/><line x1="1417.3" y1="571.5" x2="1417.3" y2="581.3" stroke="#58585D" stroke-width="1.9" stroke-linecap="round"/><line x1="1421.5" y1="571.5" x2="1421.5" y2="581.3" stroke="#58585D" stroke-width="1.9" stroke-linecap="round"/><line x1="1425.7" y1="571.5" x2="1425.7" y2="581.3" stroke="#58585D" stroke-width="1.9" stroke-linecap="round"/><line x1="1429.9" y1="571.4" x2="1429.9" y2="581.2" stroke="#58585D" stroke-width="1.9" stroke-linecap="round"/><line x1="1434.1" y1="571.2" x2="1434.1" y2="581.0" stroke="#58585D" stroke-width="1.9" stroke-linecap="round"/><line x1="1438.3" y1="570.9" x2="1438.3" y2="580.7" stroke="#58585D" stroke-width="1.9" stroke-linecap="round"/><line x1="1442.5" y1="570.6" x2="1442.5" y2="580.4" stroke="#58585D" stroke-width="1.9" stroke-linecap="round"/><line x1="1446.7" y1="570.1" x2="1446.7" y2="579.9" stroke="#58585D" stroke-width="1.9" stroke-linecap="round"/><line x1="1450.9" y1="569.3" x2="1450.9" y2="579.1" stroke="#58585D" stroke-width="1.9" stroke-linecap="round"/><polyline points="1405.5,569.0 1407.5,569.1 1409.5,569.2 1411.5,569.3" fill="none" stroke="#fff" stroke-width="1.8"/><polyline points="1413.5,569.4 1415.5,569.4 1417.5,569.5 1419.5,569.5 1421.5,569.5 1423.5,569.5 1425.5,569.5 1427.5,569.4 1429.5,569.4 1431.5,569.3 1433.5,569.2 1435.5,569.1 1437.5,569.0 1439.5,568.9 1441.5,568.7 1443.5,568.5 1445.5,568.2 1447.5,568.0 1449.5,567.6 1451.5,567.2" fill="none" stroke="#fff" stroke-width="1.8"/>
<path d="M1389.3,547.4 v13.5 a32.7,3.9 0 0 0 65.4,0 v-13.5 z" fill="#9C9CA2"/><ellipse cx="1422.0" cy="547.4" rx="32.7" ry="3.9" fill="#A2A2A8"/><line x1="1392.6" y1="551.4" x2="1392.6" y2="561.2" stroke="#58585D" stroke-width="1.9" stroke-linecap="round"/><line x1="1396.8" y1="552.2" x2="1396.8" y2="562.0" stroke="#58585D" stroke-width="1.9" stroke-linecap="round"/><line x1="1401.0" y1="552.7" x2="1401.0" y2="562.5" stroke="#58585D" stroke-width="1.9" stroke-linecap="round"/><line x1="1405.2" y1="553.0" x2="1405.2" y2="562.8" stroke="#58585D" stroke-width="1.9" stroke-linecap="round"/><line x1="1409.4" y1="553.3" x2="1409.4" y2="563.1" stroke="#58585D" stroke-width="1.9" stroke-linecap="round"/><line x1="1413.6" y1="553.5" x2="1413.6" y2="563.3" stroke="#58585D" stroke-width="1.9" stroke-linecap="round"/><line x1="1417.8" y1="553.6" x2="1417.8" y2="563.4" stroke="#58585D" stroke-width="1.9" stroke-linecap="round"/><line x1="1422.0" y1="553.6" x2="1422.0" y2="563.4" stroke="#58585D" stroke-width="1.9" stroke-linecap="round"/><line x1="1426.2" y1="553.6" x2="1426.2" y2="563.4" stroke="#58585D" stroke-width="1.9" stroke-linecap="round"/><line x1="1430.4" y1="553.5" x2="1430.4" y2="563.3" stroke="#58585D" stroke-width="1.9" stroke-linecap="round"/><line x1="1434.6" y1="553.3" x2="1434.6" y2="563.1" stroke="#58585D" stroke-width="1.9" stroke-linecap="round"/><line x1="1438.8" y1="553.0" x2="1438.8" y2="562.8" stroke="#58585D" stroke-width="1.9" stroke-linecap="round"/><line x1="1443.0" y1="552.7" x2="1443.0" y2="562.5" stroke="#58585D" stroke-width="1.9" stroke-linecap="round"/><line x1="1447.2" y1="552.2" x2="1447.2" y2="562.0" stroke="#58585D" stroke-width="1.9" stroke-linecap="round"/><line x1="1451.4" y1="551.4" x2="1451.4" y2="561.2" stroke="#58585D" stroke-width="1.9" stroke-linecap="round"/><polyline points="1406.0,551.1 1408.0,551.2 1410.0,551.3 1412.0,551.4" fill="none" stroke="#fff" stroke-width="1.8"/><polyline points="1414.0,551.5 1416.0,551.5 1418.0,551.6 1420.0,551.6 1422.0,551.6 1424.0,551.6 1426.0,551.6 1428.0,551.5 1430.0,551.5 1432.0,551.4 1434.0,551.3 1436.0,551.2 1438.0,551.1 1440.0,551.0 1442.0,550.8 1444.0,550.6 1446.0,550.3 1448.0,550.1 1450.0,549.7 1452.0,549.3" fill="none" stroke="#fff" stroke-width="1.8"/>
<circle cx="1476.8" cy="761.6" r="1.6" fill="#55565A"/><circle cx="1483.4" cy="761.6" r="1.6" fill="#55565A"/><circle cx="1490.0" cy="761.6" r="1.6" fill="#55565A"/><circle cx="1496.6" cy="761.6" r="1.6" fill="#55565A"/><circle cx="1503.2" cy="761.6" r="1.6" fill="#55565A"/><circle cx="1509.8" cy="761.6" r="1.6" fill="#55565A"/><circle cx="1516.4" cy="761.6" r="1.6" fill="#55565A"/><circle cx="1523.0" cy="761.6" r="1.6" fill="#55565A"/><circle cx="1529.6" cy="761.6" r="1.6" fill="#55565A"/><circle cx="1536.2" cy="761.6" r="1.6" fill="#55565A"/><circle cx="1480.1" cy="764.6" r="1.6" fill="#55565A"/><circle cx="1486.7" cy="764.6" r="1.6" fill="#55565A"/><circle cx="1493.3" cy="764.6" r="1.6" fill="#55565A"/><circle cx="1499.9" cy="764.6" r="1.6" fill="#55565A"/><circle cx="1506.5" cy="764.6" r="1.6" fill="#55565A"/><circle cx="1513.1" cy="764.6" r="1.6" fill="#55565A"/><circle cx="1519.7" cy="764.6" r="1.6" fill="#55565A"/><circle cx="1526.3" cy="764.6" r="1.6" fill="#55565A"/><circle cx="1532.9" cy="764.6" r="1.6" fill="#55565A"/><circle cx="1539.5" cy="764.6" r="1.6" fill="#55565A"/><circle cx="1482.8" cy="767.4" r="1.2" fill="#55565A"/><circle cx="1489.4" cy="767.4" r="1.2" fill="#55565A"/><circle cx="1496.0" cy="767.4" r="1.2" fill="#55565A"/><circle cx="1502.6" cy="767.4" r="1.2" fill="#55565A"/><circle cx="1509.2" cy="767.4" r="1.2" fill="#55565A"/><circle cx="1515.8" cy="767.4" r="1.2" fill="#55565A"/><circle cx="1522.4" cy="767.4" r="1.2" fill="#55565A"/><circle cx="1529.0" cy="767.4" r="1.2" fill="#55565A"/><circle cx="1535.6" cy="767.4" r="1.2" fill="#55565A"/>
<path d="M1484.8,744.3 v13.5 a32.7,3.9 0 0 0 65.4,0 v-13.5 z" fill="#9C9CA2"/><ellipse cx="1517.5" cy="744.3" rx="32.7" ry="3.9" fill="#A2A2A8"/><line x1="1488.1" y1="748.3" x2="1488.1" y2="758.1" stroke="#58585D" stroke-width="1.9" stroke-linecap="round"/><line x1="1492.3" y1="749.1" x2="1492.3" y2="758.9" stroke="#58585D" stroke-width="1.9" stroke-linecap="round"/><line x1="1496.5" y1="749.6" x2="1496.5" y2="759.4" stroke="#58585D" stroke-width="1.9" stroke-linecap="round"/><line x1="1500.7" y1="749.9" x2="1500.7" y2="759.7" stroke="#58585D" stroke-width="1.9" stroke-linecap="round"/><line x1="1504.9" y1="750.2" x2="1504.9" y2="760.0" stroke="#58585D" stroke-width="1.9" stroke-linecap="round"/><line x1="1509.1" y1="750.4" x2="1509.1" y2="760.2" stroke="#58585D" stroke-width="1.9" stroke-linecap="round"/><line x1="1513.3" y1="750.5" x2="1513.3" y2="760.3" stroke="#58585D" stroke-width="1.9" stroke-linecap="round"/><line x1="1517.5" y1="750.5" x2="1517.5" y2="760.3" stroke="#58585D" stroke-width="1.9" stroke-linecap="round"/><line x1="1521.7" y1="750.5" x2="1521.7" y2="760.3" stroke="#58585D" stroke-width="1.9" stroke-linecap="round"/><line x1="1525.9" y1="750.4" x2="1525.9" y2="760.2" stroke="#58585D" stroke-width="1.9" stroke-linecap="round"/><line x1="1530.1" y1="750.2" x2="1530.1" y2="760.0" stroke="#58585D" stroke-width="1.9" stroke-linecap="round"/><line x1="1534.3" y1="749.9" x2="1534.3" y2="759.7" stroke="#58585D" stroke-width="1.9" stroke-linecap="round"/><line x1="1538.5" y1="749.6" x2="1538.5" y2="759.4" stroke="#58585D" stroke-width="1.9" stroke-linecap="round"/><line x1="1542.7" y1="749.1" x2="1542.7" y2="758.9" stroke="#58585D" stroke-width="1.9" stroke-linecap="round"/><line x1="1546.9" y1="748.3" x2="1546.9" y2="758.1" stroke="#58585D" stroke-width="1.9" stroke-linecap="round"/><polyline points="1501.5,748.0 1503.5,748.1 1505.5,748.2 1507.5,748.3" fill="none" stroke="#fff" stroke-width="1.8"/><polyline points="1509.5,748.4 1511.5,748.4 1513.5,748.5 1515.5,748.5 1517.5,748.5 1519.5,748.5 1521.5,748.5 1523.5,748.4 1525.5,748.4 1527.5,748.3 1529.5,748.2 1531.5,748.1 1533.5,748.0 1535.5,747.9 1537.5,747.7 1539.5,747.5 1541.5,747.2 1543.5,747.0 1545.5,746.6 1547.5,746.2" fill="none" stroke="#fff" stroke-width="1.8"/>
<circle cx="1583.8" cy="761.6" r="1.6" fill="#55565A"/><circle cx="1590.4" cy="761.6" r="1.6" fill="#55565A"/><circle cx="1597.0" cy="761.6" r="1.6" fill="#55565A"/><circle cx="1603.6" cy="761.6" r="1.6" fill="#55565A"/><circle cx="1610.2" cy="761.6" r="1.6" fill="#55565A"/><circle cx="1616.8" cy="761.6" r="1.6" fill="#55565A"/><circle cx="1623.4" cy="761.6" r="1.6" fill="#55565A"/><circle cx="1630.0" cy="761.6" r="1.6" fill="#55565A"/><circle cx="1636.6" cy="761.6" r="1.6" fill="#55565A"/><circle cx="1643.2" cy="761.6" r="1.6" fill="#55565A"/><circle cx="1587.1" cy="764.6" r="1.6" fill="#55565A"/><circle cx="1593.7" cy="764.6" r="1.6" fill="#55565A"/><circle cx="1600.3" cy="764.6" r="1.6" fill="#55565A"/><circle cx="1606.9" cy="764.6" r="1.6" fill="#55565A"/><circle cx="1613.5" cy="764.6" r="1.6" fill="#55565A"/><circle cx="1620.1" cy="764.6" r="1.6" fill="#55565A"/><circle cx="1626.7" cy="764.6" r="1.6" fill="#55565A"/><circle cx="1633.3" cy="764.6" r="1.6" fill="#55565A"/><circle cx="1639.9" cy="764.6" r="1.6" fill="#55565A"/><circle cx="1646.5" cy="764.6" r="1.6" fill="#55565A"/><circle cx="1589.8" cy="767.4" r="1.2" fill="#55565A"/><circle cx="1596.4" cy="767.4" r="1.2" fill="#55565A"/><circle cx="1603.0" cy="767.4" r="1.2" fill="#55565A"/><circle cx="1609.6" cy="767.4" r="1.2" fill="#55565A"/><circle cx="1616.2" cy="767.4" r="1.2" fill="#55565A"/><circle cx="1622.8" cy="767.4" r="1.2" fill="#55565A"/><circle cx="1629.4" cy="767.4" r="1.2" fill="#55565A"/><circle cx="1636.0" cy="767.4" r="1.2" fill="#55565A"/><circle cx="1642.6" cy="767.4" r="1.2" fill="#55565A"/>
<path d="M1592.8,744.3 v13.5 a32.7,3.9 0 0 0 65.4,0 v-13.5 z" fill="#9C9CA2"/><ellipse cx="1625.5" cy="744.3" rx="32.7" ry="3.9" fill="#A2A2A8"/><line x1="1596.1" y1="748.3" x2="1596.1" y2="758.1" stroke="#58585D" stroke-width="1.9" stroke-linecap="round"/><line x1="1600.3" y1="749.1" x2="1600.3" y2="758.9" stroke="#58585D" stroke-width="1.9" stroke-linecap="round"/><line x1="1604.5" y1="749.6" x2="1604.5" y2="759.4" stroke="#58585D" stroke-width="1.9" stroke-linecap="round"/><line x1="1608.7" y1="749.9" x2="1608.7" y2="759.7" stroke="#58585D" stroke-width="1.9" stroke-linecap="round"/><line x1="1612.9" y1="750.2" x2="1612.9" y2="760.0" stroke="#58585D" stroke-width="1.9" stroke-linecap="round"/><line x1="1617.1" y1="750.4" x2="1617.1" y2="760.2" stroke="#58585D" stroke-width="1.9" stroke-linecap="round"/><line x1="1621.3" y1="750.5" x2="1621.3" y2="760.3" stroke="#58585D" stroke-width="1.9" stroke-linecap="round"/><line x1="1625.5" y1="750.5" x2="1625.5" y2="760.3" stroke="#58585D" stroke-width="1.9" stroke-linecap="round"/><line x1="1629.7" y1="750.5" x2="1629.7" y2="760.3" stroke="#58585D" stroke-width="1.9" stroke-linecap="round"/><line x1="1633.9" y1="750.4" x2="1633.9" y2="760.2" stroke="#58585D" stroke-width="1.9" stroke-linecap="round"/><line x1="1638.1" y1="750.2" x2="1638.1" y2="760.0" stroke="#58585D" stroke-width="1.9" stroke-linecap="round"/><line x1="1642.3" y1="749.9" x2="1642.3" y2="759.7" stroke="#58585D" stroke-width="1.9" stroke-linecap="round"/><line x1="1646.5" y1="749.6" x2="1646.5" y2="759.4" stroke="#58585D" stroke-width="1.9" stroke-linecap="round"/><line x1="1650.7" y1="749.1" x2="1650.7" y2="758.9" stroke="#58585D" stroke-width="1.9" stroke-linecap="round"/><line x1="1654.9" y1="748.3" x2="1654.9" y2="758.1" stroke="#58585D" stroke-width="1.9" stroke-linecap="round"/><polyline points="1609.5,748.0 1611.5,748.1 1613.5,748.2 1615.5,748.3" fill="none" stroke="#fff" stroke-width="1.8"/><polyline points="1617.5,748.4 1619.5,748.4 1621.5,748.5 1623.5,748.5 1625.5,748.5 1627.5,748.5 1629.5,748.5 1631.5,748.4 1633.5,748.4 1635.5,748.3 1637.5,748.2 1639.5,748.1 1641.5,748.0 1643.5,747.9 1645.5,747.7 1647.5,747.5 1649.5,747.2 1651.5,747.0 1653.5,746.6 1655.5,746.2" fill="none" stroke="#fff" stroke-width="1.8"/>
<circle cx="1677.3" cy="761.6" r="1.6" fill="#55565A"/><circle cx="1683.9" cy="761.6" r="1.6" fill="#55565A"/><circle cx="1690.5" cy="761.6" r="1.6" fill="#55565A"/><circle cx="1697.1" cy="761.6" r="1.6" fill="#55565A"/><circle cx="1703.7" cy="761.6" r="1.6" fill="#55565A"/><circle cx="1710.3" cy="761.6" r="1.6" fill="#55565A"/><circle cx="1680.6" cy="764.6" r="1.6" fill="#55565A"/><circle cx="1687.2" cy="764.6" r="1.6" fill="#55565A"/><circle cx="1693.8" cy="764.6" r="1.6" fill="#55565A"/><circle cx="1700.4" cy="764.6" r="1.6" fill="#55565A"/><circle cx="1707.0" cy="764.6" r="1.6" fill="#55565A"/><circle cx="1713.6" cy="764.6" r="1.6" fill="#55565A"/><circle cx="1683.3" cy="767.4" r="1.2" fill="#55565A"/><circle cx="1689.9" cy="767.4" r="1.2" fill="#55565A"/><circle cx="1696.5" cy="767.4" r="1.2" fill="#55565A"/><circle cx="1703.1" cy="767.4" r="1.2" fill="#55565A"/><circle cx="1709.7" cy="767.4" r="1.2" fill="#55565A"/>
<clipPath id="c154892713b"><rect x="1683.8" y="738.4" width="31.5" height="40"/></clipPath><clipPath id="c154892713"><polygon points="1683.8,738.4 1729.3,738.4 1729.3,741.9 1715.3,748.9 1683.8,748.9"/></clipPath><path d="M1684.8,744.3 v13.5 a32.7,3.9 0 0 0 65.4,0 v-13.5 z" fill="#9C9CA2" clip-path="url(#c154892713b)"/><ellipse cx="1717.5" cy="744.3" rx="32.7" ry="3.9" fill="#A2A2A8" clip-path="url(#c154892713)"/><polygon points="1715.3,748.3 1729.3,741.4 1729.3,754.4 1715.3,762.0" fill="#58585D"/><line x1="1688.1" y1="748.3" x2="1688.1" y2="758.1" stroke="#58585D" stroke-width="1.9" stroke-linecap="round"/><line x1="1692.3" y1="749.1" x2="1692.3" y2="758.9" stroke="#58585D" stroke-width="1.9" stroke-linecap="round"/><line x1="1696.5" y1="749.6" x2="1696.5" y2="759.4" stroke="#58585D" stroke-width="1.9" stroke-linecap="round"/><line x1="1700.7" y1="749.9" x2="1700.7" y2="759.7" stroke="#58585D" stroke-width="1.9" stroke-linecap="round"/><line x1="1704.9" y1="750.2" x2="1704.9" y2="760.0" stroke="#58585D" stroke-width="1.9" stroke-linecap="round"/><line x1="1709.1" y1="750.4" x2="1709.1" y2="760.2" stroke="#58585D" stroke-width="1.9" stroke-linecap="round"/><line x1="1713.3" y1="750.5" x2="1713.3" y2="760.3" stroke="#58585D" stroke-width="1.9" stroke-linecap="round"/><polyline points="1699.5,747.9 1701.5,748.0 1703.5,748.1 1705.5,748.2" fill="none" stroke="#fff" stroke-width="1.8"/><polyline points="1707.5,748.3 1709.5,748.4 1711.5,748.4 1713.5,748.5" fill="none" stroke="#fff" stroke-width="1.8"/>
<circle cx="1775.8" cy="761.6" r="1.6" fill="#55565A"/><circle cx="1782.4" cy="761.6" r="1.6" fill="#55565A"/><circle cx="1789.0" cy="761.6" r="1.6" fill="#55565A"/><circle cx="1795.6" cy="761.6" r="1.6" fill="#55565A"/><circle cx="1802.2" cy="761.6" r="1.6" fill="#55565A"/><circle cx="1808.8" cy="761.6" r="1.6" fill="#55565A"/><circle cx="1815.4" cy="761.6" r="1.6" fill="#55565A"/><circle cx="1822.0" cy="761.6" r="1.6" fill="#55565A"/><circle cx="1828.6" cy="761.6" r="1.6" fill="#55565A"/><circle cx="1835.2" cy="761.6" r="1.6" fill="#55565A"/><circle cx="1779.1" cy="764.6" r="1.6" fill="#55565A"/><circle cx="1785.7" cy="764.6" r="1.6" fill="#55565A"/><circle cx="1792.3" cy="764.6" r="1.6" fill="#55565A"/><circle cx="1798.9" cy="764.6" r="1.6" fill="#55565A"/><circle cx="1805.5" cy="764.6" r="1.6" fill="#55565A"/><circle cx="1812.1" cy="764.6" r="1.6" fill="#55565A"/><circle cx="1818.7" cy="764.6" r="1.6" fill="#55565A"/><circle cx="1825.3" cy="764.6" r="1.6" fill="#55565A"/><circle cx="1831.9" cy="764.6" r="1.6" fill="#55565A"/><circle cx="1838.5" cy="764.6" r="1.6" fill="#55565A"/><circle cx="1781.8" cy="767.4" r="1.2" fill="#55565A"/><circle cx="1788.4" cy="767.4" r="1.2" fill="#55565A"/><circle cx="1795.0" cy="767.4" r="1.2" fill="#55565A"/><circle cx="1801.6" cy="767.4" r="1.2" fill="#55565A"/><circle cx="1808.2" cy="767.4" r="1.2" fill="#55565A"/><circle cx="1814.8" cy="767.4" r="1.2" fill="#55565A"/><circle cx="1821.4" cy="767.4" r="1.2" fill="#55565A"/><circle cx="1828.0" cy="767.4" r="1.2" fill="#55565A"/><circle cx="1834.6" cy="767.4" r="1.2" fill="#55565A"/>
<path d="M1783.3,744.3 v13.5 a32.7,3.9 0 0 0 65.4,0 v-13.5 z" fill="#9C9CA2"/><ellipse cx="1816.0" cy="744.3" rx="32.7" ry="3.9" fill="#A2A2A8"/><line x1="1786.6" y1="748.3" x2="1786.6" y2="758.1" stroke="#58585D" stroke-width="1.9" stroke-linecap="round"/><line x1="1790.8" y1="749.1" x2="1790.8" y2="758.9" stroke="#58585D" stroke-width="1.9" stroke-linecap="round"/><line x1="1795.0" y1="749.6" x2="1795.0" y2="759.4" stroke="#58585D" stroke-width="1.9" stroke-linecap="round"/><line x1="1799.2" y1="749.9" x2="1799.2" y2="759.7" stroke="#58585D" stroke-width="1.9" stroke-linecap="round"/><line x1="1803.4" y1="750.2" x2="1803.4" y2="760.0" stroke="#58585D" stroke-width="1.9" stroke-linecap="round"/><line x1="1807.6" y1="750.4" x2="1807.6" y2="760.2" stroke="#58585D" stroke-width="1.9" stroke-linecap="round"/><line x1="1811.8" y1="750.5" x2="1811.8" y2="760.3" stroke="#58585D" stroke-width="1.9" stroke-linecap="round"/><line x1="1816.0" y1="750.5" x2="1816.0" y2="760.3" stroke="#58585D" stroke-width="1.9" stroke-linecap="round"/><line x1="1820.2" y1="750.5" x2="1820.2" y2="760.3" stroke="#58585D" stroke-width="1.9" stroke-linecap="round"/><line x1="1824.4" y1="750.4" x2="1824.4" y2="760.2" stroke="#58585D" stroke-width="1.9" stroke-linecap="round"/><line x1="1828.6" y1="750.2" x2="1828.6" y2="760.0" stroke="#58585D" stroke-width="1.9" stroke-linecap="round"/><line x1="1832.8" y1="749.9" x2="1832.8" y2="759.7" stroke="#58585D" stroke-width="1.9" stroke-linecap="round"/><line x1="1837.0" y1="749.6" x2="1837.0" y2="759.4" stroke="#58585D" stroke-width="1.9" stroke-linecap="round"/><line x1="1841.2" y1="749.1" x2="1841.2" y2="758.9" stroke="#58585D" stroke-width="1.9" stroke-linecap="round"/><line x1="1845.4" y1="748.3" x2="1845.4" y2="758.1" stroke="#58585D" stroke-width="1.9" stroke-linecap="round"/><polyline points="1800.0,748.0 1802.0,748.1 1804.0,748.2 1806.0,748.3" fill="none" stroke="#fff" stroke-width="1.8"/><polyline points="1808.0,748.4 1810.0,748.4 1812.0,748.5 1814.0,748.5 1816.0,748.5 1818.0,748.5 1820.0,748.5 1822.0,748.4 1824.0,748.4 1826.0,748.3 1828.0,748.2 1830.0,748.1 1832.0,748.0 1834.0,747.9 1836.0,747.7 1838.0,747.5 1840.0,747.2 1842.0,747.0 1844.0,746.6 1846.0,746.2" fill="none" stroke="#fff" stroke-width="1.8"/>
<path d="M1781.8,726.4 v13.5 a32.7,3.9 0 0 0 65.4,0 v-13.5 z" fill="#9C9CA2"/><ellipse cx="1814.5" cy="726.4" rx="32.7" ry="3.9" fill="#A2A2A8"/><line x1="1785.1" y1="730.4" x2="1785.1" y2="740.2" stroke="#58585D" stroke-width="1.9" stroke-linecap="round"/><line x1="1789.3" y1="731.2" x2="1789.3" y2="741.0" stroke="#58585D" stroke-width="1.9" stroke-linecap="round"/><line x1="1793.5" y1="731.7" x2="1793.5" y2="741.5" stroke="#58585D" stroke-width="1.9" stroke-linecap="round"/><line x1="1797.7" y1="732.0" x2="1797.7" y2="741.8" stroke="#58585D" stroke-width="1.9" stroke-linecap="round"/><line x1="1801.9" y1="732.3" x2="1801.9" y2="742.1" stroke="#58585D" stroke-width="1.9" stroke-linecap="round"/><line x1="1806.1" y1="732.5" x2="1806.1" y2="742.3" stroke="#58585D" stroke-width="1.9" stroke-linecap="round"/><line x1="1810.3" y1="732.6" x2="1810.3" y2="742.4" stroke="#58585D" stroke-width="1.9" stroke-linecap="round"/><line x1="1814.5" y1="732.6" x2="1814.5" y2="742.4" stroke="#58585D" stroke-width="1.9" stroke-linecap="round"/><line x1="1818.7" y1="732.6" x2="1818.7" y2="742.4" stroke="#58585D" stroke-width="1.9" stroke-linecap="round"/><line x1="1822.9" y1="732.5" x2="1822.9" y2="742.3" stroke="#58585D" stroke-width="1.9" stroke-linecap="round"/><line x1="1827.1" y1="732.3" x2="1827.1" y2="742.1" stroke="#58585D" stroke-width="1.9" stroke-linecap="round"/><line x1="1831.3" y1="732.0" x2="1831.3" y2="741.8" stroke="#58585D" stroke-width="1.9" stroke-linecap="round"/><line x1="1835.5" y1="731.7" x2="1835.5" y2="741.5" stroke="#58585D" stroke-width="1.9" stroke-linecap="round"/><line x1="1839.7" y1="731.2" x2="1839.7" y2="741.0" stroke="#58585D" stroke-width="1.9" stroke-linecap="round"/><line x1="1843.9" y1="730.4" x2="1843.9" y2="740.2" stroke="#58585D" stroke-width="1.9" stroke-linecap="round"/><polyline points="1798.5,730.1 1800.5,730.2 1802.5,730.3 1804.5,730.4" fill="none" stroke="#fff" stroke-width="1.8"/><polyline points="1806.5,730.5 1808.5,730.5 1810.5,730.6 1812.5,730.6 1814.5,730.6 1816.5,730.6 1818.5,730.6 1820.5,730.5 1822.5,730.5 1824.5,730.4 1826.5,730.3 1828.5,730.2 1830.5,730.1 1832.5,730.0 1834.5,729.8 1836.5,729.6 1838.5,729.3 1840.5,729.1 1842.5,728.7 1844.5,728.3" fill="none" stroke="#fff" stroke-width="1.8"/>
<path d="M1783.3,708.5 v13.5 a32.7,3.9 0 0 0 65.4,0 v-13.5 z" fill="#9C9CA2"/><ellipse cx="1816.0" cy="708.5" rx="32.7" ry="3.9" fill="#A2A2A8"/><line x1="1786.6" y1="712.5" x2="1786.6" y2="722.3" stroke="#58585D" stroke-width="1.9" stroke-linecap="round"/><line x1="1790.8" y1="713.3" x2="1790.8" y2="723.1" stroke="#58585D" stroke-width="1.9" stroke-linecap="round"/><line x1="1795.0" y1="713.8" x2="1795.0" y2="723.6" stroke="#58585D" stroke-width="1.9" stroke-linecap="round"/><line x1="1799.2" y1="714.1" x2="1799.2" y2="723.9" stroke="#58585D" stroke-width="1.9" stroke-linecap="round"/><line x1="1803.4" y1="714.4" x2="1803.4" y2="724.2" stroke="#58585D" stroke-width="1.9" stroke-linecap="round"/><line x1="1807.6" y1="714.6" x2="1807.6" y2="724.4" stroke="#58585D" stroke-width="1.9" stroke-linecap="round"/><line x1="1811.8" y1="714.7" x2="1811.8" y2="724.5" stroke="#58585D" stroke-width="1.9" stroke-linecap="round"/><line x1="1816.0" y1="714.7" x2="1816.0" y2="724.5" stroke="#58585D" stroke-width="1.9" stroke-linecap="round"/><line x1="1820.2" y1="714.7" x2="1820.2" y2="724.5" stroke="#58585D" stroke-width="1.9" stroke-linecap="round"/><line x1="1824.4" y1="714.6" x2="1824.4" y2="724.4" stroke="#58585D" stroke-width="1.9" stroke-linecap="round"/><line x1="1828.6" y1="714.4" x2="1828.6" y2="724.2" stroke="#58585D" stroke-width="1.9" stroke-linecap="round"/><line x1="1832.8" y1="714.1" x2="1832.8" y2="723.9" stroke="#58585D" stroke-width="1.9" stroke-linecap="round"/><line x1="1837.0" y1="713.8" x2="1837.0" y2="723.6" stroke="#58585D" stroke-width="1.9" stroke-linecap="round"/><line x1="1841.2" y1="713.3" x2="1841.2" y2="723.1" stroke="#58585D" stroke-width="1.9" stroke-linecap="round"/><line x1="1845.4" y1="712.5" x2="1845.4" y2="722.3" stroke="#58585D" stroke-width="1.9" stroke-linecap="round"/><polyline points="1800.0,712.2 1802.0,712.3 1804.0,712.4 1806.0,712.5" fill="none" stroke="#fff" stroke-width="1.8"/><polyline points="1808.0,712.6 1810.0,712.6 1812.0,712.7 1814.0,712.7 1816.0,712.7 1818.0,712.7 1820.0,712.7 1822.0,712.6 1824.0,712.6 1826.0,712.5 1828.0,712.4 1830.0,712.3 1832.0,712.2 1834.0,712.1 1836.0,711.9 1838.0,711.7 1840.0,711.4 1842.0,711.2 1844.0,710.8 1846.0,710.4" fill="none" stroke="#fff" stroke-width="1.8"/>
<path d="M1783.8,690.6 v13.5 a32.7,3.9 0 0 0 65.4,0 v-13.5 z" fill="#9C9CA2"/><ellipse cx="1816.5" cy="690.6" rx="32.7" ry="3.9" fill="#A2A2A8"/><line x1="1787.1" y1="694.6" x2="1787.1" y2="704.4" stroke="#58585D" stroke-width="1.9" stroke-linecap="round"/><line x1="1791.3" y1="695.4" x2="1791.3" y2="705.2" stroke="#58585D" stroke-width="1.9" stroke-linecap="round"/><line x1="1795.5" y1="695.9" x2="1795.5" y2="705.7" stroke="#58585D" stroke-width="1.9" stroke-linecap="round"/><line x1="1799.7" y1="696.2" x2="1799.7" y2="706.0" stroke="#58585D" stroke-width="1.9" stroke-linecap="round"/><line x1="1803.9" y1="696.5" x2="1803.9" y2="706.3" stroke="#58585D" stroke-width="1.9" stroke-linecap="round"/><line x1="1808.1" y1="696.7" x2="1808.1" y2="706.5" stroke="#58585D" stroke-width="1.9" stroke-linecap="round"/><line x1="1812.3" y1="696.8" x2="1812.3" y2="706.6" stroke="#58585D" stroke-width="1.9" stroke-linecap="round"/><line x1="1816.5" y1="696.8" x2="1816.5" y2="706.6" stroke="#58585D" stroke-width="1.9" stroke-linecap="round"/><line x1="1820.7" y1="696.8" x2="1820.7" y2="706.6" stroke="#58585D" stroke-width="1.9" stroke-linecap="round"/><line x1="1824.9" y1="696.7" x2="1824.9" y2="706.5" stroke="#58585D" stroke-width="1.9" stroke-linecap="round"/><line x1="1829.1" y1="696.5" x2="1829.1" y2="706.3" stroke="#58585D" stroke-width="1.9" stroke-linecap="round"/><line x1="1833.3" y1="696.2" x2="1833.3" y2="706.0" stroke="#58585D" stroke-width="1.9" stroke-linecap="round"/><line x1="1837.5" y1="695.9" x2="1837.5" y2="705.7" stroke="#58585D" stroke-width="1.9" stroke-linecap="round"/><line x1="1841.7" y1="695.4" x2="1841.7" y2="705.2" stroke="#58585D" stroke-width="1.9" stroke-linecap="round"/><line x1="1845.9" y1="694.6" x2="1845.9" y2="704.4" stroke="#58585D" stroke-width="1.9" stroke-linecap="round"/><polyline points="1800.5,694.3 1802.5,694.4 1804.5,694.5 1806.5,694.6" fill="none" stroke="#fff" stroke-width="1.8"/><polyline points="1808.5,694.7 1810.5,694.7 1812.5,694.8 1814.5,694.8 1816.5,694.8 1818.5,694.8 1820.5,694.8 1822.5,694.7 1824.5,694.7 1826.5,694.6 1828.5,694.5 1830.5,694.4 1832.5,694.3 1834.5,694.2 1836.5,694.0 1838.5,693.8 1840.5,693.5 1842.5,693.3 1844.5,692.9 1846.5,692.5" fill="none" stroke="#fff" stroke-width="1.8"/>
<path d="M1783.3,672.7 v13.5 a32.7,3.9 0 0 0 65.4,0 v-13.5 z" fill="#9C9CA2"/><ellipse cx="1816.0" cy="672.7" rx="32.7" ry="3.9" fill="#A2A2A8"/><line x1="1786.6" y1="676.7" x2="1786.6" y2="686.5" stroke="#58585D" stroke-width="1.9" stroke-linecap="round"/><line x1="1790.8" y1="677.5" x2="1790.8" y2="687.3" stroke="#58585D" stroke-width="1.9" stroke-linecap="round"/><line x1="1795.0" y1="678.0" x2="1795.0" y2="687.8" stroke="#58585D" stroke-width="1.9" stroke-linecap="round"/><line x1="1799.2" y1="678.3" x2="1799.2" y2="688.1" stroke="#58585D" stroke-width="1.9" stroke-linecap="round"/><line x1="1803.4" y1="678.6" x2="1803.4" y2="688.4" stroke="#58585D" stroke-width="1.9" stroke-linecap="round"/><line x1="1807.6" y1="678.8" x2="1807.6" y2="688.6" stroke="#58585D" stroke-width="1.9" stroke-linecap="round"/><line x1="1811.8" y1="678.9" x2="1811.8" y2="688.7" stroke="#58585D" stroke-width="1.9" stroke-linecap="round"/><line x1="1816.0" y1="678.9" x2="1816.0" y2="688.7" stroke="#58585D" stroke-width="1.9" stroke-linecap="round"/><line x1="1820.2" y1="678.9" x2="1820.2" y2="688.7" stroke="#58585D" stroke-width="1.9" stroke-linecap="round"/><line x1="1824.4" y1="678.8" x2="1824.4" y2="688.6" stroke="#58585D" stroke-width="1.9" stroke-linecap="round"/><line x1="1828.6" y1="678.6" x2="1828.6" y2="688.4" stroke="#58585D" stroke-width="1.9" stroke-linecap="round"/><line x1="1832.8" y1="678.3" x2="1832.8" y2="688.1" stroke="#58585D" stroke-width="1.9" stroke-linecap="round"/><line x1="1837.0" y1="678.0" x2="1837.0" y2="687.8" stroke="#58585D" stroke-width="1.9" stroke-linecap="round"/><line x1="1841.2" y1="677.5" x2="1841.2" y2="687.3" stroke="#58585D" stroke-width="1.9" stroke-linecap="round"/><line x1="1845.4" y1="676.7" x2="1845.4" y2="686.5" stroke="#58585D" stroke-width="1.9" stroke-linecap="round"/><polyline points="1800.0,676.4 1802.0,676.5 1804.0,676.6 1806.0,676.7" fill="none" stroke="#fff" stroke-width="1.8"/><polyline points="1808.0,676.8 1810.0,676.8 1812.0,676.9 1814.0,676.9 1816.0,676.9 1818.0,676.9 1820.0,676.9 1822.0,676.8 1824.0,676.8 1826.0,676.7 1828.0,676.6 1830.0,676.5 1832.0,676.4 1834.0,676.3 1836.0,676.1 1838.0,675.9 1840.0,675.6 1842.0,675.4 1844.0,675.0 1846.0,674.6" fill="none" stroke="#fff" stroke-width="1.8"/>
<path d="M1782.3,654.8 v13.5 a32.7,3.9 0 0 0 65.4,0 v-13.5 z" fill="#9C9CA2"/><ellipse cx="1815.0" cy="654.8" rx="32.7" ry="3.9" fill="#A2A2A8"/><line x1="1785.6" y1="658.8" x2="1785.6" y2="668.6" stroke="#58585D" stroke-width="1.9" stroke-linecap="round"/><line x1="1789.8" y1="659.6" x2="1789.8" y2="669.4" stroke="#58585D" stroke-width="1.9" stroke-linecap="round"/><line x1="1794.0" y1="660.1" x2="1794.0" y2="669.9" stroke="#58585D" stroke-width="1.9" stroke-linecap="round"/><line x1="1798.2" y1="660.4" x2="1798.2" y2="670.2" stroke="#58585D" stroke-width="1.9" stroke-linecap="round"/><line x1="1802.4" y1="660.7" x2="1802.4" y2="670.5" stroke="#58585D" stroke-width="1.9" stroke-linecap="round"/><line x1="1806.6" y1="660.9" x2="1806.6" y2="670.7" stroke="#58585D" stroke-width="1.9" stroke-linecap="round"/><line x1="1810.8" y1="661.0" x2="1810.8" y2="670.8" stroke="#58585D" stroke-width="1.9" stroke-linecap="round"/><line x1="1815.0" y1="661.0" x2="1815.0" y2="670.8" stroke="#58585D" stroke-width="1.9" stroke-linecap="round"/><line x1="1819.2" y1="661.0" x2="1819.2" y2="670.8" stroke="#58585D" stroke-width="1.9" stroke-linecap="round"/><line x1="1823.4" y1="660.9" x2="1823.4" y2="670.7" stroke="#58585D" stroke-width="1.9" stroke-linecap="round"/><line x1="1827.6" y1="660.7" x2="1827.6" y2="670.5" stroke="#58585D" stroke-width="1.9" stroke-linecap="round"/><line x1="1831.8" y1="660.4" x2="1831.8" y2="670.2" stroke="#58585D" stroke-width="1.9" stroke-linecap="round"/><line x1="1836.0" y1="660.1" x2="1836.0" y2="669.9" stroke="#58585D" stroke-width="1.9" stroke-linecap="round"/><line x1="1840.2" y1="659.6" x2="1840.2" y2="669.4" stroke="#58585D" stroke-width="1.9" stroke-linecap="round"/><line x1="1844.4" y1="658.8" x2="1844.4" y2="668.6" stroke="#58585D" stroke-width="1.9" stroke-linecap="round"/><polyline points="1799.0,658.5 1801.0,658.6 1803.0,658.7 1805.0,658.8" fill="none" stroke="#fff" stroke-width="1.8"/><polyline points="1807.0,658.9 1809.0,658.9 1811.0,659.0 1813.0,659.0 1815.0,659.0 1817.0,659.0 1819.0,659.0 1821.0,658.9 1823.0,658.9 1825.0,658.8 1827.0,658.7 1829.0,658.6 1831.0,658.5 1833.0,658.4 1835.0,658.2 1837.0,658.0 1839.0,657.7 1841.0,657.5 1843.0,657.1 1845.0,656.7" fill="none" stroke="#fff" stroke-width="1.8"/>
<path d="M1784.3,636.9 v13.5 a32.7,3.9 0 0 0 65.4,0 v-13.5 z" fill="#9C9CA2"/><ellipse cx="1817.0" cy="636.9" rx="32.7" ry="3.9" fill="#A2A2A8"/><line x1="1787.6" y1="640.9" x2="1787.6" y2="650.7" stroke="#58585D" stroke-width="1.9" stroke-linecap="round"/><line x1="1791.8" y1="641.7" x2="1791.8" y2="651.5" stroke="#58585D" stroke-width="1.9" stroke-linecap="round"/><line x1="1796.0" y1="642.2" x2="1796.0" y2="652.0" stroke="#58585D" stroke-width="1.9" stroke-linecap="round"/><line x1="1800.2" y1="642.5" x2="1800.2" y2="652.3" stroke="#58585D" stroke-width="1.9" stroke-linecap="round"/><line x1="1804.4" y1="642.8" x2="1804.4" y2="652.6" stroke="#58585D" stroke-width="1.9" stroke-linecap="round"/><line x1="1808.6" y1="643.0" x2="1808.6" y2="652.8" stroke="#58585D" stroke-width="1.9" stroke-linecap="round"/><line x1="1812.8" y1="643.1" x2="1812.8" y2="652.9" stroke="#58585D" stroke-width="1.9" stroke-linecap="round"/><line x1="1817.0" y1="643.1" x2="1817.0" y2="652.9" stroke="#58585D" stroke-width="1.9" stroke-linecap="round"/><line x1="1821.2" y1="643.1" x2="1821.2" y2="652.9" stroke="#58585D" stroke-width="1.9" stroke-linecap="round"/><line x1="1825.4" y1="643.0" x2="1825.4" y2="652.8" stroke="#58585D" stroke-width="1.9" stroke-linecap="round"/><line x1="1829.6" y1="642.8" x2="1829.6" y2="652.6" stroke="#58585D" stroke-width="1.9" stroke-linecap="round"/><line x1="1833.8" y1="642.5" x2="1833.8" y2="652.3" stroke="#58585D" stroke-width="1.9" stroke-linecap="round"/><line x1="1838.0" y1="642.2" x2="1838.0" y2="652.0" stroke="#58585D" stroke-width="1.9" stroke-linecap="round"/><line x1="1842.2" y1="641.7" x2="1842.2" y2="651.5" stroke="#58585D" stroke-width="1.9" stroke-linecap="round"/><line x1="1846.4" y1="640.9" x2="1846.4" y2="650.7" stroke="#58585D" stroke-width="1.9" stroke-linecap="round"/><polyline points="1801.0,640.6 1803.0,640.7 1805.0,640.8 1807.0,640.9" fill="none" stroke="#fff" stroke-width="1.8"/><polyline points="1809.0,641.0 1811.0,641.0 1813.0,641.1 1815.0,641.1 1817.0,641.1 1819.0,641.1 1821.0,641.1 1823.0,641.0 1825.0,641.0 1827.0,640.9 1829.0,640.8 1831.0,640.7 1833.0,640.6 1835.0,640.5 1837.0,640.3 1839.0,640.1 1841.0,639.8 1843.0,639.6 1845.0,639.2 1847.0,638.8" fill="none" stroke="#fff" stroke-width="1.8"/>
<rect x="384.7" y="538.3" width="2.6" height="129.9" fill="#E55525"/>
<polygon points="381.8,666.4 390.2,666.4 386.0,673.2" fill="#E55525"/>
<polygon points="384.4,515.7 493.9,515.7 486.4,527.5 493.9,539.3 384.4,539.3" fill="#E55525"/>
<text x="435.6" y="534.4" text-anchor="middle" font-weight="bold" font-size="19" textLength="86.6" lengthAdjust="spacingAndGlyphs" fill="#fff">$377,558,484</text>
<rect x="479.7" y="610.6" width="2.6" height="80.1" fill="#E55525"/>
<polygon points="476.8,688.9 485.2,688.9 481.0,695.7" fill="#E55525"/>
<polygon points="479.6,588.0 589.8,588.0 582.3,599.8 589.8,611.6 479.6,611.6" fill="#E55525"/>
<text x="530.8" y="606.7" text-anchor="middle" font-weight="bold" font-size="19" textLength="86.6" lengthAdjust="spacingAndGlyphs" fill="#fff">$287,866,889</text>
<rect x="574.9" y="646.6" width="2.6" height="78.2" fill="#E55525"/>
<polygon points="572.0,723.0 580.4,723.0 576.2,729.8" fill="#E55525"/>
<polygon points="574.8,624.0 684.0,624.0 676.5,635.8 684.0,647.6 574.8,647.6" fill="#E55525"/>
<text x="626.0" y="642.7" text-anchor="middle" font-weight="bold" font-size="19" textLength="86.6" lengthAdjust="spacingAndGlyphs" fill="#fff">$132,625,958</text>
<rect x="688.2" y="538.3" width="2.6" height="186.5" fill="#E55525"/>
<polygon points="685.3,723.0 693.7,723.0 689.5,729.8" fill="#E55525"/>
<polygon points="688.0,515.7 796.8,515.7 789.3,527.5 796.8,539.3 688.0,539.3" fill="#E55525"/>
<text x="739.2" y="534.4" text-anchor="middle" font-weight="bold" font-size="19" textLength="78.7" lengthAdjust="spacingAndGlyphs" fill="#fff">$10,662,918</text>
<rect x="777.1" y="574.6" width="2.6" height="117.2" fill="#E55525"/>
<polygon points="774.2,690.0 782.6,690.0 778.4,696.8" fill="#E55525"/>
<polygon points="777.0,552.0 885.3,552.0 877.8,563.8 885.3,575.6 777.0,575.6" fill="#E55525"/>
<text x="828.2" y="570.7" text-anchor="middle" font-weight="bold" font-size="19" textLength="86.6" lengthAdjust="spacingAndGlyphs" fill="#fff">$242,198,994</text>
<rect x="873.1" y="610.6" width="2.6" height="41.9" fill="#E55525"/>
<polygon points="870.2,650.7 878.6,650.7 874.4,657.5" fill="#E55525"/>
<polygon points="873.0,588.0 981.3,588.0 973.8,599.8 981.3,611.6 873.0,611.6" fill="#E55525"/>
<text x="924.2" y="606.7" text-anchor="middle" font-weight="bold" font-size="19" textLength="81.8" lengthAdjust="spacingAndGlyphs" fill="#fff">$515,297181</text>
<rect x="1423.9" y="430.0" width="2.6" height="94.0" fill="#E55525"/>
<polygon points="1421.0,522.2 1429.4,522.2 1425.2,529.0" fill="#E55525"/>
<polygon points="1423.8,407.4 1531.4,407.4 1523.9,419.2 1531.4,431.0 1423.8,431.0" fill="#E55525"/>
<text x="1475.0" y="426.1" text-anchor="middle" font-weight="bold" font-size="19" textLength="93.0" lengthAdjust="spacingAndGlyphs" fill="#fff">$1,236,040,306</text>
<rect x="1329.0" y="501.3" width="2.6" height="23.7" fill="#E55525"/>
<polygon points="1326.1,523.2 1334.5,523.2 1330.3,530.0" fill="#E55525"/>
<polygon points="1328.9,478.7 1438.0,478.7 1430.5,490.5 1438.0,502.3 1328.9,502.3" fill="#E55525"/>
<text x="1380.1" y="497.4" text-anchor="middle" font-weight="bold" font-size="19" textLength="93.0" lengthAdjust="spacingAndGlyphs" fill="#fff">$1,165,267,868</text>
<rect x="1515.8" y="467.1" width="2.6" height="258.6" fill="#E55525"/>
<polygon points="1512.9,723.9 1521.3,723.9 1517.1,730.7" fill="#E55525"/>
<polygon points="1515.7,444.5 1624.5,444.5 1617.0,456.3 1624.5,468.1 1515.7,468.1" fill="#E55525"/>
<text x="1566.9" y="463.2" text-anchor="middle" font-weight="bold" font-size="19" textLength="86.6" lengthAdjust="spacingAndGlyphs" fill="#fff">$100,288,398</text>
<rect x="1621.6" y="502.0" width="2.6" height="223.7" fill="#E55525"/>
<polygon points="1618.7,723.9 1627.1,723.9 1622.9,730.7" fill="#E55525"/>
<polygon points="1621.5,479.4 1730.6,479.4 1723.1,491.2 1730.6,503.0 1621.5,503.0" fill="#E55525"/>
<text x="1672.7" y="498.1" text-anchor="middle" font-weight="bold" font-size="19" textLength="78.7" lengthAdjust="spacingAndGlyphs" fill="#fff">$86,481,683</text>
<rect x="1712.7" y="538.4" width="2.6" height="188.4" fill="#E55525"/>
<polygon points="1709.8,725.0 1718.2,725.0 1714.0,731.8" fill="#E55525"/>
<polygon points="1712.6,515.8 1820.6,515.8 1813.1,527.6 1820.6,539.4 1712.6,539.4" fill="#E55525"/>
<text x="1763.8" y="534.5" text-anchor="middle" font-weight="bold" font-size="19" textLength="78.7" lengthAdjust="spacingAndGlyphs" fill="#fff">$50,000,000</text>
<rect x="1812.9" y="610.4" width="2.6" height="10.3" fill="#E55525"/>
<polygon points="1810.0,618.9 1818.4,618.9 1814.2,625.7" fill="#E55525"/>
<polygon points="1812.8,587.8 1922.0,587.8 1914.5,599.6 1922.0,611.4 1812.8,611.4" fill="#E55525"/>
<text x="1864.0" y="606.5" text-anchor="middle" font-weight="bold" font-size="19" textLength="86.6" lengthAdjust="spacingAndGlyphs" fill="#fff">$678,088,882</text>
<polygon points="386.0,782.5 372.6,799.8 399.4,799.8" fill="#E55525"/>
<polygon points="481.6,782.5 468.2,799.8 495.0,799.8" fill="#E55525"/>
<polygon points="578.8,782.5 565.4,799.8 592.2,799.8" fill="#E55525"/>
<polygon points="686.0,782.5 672.6,799.8 699.4,799.8" fill="#E55525"/>
<polygon points="779.4,782.5 766.0,799.8 792.8,799.8" fill="#E55525"/>
<polygon points="877.3,782.5 863.9,799.8 890.7,799.8" fill="#E55525"/>
<text x="362.5" y="824.0" font-weight="bold" font-size="17" textLength="45.5" lengthAdjust="spacingAndGlyphs" fill="#4D4D52">UNITED</text>
<text x="362.5" y="841.9" font-weight="bold" font-size="17" textLength="45.0" lengthAdjust="spacingAndGlyphs" fill="#4D4D52">STATES</text>
<text x="454.7" y="824.0" font-weight="bold" font-size="17" textLength="51.7" lengthAdjust="spacingAndGlyphs" fill="#4D4D52">PRIVATE</text>
<text x="450.7" y="838.0" font-weight="normal" font-size="11.5" textLength="60.3" lengthAdjust="spacingAndGlyphs" fill="#4D4D52" stroke="#4D4D52" stroke-width="0.45">individuals &amp;</text>
<text x="449.4" y="852.0" font-weight="normal" font-size="11.5" textLength="62.6" lengthAdjust="spacingAndGlyphs" fill="#4D4D52" stroke="#4D4D52" stroke-width="0.45">organizations</text>
<text x="544.6" y="824.0" font-weight="bold" font-size="17" textLength="68.1" lengthAdjust="spacingAndGlyphs" fill="#4D4D52">EUROPEAN</text>
<text x="537.2" y="841.9" font-weight="bold" font-size="17" textLength="82.8" lengthAdjust="spacingAndGlyphs" fill="#4D4D52">COMMISSION</text>
<text x="650.2" y="824.0" font-weight="bold" font-size="17" textLength="72.2" lengthAdjust="spacingAndGlyphs" fill="#4D4D52">RED CROSS</text>
<text x="652.6" y="837.4" font-weight="normal" font-size="12" textLength="68.1" lengthAdjust="spacingAndGlyphs" fill="#4D4D52" stroke="#4D4D52" stroke-width="0.45">RED CRESCENT</text>
<text x="758.6" y="824.0" font-weight="bold" font-size="17" textLength="38.2" lengthAdjust="spacingAndGlyphs" fill="#4D4D52">SAUDI</text>
<text x="754.5" y="841.9" font-weight="bold" font-size="17" textLength="46.7" lengthAdjust="spacingAndGlyphs" fill="#4D4D52">ABABIA</text>
<text x="844.0" y="824.0" font-weight="bold" font-size="17" textLength="67.0" lengthAdjust="spacingAndGlyphs" fill="#4D4D52">ALL OTHER</text>
<text x="851.5" y="838.0" font-weight="normal" font-size="11.5" textLength="52.9" lengthAdjust="spacingAndGlyphs" fill="#4D4D52" stroke="#4D4D52" stroke-width="0.45">countries &amp;</text>
<text x="846.4" y="852.0" font-weight="normal" font-size="11.5" textLength="63.1" lengthAdjust="spacingAndGlyphs" fill="#4D4D52" stroke="#4D4D52" stroke-width="0.45">organizations</text>
<polygon points="1324.0,782.5 1310.6,799.8 1337.4,799.8" fill="#E55525"/>
<polygon points="1420.0,782.5 1406.6,799.8 1433.4,799.8" fill="#E55525"/>
<polygon points="1517.5,782.5 1504.1,799.8 1530.9,799.8" fill="#E55525"/>
<polygon points="1625.0,782.5 1611.6,799.8 1638.4,799.8" fill="#E55525"/>
<polygon points="1718.0,782.5 1704.6,799.8 1731.4,799.8" fill="#E55525"/>
<polygon points="1816.0,782.5 1802.6,799.8 1829.4,799.8" fill="#E55525"/>
<text x="1300.5" y="824.0" font-weight="bold" font-size="17" textLength="46.5" lengthAdjust="spacingAndGlyphs" fill="#4D4D52">UNITED</text>
<text x="1301.5" y="841.9" font-weight="bold" font-size="17" textLength="44.5" lengthAdjust="spacingAndGlyphs" fill="#4D4D52">STATES</text>
<text x="1392.5" y="824.0" font-weight="bold" font-size="17" textLength="51.5" lengthAdjust="spacingAndGlyphs" fill="#4D4D52">PRIVATE</text>
<text x="1389.0" y="838.0" font-weight="normal" font-size="11.5" textLength="59.5" lengthAdjust="spacingAndGlyphs" fill="#4D4D52" stroke="#4D4D52" stroke-width="0.45">individuals &amp;</text>
<text x="1386.5" y="852.0" font-weight="normal" font-size="11.5" textLength="63.5" lengthAdjust="spacingAndGlyphs" fill="#4D4D52" stroke="#4D4D52" stroke-width="0.45">organizations</text>
<text x="1482.5" y="824.0" font-weight="bold" font-size="17" textLength="69.0" lengthAdjust="spacingAndGlyphs" fill="#4D4D52">EUROPEAN</text>
<text x="1475.5" y="841.9" font-weight="bold" font-size="17" textLength="83.5" lengthAdjust="spacingAndGlyphs" fill="#4D4D52">COMMISSION</text>
<text x="1589.0" y="824.0" font-weight="bold" font-size="17" textLength="72.5" lengthAdjust="spacingAndGlyphs" fill="#4D4D52">RED CROSS</text>
<text x="1591.5" y="837.4" font-weight="normal" font-size="12" textLength="67.5" lengthAdjust="spacingAndGlyphs" fill="#4D4D52" stroke="#4D4D52" stroke-width="0.45">RED CRESCENT</text>
<text x="1697.5" y="824.0" font-weight="bold" font-size="17" textLength="38.5" lengthAdjust="spacingAndGlyphs" fill="#4D4D52">SAUDI</text>
<text x="1693.5" y="841.9" font-weight="bold" font-size="17" textLength="46.5" lengthAdjust="spacingAndGlyphs" fill="#4D4D52">ABABIA</text>
<text x="1782.0" y="824.0" font-weight="bold" font-size="17" textLength="67.5" lengthAdjust="spacingAndGlyphs" fill="#4D4D52">ALL OTHER</text>
<text x="1789.0" y="838.0" font-weight="normal" font-size="11.5" textLength="54.0" lengthAdjust="spacingAndGlyphs" fill="#4D4D52" stroke="#4D4D52" stroke-width="0.45">countries &amp;</text>
<text x="1784.0" y="852.0" font-weight="normal" font-size="11.5" textLength="63.5" lengthAdjust="spacingAndGlyphs" fill="#4D4D52" stroke="#4D4D52" stroke-width="0.45">organizations</text>
<path d="M387,853 V878 H148 V929" fill="none" stroke="#E55525" stroke-width="2.6"/>
<path d="M1324,853 V878.3 H1113.5 V930" fill="none" stroke="#E55525" stroke-width="2.6"/>
<polygon points="86.0,947.5 104.5,961.0 86.0,974.5" fill="#E55525"/>
<text x="118.6" y="956.4" font-weight="bold" font-size="23.5" textLength="61.0" lengthAdjust="spacingAndGlyphs" fill="#4D4D52" stroke="#4D4D52" stroke-width="0.5">UNITED</text>
<text x="118.6" y="980.8" font-weight="bold" font-size="23.5" textLength="59.3" lengthAdjust="spacingAndGlyphs" fill="#4D4D52" stroke="#4D4D52" stroke-width="0.5">STATES</text>
<text x="118.6" y="1004.3" font-weight="bold" font-size="13.5" textLength="125.5" lengthAdjust="spacing" fill="#4D4D52">Dollars per person:</text>
<text x="118.6" y="1028.0" font-family='"DejaVu Sans", "Liberation Sans", sans-serif' font-weight="bold" font-size="21" textLength="56.0" lengthAdjust="spacingAndGlyphs" fill="#E55525">$1.19</text>
<circle cx="345.8" cy="922.6" r="4" fill="#7ABF5E"/>
<circle cx="345.8" cy="940.1" r="4" fill="#7ABF5E"/>
<circle cx="345.8" cy="957.7" r="4" fill="#7ABF5E"/>
<circle cx="345.8" cy="975.2" r="4" fill="#7ABF5E"/>
<circle cx="345.8" cy="992.8" r="4" fill="#7ABF5E"/>
<circle cx="345.8" cy="1010.4" r="4" fill="#7ABF5E"/>
<circle cx="345.8" cy="1027.9" r="4" fill="#7ABF5E"/>
<text x="380.4" y="942.6" font-family='"DejaVu Serif", "Liberation Serif", serif' font-weight="bold" font-size="28" textLength="274.3" lengthAdjust="spacingAndGlyphs" fill="#7ABF5E" stroke="#7ABF5E" stroke-width="1.3">TOTAL DONATIONS:</text>
<text transform="translate(382.9,1034.5) scale(0.62,1)" x="0" y="0" font-weight="bold" font-size="88" textLength="758.7" lengthAdjust="spacing" fill="url(#htw2)" stroke="url(#htw2)" stroke-width="3">$1,526,210,424</text>
<text transform="translate(378.9,1031) scale(0.62,1)" x="0" y="0" font-weight="bold" font-size="88" textLength="758.7" lengthAdjust="spacing" fill="#E55525" stroke="#E55525" stroke-width="1.6">$1,526,210,424</text>
<polygon points="1058.0,945.0 1076.5,958.5 1058.0,972.0" fill="#E55525"/>
<text x="1085.5" y="953.9" font-weight="bold" font-size="23.5" textLength="61.0" lengthAdjust="spacingAndGlyphs" fill="#4D4D52" stroke="#4D4D52" stroke-width="0.5">UNITED</text>
<text x="1085.5" y="978.3" font-weight="bold" font-size="23.5" textLength="59.3" lengthAdjust="spacingAndGlyphs" fill="#4D4D52" stroke="#4D4D52" stroke-width="0.5">STATES</text>
<text x="1085.5" y="1001.8" font-weight="bold" font-size="13.5" textLength="125.5" lengthAdjust="spacing" fill="#4D4D52">Dollars per person:</text>
<text x="1085.5" y="1025.5" font-family='"DejaVu Sans", "Liberation Sans", sans-serif' font-weight="bold" font-size="21" textLength="43.5" lengthAdjust="spacingAndGlyphs" fill="#E55525">$3.7</text>
<circle cx="1280.0" cy="922.6" r="4" fill="#7ABF5E"/>
<circle cx="1280.0" cy="940.1" r="4" fill="#7ABF5E"/>
<circle cx="1280.0" cy="957.7" r="4" fill="#7ABF5E"/>
<circle cx="1280.0" cy="975.2" r="4" fill="#7ABF5E"/>
<circle cx="1280.0" cy="992.8" r="4" fill="#7ABF5E"/>
<circle cx="1280.0" cy="1010.4" r="4" fill="#7ABF5E"/>
<circle cx="1280.0" cy="1027.9" r="4" fill="#7ABF5E"/>
<text x="1315.0" y="942.6" font-family='"DejaVu Serif", "Liberation Serif", serif' font-weight="bold" font-size="28" textLength="275.0" lengthAdjust="spacingAndGlyphs" fill="#7ABF5E" stroke="#7ABF5E" stroke-width="1.3">TOTAL DONATIONS:</text>
<text transform="translate(1316.5,1034.5) scale(0.62,1)" x="0" y="0" font-weight="bold" font-size="88" textLength="758.1" lengthAdjust="spacing" fill="url(#htw2)" stroke="url(#htw2)" stroke-width="3">$3,316,167,137</text>
<text transform="translate(1312.5,1031) scale(0.62,1)" x="0" y="0" font-weight="bold" font-size="88" textLength="758.1" lengthAdjust="spacing" fill="#E55525" stroke="#E55525" stroke-width="1.6">$3,316,167,137</text>
<text x="87" y="1100" font-size="11.5" fill="#4D4D52" textLength="256.8" lengthAdjust="spacingAndGlyphs">A collaboration between <tspan font-weight="bold">GOOD</tspan> and <tspan font-weight="bold">Deeplocal</tspan></text>
<text x="87" y="1118.8" font-size="11.5" fill="#4D4D52" textLength="253.8" lengthAdjust="spacingAndGlyphs"><tspan font-weight="bold">SOURCE</tspan> Reliefweb via the Guardian Datablog</text>
<path d="M1694.8,1106.9 v13.5 a32.7,3.9 0 0 0 65.4,0 v-13.5 z" fill="#9C9CA2"/><ellipse cx="1727.5" cy="1106.9" rx="32.7" ry="3.9" fill="#A2A2A8"/><line x1="1698.1" y1="1110.9" x2="1698.1" y2="1120.7" stroke="#58585D" stroke-width="1.9" stroke-linecap="round"/><line x1="1702.3" y1="1111.7" x2="1702.3" y2="1121.5" stroke="#58585D" stroke-width="1.9" stroke-linecap="round"/><line x1="1706.5" y1="1112.2" x2="1706.5" y2="1122.0" stroke="#58585D" stroke-width="1.9" stroke-linecap="round"/><line x1="1710.7" y1="1112.5" x2="1710.7" y2="1122.3" stroke="#58585D" stroke-width="1.9" stroke-linecap="round"/><line x1="1714.9" y1="1112.8" x2="1714.9" y2="1122.6" stroke="#58585D" stroke-width="1.9" stroke-linecap="round"/><line x1="1719.1" y1="1113.0" x2="1719.1" y2="1122.8" stroke="#58585D" stroke-width="1.9" stroke-linecap="round"/><line x1="1723.3" y1="1113.1" x2="1723.3" y2="1122.9" stroke="#58585D" stroke-width="1.9" stroke-linecap="round"/><line x1="1727.5" y1="1113.1" x2="1727.5" y2="1122.9" stroke="#58585D" stroke-width="1.9" stroke-linecap="round"/><line x1="1731.7" y1="1113.1" x2="1731.7" y2="1122.9" stroke="#58585D" stroke-width="1.9" stroke-linecap="round"/><line x1="1735.9" y1="1113.0" x2="1735.9" y2="1122.8" stroke="#58585D" stroke-width="1.9" stroke-linecap="round"/><line x1="1740.1" y1="1112.8" x2="1740.1" y2="1122.6" stroke="#58585D" stroke-width="1.9" stroke-linecap="round"/><line x1="1744.3" y1="1112.5" x2="1744.3" y2="1122.3" stroke="#58585D" stroke-width="1.9" stroke-linecap="round"/><line x1="1748.5" y1="1112.2" x2="1748.5" y2="1122.0" stroke="#58585D" stroke-width="1.9" stroke-linecap="round"/><line x1="1752.7" y1="1111.7" x2="1752.7" y2="1121.5" stroke="#58585D" stroke-width="1.9" stroke-linecap="round"/><line x1="1756.9" y1="1110.9" x2="1756.9" y2="1120.7" stroke="#58585D" stroke-width="1.9" stroke-linecap="round"/><polyline points="1711.5,1110.6 1713.5,1110.7 1715.5,1110.8 1717.5,1110.9" fill="none" stroke="#fff" stroke-width="1.8"/><polyline points="1719.5,1111.0 1721.5,1111.0 1723.5,1111.1 1725.5,1111.1 1727.5,1111.1 1729.5,1111.1 1731.5,1111.1 1733.5,1111.0 1735.5,1111.0 1737.5,1110.9 1739.5,1110.8 1741.5,1110.7 1743.5,1110.6 1745.5,1110.5 1747.5,1110.3 1749.5,1110.1 1751.5,1109.8 1753.5,1109.6 1755.5,1109.2 1757.5,1108.8" fill="none" stroke="#fff" stroke-width="1.8"/>
<text x="1773" y="1120" font-size="18" textLength="120.5" lengthAdjust="spacingAndGlyphs" fill="#E55525" stroke="#E55525" stroke-width="0.8">=$100,000,000</text>
<text transform="translate(81.0,479.0) rotate(-44.0)" x="0" y="15.7" text-anchor="middle" font-family='"DejaVu Serif", "Liberation Serif", serif' font-weight="bold" font-size="43" fill="#E55525" stroke="#E55525" stroke-width="2.1" lengthAdjust="spacingAndGlyphs" textLength="28">P</text>
<text transform="translate(115.5,458.0) rotate(-35.0)" x="0" y="15.7" text-anchor="middle" font-family='"DejaVu Serif", "Liberation Serif", serif' font-weight="bold" font-size="43" fill="#E55525" stroke="#E55525" stroke-width="2.1" lengthAdjust="spacingAndGlyphs" textLength="32">A</text>
<text transform="translate(144.0,437.0) rotate(-27.0)" x="0" y="15.7" text-anchor="middle" font-family='"DejaVu Serif", "Liberation Serif", serif' font-weight="bold" font-size="43" fill="#E55525" stroke="#E55525" stroke-width="2.1" lengthAdjust="spacingAndGlyphs" textLength="31">K</text>
<text transform="translate(174.0,426.5) rotate(-19.5)" x="0" y="15.7" text-anchor="middle" font-family='"DejaVu Serif", "Liberation Serif", serif' font-weight="bold" font-size="43" fill="#E55525" stroke="#E55525" stroke-width="2.1" lengthAdjust="spacingAndGlyphs" textLength="15">I</text>
<text transform="translate(202.5,420.5) rotate(-12.5)" x="0" y="15.7" text-anchor="middle" font-family='"DejaVu Serif", "Liberation Serif", serif' font-weight="bold" font-size="43" fill="#E55525" stroke="#E55525" stroke-width="2.1" lengthAdjust="spacingAndGlyphs" textLength="23">S</text>
<text transform="translate(232.5,414.5) rotate(-5.0)" x="0" y="15.7" text-anchor="middle" font-family='"DejaVu Serif", "Liberation Serif", serif' font-weight="bold" font-size="43" fill="#E55525" stroke="#E55525" stroke-width="2.1" lengthAdjust="spacingAndGlyphs" textLength="28">T</text>
<text transform="translate(268.5,416.0) rotate(3.5)" x="0" y="15.7" text-anchor="middle" font-family='"DejaVu Serif", "Liberation Serif", serif' font-weight="bold" font-size="43" fill="#E55525" stroke="#E55525" stroke-width="2.1" lengthAdjust="spacingAndGlyphs" textLength="32">A</text>
<text transform="translate(303.0,417.5) rotate(11.5)" x="0" y="15.7" text-anchor="middle" font-family='"DejaVu Serif", "Liberation Serif", serif' font-weight="bold" font-size="43" fill="#E55525" stroke="#E55525" stroke-width="2.1" lengthAdjust="spacingAndGlyphs" textLength="31">N</text>
<rect x="90" y="520" width="9.6" height="183" rx="2" fill="#55565A"/>
<path d="M106,520.2 C118,526 130,529 141.7,529.5 V515 C152,510 162,505 175,505 C190,505.5 202,513 210.8,521 V610.3 C200,602 190,595.5 176,595.2 C162,595.5 152,602 141.7,607.6 V618.5 C128,617.5 116,614 106,609.8 Z" fill="#479366"/>
<clipPath id="pfb"><path d="M137.9,529 L141.7,529 V515 L154.2,509.5 V601 L141.7,607.6 V618.5 H137.9 Z"/></clipPath>
<rect x="137.9" y="505" width="16.3" height="115" fill="url(#htw)" clip-path="url(#pfb)"/>
<polygon points="167.7,530.0 169.4,534.7 174.4,534.8 170.5,537.9 171.8,542.7 167.7,539.9 163.6,542.7 164.9,537.9 161.0,534.8 166.0,534.7" fill="#fff"/>
<path d="M140.9,560 L143.5,562.3 A19.3,19.3 0 0 0 174.7,565.6 A23.8,23.8 0 0 1 140.9,581.1 Z" fill="#fff"/>
<clipPath id="pkc"><polygon points="235.7,571.1 248.5,563.8 278.8,557.3 290.7,561.0 297.1,567.4 324.6,572.0 309.0,587.6 294.4,593.1 277.9,596.8 276.0,605.0 283.4,617.8 298.9,616.0 302.6,625.2 292.5,636.2 292.5,649.0 283.4,660.0 280.6,669.2 263.2,688.4 249.4,693.0 244.8,686.6 236.6,705.8 246.7,709.5 244.8,718.7 261.3,733.4 263.2,747.1 232.0,749.9 217.3,759.9 202.7,757.2 197.2,747.1 167.8,748.9 123.8,749.9 114.7,737.0 122.0,725.1 134.8,718.7 132.1,703.1 112.8,689.3 108.3,680.2 112.8,675.6 149.5,680.2 153.2,676.5 178.8,670.1 183.4,651.8 208.2,639.8 214.6,641.7 214.6,628.8 219.2,620.6 219.2,608.7 229.3,606.8 236.6,589.4 228.3,580.3"/></clipPath>
<polygon points="235.7,571.1 248.5,563.8 278.8,557.3 290.7,561.0 297.1,567.4 324.6,572.0 309.0,587.6 294.4,593.1 277.9,596.8 276.0,605.0 283.4,617.8 298.9,616.0 302.6,625.2 292.5,636.2 292.5,649.0 283.4,660.0 280.6,669.2 263.2,688.4 249.4,693.0 244.8,686.6 236.6,705.8 246.7,709.5 244.8,718.7 261.3,733.4 263.2,747.1 232.0,749.9 217.3,759.9 202.7,757.2 197.2,747.1 167.8,748.9 123.8,749.9 114.7,737.0 122.0,725.1 134.8,718.7 132.1,703.1 112.8,689.3 108.3,680.2 112.8,675.6 149.5,680.2 153.2,676.5 178.8,670.1 183.4,651.8 208.2,639.8 214.6,641.7 214.6,628.8 219.2,620.6 219.2,608.7 229.3,606.8 236.6,589.4 228.3,580.3" fill="url(#ht)" transform="translate(8,7)"/>
<polygon points="235.7,571.1 248.5,563.8 278.8,557.3 290.7,561.0 297.1,567.4 324.6,572.0 309.0,587.6 294.4,593.1 277.9,596.8 276.0,605.0 283.4,617.8 298.9,616.0 302.6,625.2 292.5,636.2 292.5,649.0 283.4,660.0 280.6,669.2 263.2,688.4 249.4,693.0 244.8,686.6 236.6,705.8 246.7,709.5 244.8,718.7 261.3,733.4 263.2,747.1 232.0,749.9 217.3,759.9 202.7,757.2 197.2,747.1 167.8,748.9 123.8,749.9 114.7,737.0 122.0,725.1 134.8,718.7 132.1,703.1 112.8,689.3 108.3,680.2 112.8,675.6 149.5,680.2 153.2,676.5 178.8,670.1 183.4,651.8 208.2,639.8 214.6,641.7 214.6,628.8 219.2,620.6 219.2,608.7 229.3,606.8 236.6,589.4 228.3,580.3" fill="#B9DCA5" stroke="#7ABF5E" stroke-width="15.5" stroke-linejoin="miter" clip-path="url(#pkc)"/>
<text transform="translate(1070.5,470.5) rotate(-38.0)" x="0" y="14.6" text-anchor="middle" font-family='"DejaVu Serif", "Liberation Serif", serif' font-weight="bold" font-size="40" fill="#E55525" stroke="#E55525" stroke-width="2.1" lengthAdjust="spacingAndGlyphs" textLength="32">H</text>
<text transform="translate(1109.5,449.5) rotate(-25.0)" x="0" y="14.6" text-anchor="middle" font-family='"DejaVu Serif", "Liberation Serif", serif' font-weight="bold" font-size="40" fill="#E55525" stroke="#E55525" stroke-width="2.1" lengthAdjust="spacingAndGlyphs" textLength="31">A</text>
<text transform="translate(1139.5,436.0) rotate(-15.0)" x="0" y="14.6" text-anchor="middle" font-family='"DejaVu Serif", "Liberation Serif", serif' font-weight="bold" font-size="40" fill="#E55525" stroke="#E55525" stroke-width="2.1" lengthAdjust="spacingAndGlyphs" textLength="15">I</text>
<text transform="translate(1169.5,428.5) rotate(-6.0)" x="0" y="14.6" text-anchor="middle" font-family='"DejaVu Serif", "Liberation Serif", serif' font-weight="bold" font-size="40" fill="#E55525" stroke="#E55525" stroke-width="2.1" lengthAdjust="spacingAndGlyphs" textLength="26">T</text>
<text transform="translate(1202.5,425.5) rotate(4.0)" x="0" y="14.6" text-anchor="middle" font-family='"DejaVu Serif", "Liberation Serif", serif' font-weight="bold" font-size="40" fill="#E55525" stroke="#E55525" stroke-width="2.1" lengthAdjust="spacingAndGlyphs" textLength="15">I</text>
<rect x="1100" y="496.6" width="9.8" height="169" rx="2" fill="#55565A"/>
<path d="M1114,497.5 C1130,503.5 1146,505 1162,504.4 V494 C1172,490.5 1182,489 1192,489.4 C1204,490 1215,494 1223.5,499 V538 C1215,533 1204,529 1192,528.4 C1182,528 1172,529.5 1162,533 V544 C1146,544 1130,542 1114,536.5 Z" fill="#E55525"/>
<path d="M1114,536.5 C1130,542 1146,544 1162,544 V533 C1172,529.5 1182,528 1192,528.4 C1204,529 1215,533 1223.5,538 V578.5 C1215,573 1204,567 1192,566.5 C1182,566 1172,568 1162,572 V583.6 C1146,583 1130,581 1114,575.5 Z" fill="#3093BD"/>
<clipPath id="hfb"><path d="M1157.5,487 H1175.5 V568 L1162,572 V583.6 H1157.5 Z"/></clipPath>
<rect x="1157.5" y="487" width="18" height="100" fill="url(#htw)" clip-path="url(#hfb)"/>
<clipPath id="htc"><polygon points="1115.8,606.2 1125.0,601.3 1137.7,594.2 1160.4,592.8 1181.6,597.7 1193.7,606.2 1200.7,602.7 1212.1,609.8 1216.3,607.7 1237.6,611.9 1236.1,621.8 1238.3,633.2 1236.1,639.5 1244.6,645.9 1241.1,657.2 1235.4,663.6 1237.6,671.4 1238.3,681.3 1229.8,691.9 1224.1,694.0 1225.5,698.3 1241.1,709.6 1234.0,737.2 1222.7,728.0 1217.7,721.0 1181.6,723.1 1176.0,725.9 1146.2,725.9 1105.1,720.2 1100.9,737.2 1086.7,734.4 1081.1,723.8 1065.5,716.7 1058.4,717.4 1045.0,704.0 1052.0,689.8 1058.4,684.1 1068.3,682.7 1093.8,691.2 1102.3,687.7 1105.9,694.0 1132.1,696.2 1139.1,694.8 1146.2,697.6 1171.7,696.9 1173.8,691.2 1188.7,691.9 1197.2,682.7 1181.6,675.6 1168.2,661.5 1154.7,657.2 1162.5,653.0 1159.0,649.4 1163.2,641.6 1160.4,633.2 1153.3,626.1 1136.3,621.1 1125.0,617.6 1117.2,612.6"/></clipPath>
<clipPath id="isc"><polygon points="1122.1,668.6 1132.1,663.6 1144.8,664.3 1161.8,672.8 1167.5,682.7 1166.0,687.0 1153.3,686.3 1139.1,681.3 1127.8,672.8"/></clipPath>
<polygon points="1115.8,606.2 1125.0,601.3 1137.7,594.2 1160.4,592.8 1181.6,597.7 1193.7,606.2 1200.7,602.7 1212.1,609.8 1216.3,607.7 1237.6,611.9 1236.1,621.8 1238.3,633.2 1236.1,639.5 1244.6,645.9 1241.1,657.2 1235.4,663.6 1237.6,671.4 1238.3,681.3 1229.8,691.9 1224.1,694.0 1225.5,698.3 1241.1,709.6 1234.0,737.2 1222.7,728.0 1217.7,721.0 1181.6,723.1 1176.0,725.9 1146.2,725.9 1105.1,720.2 1100.9,737.2 1086.7,734.4 1081.1,723.8 1065.5,716.7 1058.4,717.4 1045.0,704.0 1052.0,689.8 1058.4,684.1 1068.3,682.7 1093.8,691.2 1102.3,687.7 1105.9,694.0 1132.1,696.2 1139.1,694.8 1146.2,697.6 1171.7,696.9 1173.8,691.2 1188.7,691.9 1197.2,682.7 1181.6,675.6 1168.2,661.5 1154.7,657.2 1162.5,653.0 1159.0,649.4 1163.2,641.6 1160.4,633.2 1153.3,626.1 1136.3,621.1 1125.0,617.6 1117.2,612.6" fill="url(#ht)" transform="translate(13,10)"/>
<polygon points="1122.1,668.6 1132.1,663.6 1144.8,664.3 1161.8,672.8 1167.5,682.7 1166.0,687.0 1153.3,686.3 1139.1,681.3 1127.8,672.8" fill="url(#ht)" transform="translate(9,8)"/>
<polygon points="1115.8,606.2 1125.0,601.3 1137.7,594.2 1160.4,592.8 1181.6,597.7 1193.7,606.2 1200.7,602.7 1212.1,609.8 1216.3,607.7 1237.6,611.9 1236.1,621.8 1238.3,633.2 1236.1,639.5 1244.6,645.9 1241.1,657.2 1235.4,663.6 1237.6,671.4 1238.3,681.3 1229.8,691.9 1224.1,694.0 1225.5,698.3 1241.1,709.6 1234.0,737.2 1222.7,728.0 1217.7,721.0 1181.6,723.1 1176.0,725.9 1146.2,725.9 1105.1,720.2 1100.9,737.2 1086.7,734.4 1081.1,723.8 1065.5,716.7 1058.4,717.4 1045.0,704.0 1052.0,689.8 1058.4,684.1 1068.3,682.7 1093.8,691.2 1102.3,687.7 1105.9,694.0 1132.1,696.2 1139.1,694.8 1146.2,697.6 1171.7,696.9 1173.8,691.2 1188.7,691.9 1197.2,682.7 1181.6,675.6 1168.2,661.5 1154.7,657.2 1162.5,653.0 1159.0,649.4 1163.2,641.6 1160.4,633.2 1153.3,626.1 1136.3,621.1 1125.0,617.6 1117.2,612.6" fill="#B9DCA5" stroke="#7ABF5E" stroke-width="14.5" clip-path="url(#htc)"/>
<polygon points="1122.1,668.6 1132.1,663.6 1144.8,664.3 1161.8,672.8 1167.5,682.7 1166.0,687.0 1153.3,686.3 1139.1,681.3 1127.8,672.8" fill="#B9DCA5" stroke="#7ABF5E" stroke-width="10" clip-path="url(#isc)"/>
<filter id="gr" x="-5%" y="-5%" width="110%" height="110%" filterUnits="objectBoundingBox"><feTurbulence type="fractalNoise" baseFrequency="0.035" numOctaves="3" seed="4" result="n1"/><feDisplacementMap in="SourceGraphic" in2="n1" scale="26" xChannelSelector="R" yChannelSelector="G" result="d"/><feTurbulence type="fractalNoise" baseFrequency="0.45" numOctaves="2" seed="9" result="n2"/><feColorMatrix in="n2" type="matrix" values="0 0 0 0 1  0 0 0 0 1  0 0 0 0 1  3.2 0 0 0 -1.15" result="sp"/><feComposite in="d" in2="sp" operator="in"/></filter>
<g filter="url(#gr)" fill="#fff">
<rect x="-20" y="-20" width="2038" height="1240" fill="none"/>
<rect x="-10" y="-14" width="230" height="26" opacity="1"/>
<rect x="200" y="-14" width="270" height="22" opacity="0.75"/>
<rect x="-17" y="0" width="22" height="1200" opacity="0.5"/>
<rect x="-14" y="350" width="20" height="70" opacity="0.8"/>
<rect x="-14" y="80" width="18" height="60" opacity="0.6"/>
<rect x="-14" y="1060" width="30" height="150" opacity="0.8"/>
<rect x="-10" y="1182" width="390" height="30" opacity="1"/>
<rect x="60" y="1172" width="180" height="18" opacity="0.7"/>
<rect x="880" y="1194" width="230" height="16" opacity="0.6"/>
<rect x="1250" y="1195" width="760" height="14" opacity="0.6"/>
<rect x="1991" y="-5" width="24" height="1210" opacity="0.55"/>
<rect x="1980" y="0" width="30" height="110" opacity="0.45"/>
<rect x="1985" y="578" width="22" height="34" opacity="0.9"/>
<rect x="1988" y="1065" width="20" height="70" opacity="0.9"/>
</g>
</svg></body></html>
